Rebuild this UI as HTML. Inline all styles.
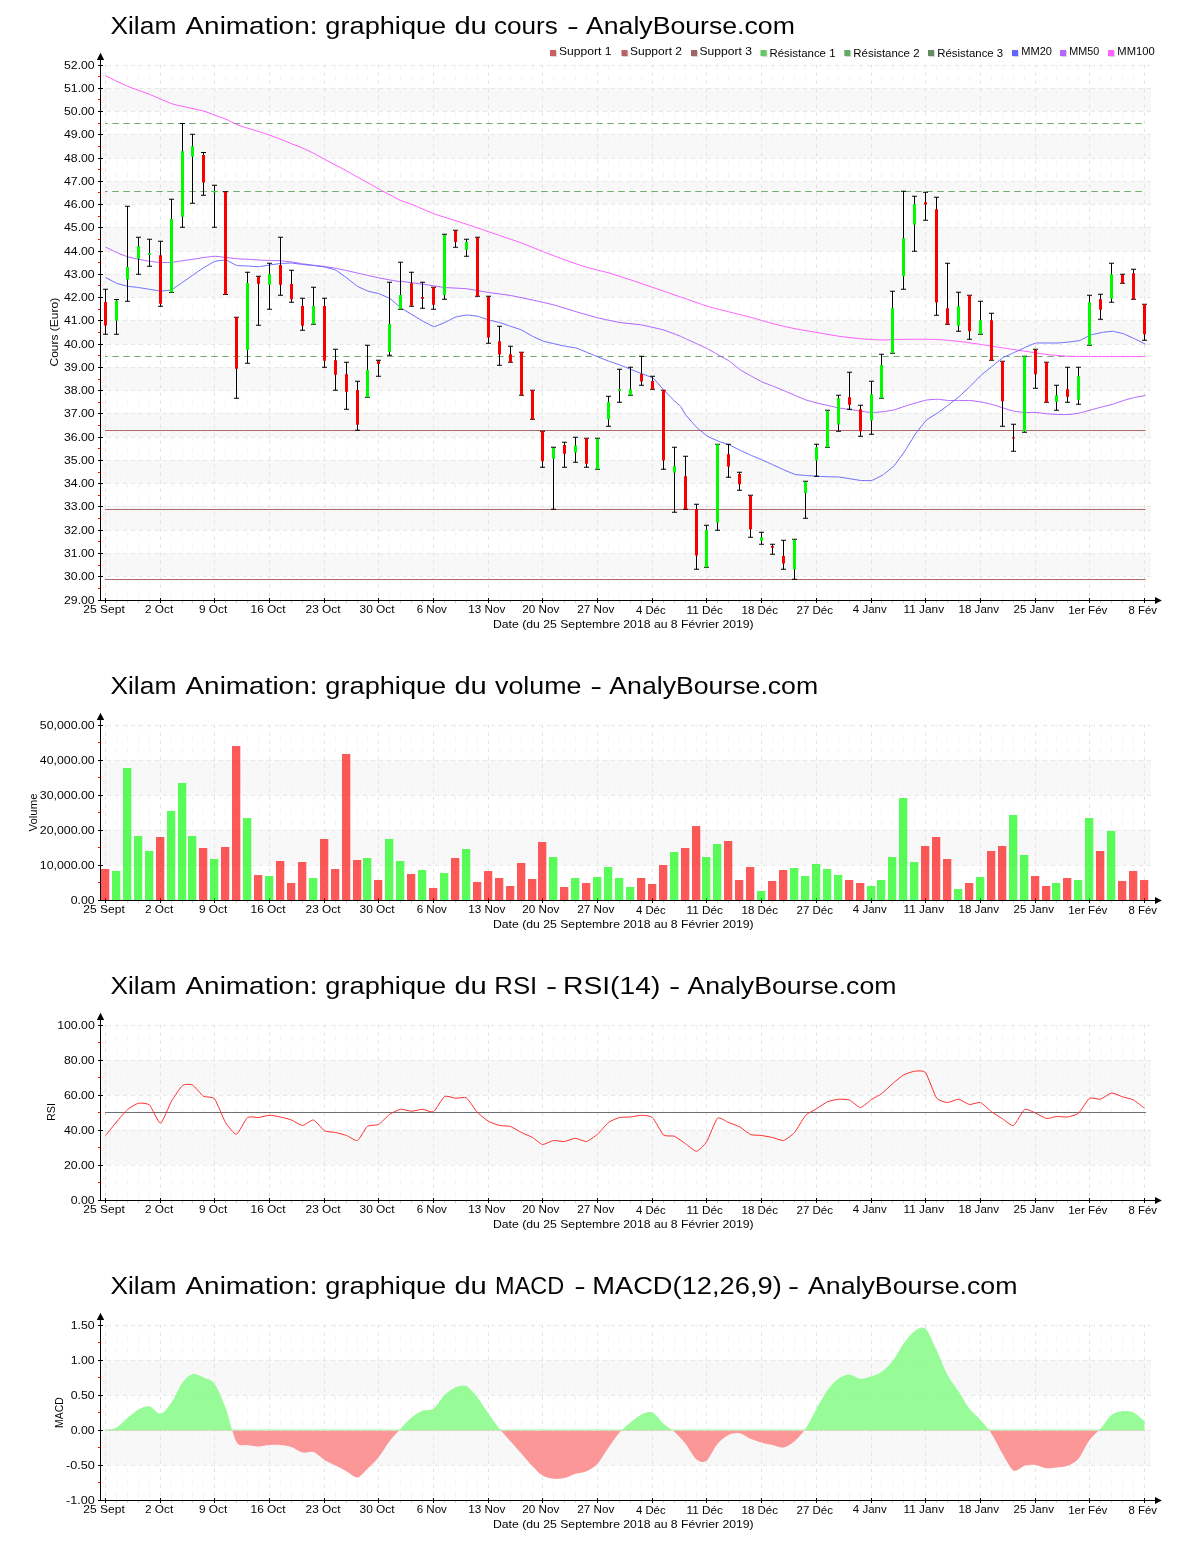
<!DOCTYPE html><html><head><meta charset="utf-8"><title>Xilam Animation</title><style>html,body{margin:0;padding:0;background:#fff}svg{display:block}text{font-family:"Liberation Sans",sans-serif;fill:#000}</style></head><body>
<svg width="1200" height="1550" viewBox="0 0 1200 1550">
<rect width="1200" height="1550" fill="#fff"/>
<rect x="100" y="88" width="1051" height="23" fill="#f8f8f8"/>
<rect x="100" y="134" width="1051" height="24" fill="#f8f8f8"/>
<rect x="100" y="181" width="1051" height="23" fill="#f8f8f8"/>
<rect x="100" y="227" width="1051" height="24" fill="#f8f8f8"/>
<rect x="100" y="274" width="1051" height="23" fill="#f8f8f8"/>
<rect x="100" y="320" width="1051" height="24" fill="#f8f8f8"/>
<rect x="100" y="367" width="1051" height="23" fill="#f8f8f8"/>
<rect x="100" y="413" width="1051" height="24" fill="#f8f8f8"/>
<rect x="100" y="460" width="1051" height="23" fill="#f8f8f8"/>
<rect x="100" y="506" width="1051" height="24" fill="#f8f8f8"/>
<rect x="100" y="553" width="1051" height="23" fill="#f8f8f8"/>
<line x1="105.5" y1="64.5" x2="105.5" y2="600" stroke="#e3e3e3" stroke-dasharray="3.5 4.5" stroke-width="1"/>
<line x1="116.5" y1="64.2" x2="116.5" y2="600" stroke="#f4f4f4" stroke-dasharray="5.5 6.5" stroke-width="1"/>
<line x1="127.5" y1="64.2" x2="127.5" y2="600" stroke="#f4f4f4" stroke-dasharray="5.5 6.5" stroke-width="1"/>
<line x1="138.5" y1="64.2" x2="138.5" y2="600" stroke="#f4f4f4" stroke-dasharray="5.5 6.5" stroke-width="1"/>
<line x1="149.5" y1="64.2" x2="149.5" y2="600" stroke="#f4f4f4" stroke-dasharray="5.5 6.5" stroke-width="1"/>
<line x1="160.5" y1="64.5" x2="160.5" y2="600" stroke="#e3e3e3" stroke-dasharray="3.5 4.5" stroke-width="1"/>
<line x1="171.5" y1="64.2" x2="171.5" y2="600" stroke="#f4f4f4" stroke-dasharray="5.5 6.5" stroke-width="1"/>
<line x1="182.5" y1="64.2" x2="182.5" y2="600" stroke="#f4f4f4" stroke-dasharray="5.5 6.5" stroke-width="1"/>
<line x1="192.5" y1="64.2" x2="192.5" y2="600" stroke="#f4f4f4" stroke-dasharray="5.5 6.5" stroke-width="1"/>
<line x1="203.5" y1="64.2" x2="203.5" y2="600" stroke="#f4f4f4" stroke-dasharray="5.5 6.5" stroke-width="1"/>
<line x1="214.5" y1="64.5" x2="214.5" y2="600" stroke="#e3e3e3" stroke-dasharray="3.5 4.5" stroke-width="1"/>
<line x1="225.5" y1="64.2" x2="225.5" y2="600" stroke="#f4f4f4" stroke-dasharray="5.5 6.5" stroke-width="1"/>
<line x1="236.5" y1="64.2" x2="236.5" y2="600" stroke="#f4f4f4" stroke-dasharray="5.5 6.5" stroke-width="1"/>
<line x1="247.5" y1="64.2" x2="247.5" y2="600" stroke="#f4f4f4" stroke-dasharray="5.5 6.5" stroke-width="1"/>
<line x1="258.5" y1="64.2" x2="258.5" y2="600" stroke="#f4f4f4" stroke-dasharray="5.5 6.5" stroke-width="1"/>
<line x1="269.5" y1="64.5" x2="269.5" y2="600" stroke="#e3e3e3" stroke-dasharray="3.5 4.5" stroke-width="1"/>
<line x1="280.5" y1="64.2" x2="280.5" y2="600" stroke="#f4f4f4" stroke-dasharray="5.5 6.5" stroke-width="1"/>
<line x1="291.5" y1="64.2" x2="291.5" y2="600" stroke="#f4f4f4" stroke-dasharray="5.5 6.5" stroke-width="1"/>
<line x1="302.5" y1="64.2" x2="302.5" y2="600" stroke="#f4f4f4" stroke-dasharray="5.5 6.5" stroke-width="1"/>
<line x1="313.5" y1="64.2" x2="313.5" y2="600" stroke="#f4f4f4" stroke-dasharray="5.5 6.5" stroke-width="1"/>
<line x1="324.5" y1="64.5" x2="324.5" y2="600" stroke="#e3e3e3" stroke-dasharray="3.5 4.5" stroke-width="1"/>
<line x1="335.5" y1="64.2" x2="335.5" y2="600" stroke="#f4f4f4" stroke-dasharray="5.5 6.5" stroke-width="1"/>
<line x1="346.5" y1="64.2" x2="346.5" y2="600" stroke="#f4f4f4" stroke-dasharray="5.5 6.5" stroke-width="1"/>
<line x1="357.5" y1="64.2" x2="357.5" y2="600" stroke="#f4f4f4" stroke-dasharray="5.5 6.5" stroke-width="1"/>
<line x1="367.5" y1="64.2" x2="367.5" y2="600" stroke="#f4f4f4" stroke-dasharray="5.5 6.5" stroke-width="1"/>
<line x1="378.5" y1="64.5" x2="378.5" y2="600" stroke="#e3e3e3" stroke-dasharray="3.5 4.5" stroke-width="1"/>
<line x1="389.5" y1="64.2" x2="389.5" y2="600" stroke="#f4f4f4" stroke-dasharray="5.5 6.5" stroke-width="1"/>
<line x1="400.5" y1="64.2" x2="400.5" y2="600" stroke="#f4f4f4" stroke-dasharray="5.5 6.5" stroke-width="1"/>
<line x1="411.5" y1="64.2" x2="411.5" y2="600" stroke="#f4f4f4" stroke-dasharray="5.5 6.5" stroke-width="1"/>
<line x1="422.5" y1="64.2" x2="422.5" y2="600" stroke="#f4f4f4" stroke-dasharray="5.5 6.5" stroke-width="1"/>
<line x1="433.5" y1="64.5" x2="433.5" y2="600" stroke="#e3e3e3" stroke-dasharray="3.5 4.5" stroke-width="1"/>
<line x1="444.5" y1="64.2" x2="444.5" y2="600" stroke="#f4f4f4" stroke-dasharray="5.5 6.5" stroke-width="1"/>
<line x1="455.5" y1="64.2" x2="455.5" y2="600" stroke="#f4f4f4" stroke-dasharray="5.5 6.5" stroke-width="1"/>
<line x1="466.5" y1="64.2" x2="466.5" y2="600" stroke="#f4f4f4" stroke-dasharray="5.5 6.5" stroke-width="1"/>
<line x1="477.5" y1="64.2" x2="477.5" y2="600" stroke="#f4f4f4" stroke-dasharray="5.5 6.5" stroke-width="1"/>
<line x1="488.5" y1="64.5" x2="488.5" y2="600" stroke="#e3e3e3" stroke-dasharray="3.5 4.5" stroke-width="1"/>
<line x1="499.5" y1="64.2" x2="499.5" y2="600" stroke="#f4f4f4" stroke-dasharray="5.5 6.5" stroke-width="1"/>
<line x1="510.5" y1="64.2" x2="510.5" y2="600" stroke="#f4f4f4" stroke-dasharray="5.5 6.5" stroke-width="1"/>
<line x1="521.5" y1="64.2" x2="521.5" y2="600" stroke="#f4f4f4" stroke-dasharray="5.5 6.5" stroke-width="1"/>
<line x1="532.5" y1="64.2" x2="532.5" y2="600" stroke="#f4f4f4" stroke-dasharray="5.5 6.5" stroke-width="1"/>
<line x1="542.5" y1="64.5" x2="542.5" y2="600" stroke="#e3e3e3" stroke-dasharray="3.5 4.5" stroke-width="1"/>
<line x1="553.5" y1="64.2" x2="553.5" y2="600" stroke="#f4f4f4" stroke-dasharray="5.5 6.5" stroke-width="1"/>
<line x1="564.5" y1="64.2" x2="564.5" y2="600" stroke="#f4f4f4" stroke-dasharray="5.5 6.5" stroke-width="1"/>
<line x1="575.5" y1="64.2" x2="575.5" y2="600" stroke="#f4f4f4" stroke-dasharray="5.5 6.5" stroke-width="1"/>
<line x1="586.5" y1="64.2" x2="586.5" y2="600" stroke="#f4f4f4" stroke-dasharray="5.5 6.5" stroke-width="1"/>
<line x1="597.5" y1="64.5" x2="597.5" y2="600" stroke="#e3e3e3" stroke-dasharray="3.5 4.5" stroke-width="1"/>
<line x1="608.5" y1="64.2" x2="608.5" y2="600" stroke="#f4f4f4" stroke-dasharray="5.5 6.5" stroke-width="1"/>
<line x1="619.5" y1="64.2" x2="619.5" y2="600" stroke="#f4f4f4" stroke-dasharray="5.5 6.5" stroke-width="1"/>
<line x1="630.5" y1="64.2" x2="630.5" y2="600" stroke="#f4f4f4" stroke-dasharray="5.5 6.5" stroke-width="1"/>
<line x1="641.5" y1="64.2" x2="641.5" y2="600" stroke="#f4f4f4" stroke-dasharray="5.5 6.5" stroke-width="1"/>
<line x1="652.5" y1="64.5" x2="652.5" y2="600" stroke="#e3e3e3" stroke-dasharray="3.5 4.5" stroke-width="1"/>
<line x1="663.5" y1="64.2" x2="663.5" y2="600" stroke="#f4f4f4" stroke-dasharray="5.5 6.5" stroke-width="1"/>
<line x1="674.5" y1="64.2" x2="674.5" y2="600" stroke="#f4f4f4" stroke-dasharray="5.5 6.5" stroke-width="1"/>
<line x1="685.5" y1="64.2" x2="685.5" y2="600" stroke="#f4f4f4" stroke-dasharray="5.5 6.5" stroke-width="1"/>
<line x1="696.5" y1="64.2" x2="696.5" y2="600" stroke="#f4f4f4" stroke-dasharray="5.5 6.5" stroke-width="1"/>
<line x1="706.5" y1="64.5" x2="706.5" y2="600" stroke="#e3e3e3" stroke-dasharray="3.5 4.5" stroke-width="1"/>
<line x1="717.5" y1="64.2" x2="717.5" y2="600" stroke="#f4f4f4" stroke-dasharray="5.5 6.5" stroke-width="1"/>
<line x1="728.5" y1="64.2" x2="728.5" y2="600" stroke="#f4f4f4" stroke-dasharray="5.5 6.5" stroke-width="1"/>
<line x1="739.5" y1="64.2" x2="739.5" y2="600" stroke="#f4f4f4" stroke-dasharray="5.5 6.5" stroke-width="1"/>
<line x1="750.5" y1="64.2" x2="750.5" y2="600" stroke="#f4f4f4" stroke-dasharray="5.5 6.5" stroke-width="1"/>
<line x1="761.5" y1="64.5" x2="761.5" y2="600" stroke="#e3e3e3" stroke-dasharray="3.5 4.5" stroke-width="1"/>
<line x1="772.5" y1="64.2" x2="772.5" y2="600" stroke="#f4f4f4" stroke-dasharray="5.5 6.5" stroke-width="1"/>
<line x1="783.5" y1="64.2" x2="783.5" y2="600" stroke="#f4f4f4" stroke-dasharray="5.5 6.5" stroke-width="1"/>
<line x1="794.5" y1="64.2" x2="794.5" y2="600" stroke="#f4f4f4" stroke-dasharray="5.5 6.5" stroke-width="1"/>
<line x1="805.5" y1="64.2" x2="805.5" y2="600" stroke="#f4f4f4" stroke-dasharray="5.5 6.5" stroke-width="1"/>
<line x1="816.5" y1="64.5" x2="816.5" y2="600" stroke="#e3e3e3" stroke-dasharray="3.5 4.5" stroke-width="1"/>
<line x1="827.5" y1="64.2" x2="827.5" y2="600" stroke="#f4f4f4" stroke-dasharray="5.5 6.5" stroke-width="1"/>
<line x1="838.5" y1="64.2" x2="838.5" y2="600" stroke="#f4f4f4" stroke-dasharray="5.5 6.5" stroke-width="1"/>
<line x1="849.5" y1="64.2" x2="849.5" y2="600" stroke="#f4f4f4" stroke-dasharray="5.5 6.5" stroke-width="1"/>
<line x1="860.5" y1="64.2" x2="860.5" y2="600" stroke="#f4f4f4" stroke-dasharray="5.5 6.5" stroke-width="1"/>
<line x1="871.5" y1="64.5" x2="871.5" y2="600" stroke="#e3e3e3" stroke-dasharray="3.5 4.5" stroke-width="1"/>
<line x1="881.5" y1="64.2" x2="881.5" y2="600" stroke="#f4f4f4" stroke-dasharray="5.5 6.5" stroke-width="1"/>
<line x1="892.5" y1="64.2" x2="892.5" y2="600" stroke="#f4f4f4" stroke-dasharray="5.5 6.5" stroke-width="1"/>
<line x1="903.5" y1="64.2" x2="903.5" y2="600" stroke="#f4f4f4" stroke-dasharray="5.5 6.5" stroke-width="1"/>
<line x1="914.5" y1="64.2" x2="914.5" y2="600" stroke="#f4f4f4" stroke-dasharray="5.5 6.5" stroke-width="1"/>
<line x1="925.5" y1="64.5" x2="925.5" y2="600" stroke="#e3e3e3" stroke-dasharray="3.5 4.5" stroke-width="1"/>
<line x1="936.5" y1="64.2" x2="936.5" y2="600" stroke="#f4f4f4" stroke-dasharray="5.5 6.5" stroke-width="1"/>
<line x1="947.5" y1="64.2" x2="947.5" y2="600" stroke="#f4f4f4" stroke-dasharray="5.5 6.5" stroke-width="1"/>
<line x1="958.5" y1="64.2" x2="958.5" y2="600" stroke="#f4f4f4" stroke-dasharray="5.5 6.5" stroke-width="1"/>
<line x1="969.5" y1="64.2" x2="969.5" y2="600" stroke="#f4f4f4" stroke-dasharray="5.5 6.5" stroke-width="1"/>
<line x1="980.5" y1="64.5" x2="980.5" y2="600" stroke="#e3e3e3" stroke-dasharray="3.5 4.5" stroke-width="1"/>
<line x1="991.5" y1="64.2" x2="991.5" y2="600" stroke="#f4f4f4" stroke-dasharray="5.5 6.5" stroke-width="1"/>
<line x1="1002.5" y1="64.2" x2="1002.5" y2="600" stroke="#f4f4f4" stroke-dasharray="5.5 6.5" stroke-width="1"/>
<line x1="1013.5" y1="64.2" x2="1013.5" y2="600" stroke="#f4f4f4" stroke-dasharray="5.5 6.5" stroke-width="1"/>
<line x1="1024.5" y1="64.2" x2="1024.5" y2="600" stroke="#f4f4f4" stroke-dasharray="5.5 6.5" stroke-width="1"/>
<line x1="1035.5" y1="64.5" x2="1035.5" y2="600" stroke="#e3e3e3" stroke-dasharray="3.5 4.5" stroke-width="1"/>
<line x1="1046.5" y1="64.2" x2="1046.5" y2="600" stroke="#f4f4f4" stroke-dasharray="5.5 6.5" stroke-width="1"/>
<line x1="1056.5" y1="64.2" x2="1056.5" y2="600" stroke="#f4f4f4" stroke-dasharray="5.5 6.5" stroke-width="1"/>
<line x1="1067.5" y1="64.2" x2="1067.5" y2="600" stroke="#f4f4f4" stroke-dasharray="5.5 6.5" stroke-width="1"/>
<line x1="1078.5" y1="64.2" x2="1078.5" y2="600" stroke="#f4f4f4" stroke-dasharray="5.5 6.5" stroke-width="1"/>
<line x1="1089.5" y1="64.5" x2="1089.5" y2="600" stroke="#e3e3e3" stroke-dasharray="3.5 4.5" stroke-width="1"/>
<line x1="1100.5" y1="64.2" x2="1100.5" y2="600" stroke="#f4f4f4" stroke-dasharray="5.5 6.5" stroke-width="1"/>
<line x1="1111.5" y1="64.2" x2="1111.5" y2="600" stroke="#f4f4f4" stroke-dasharray="5.5 6.5" stroke-width="1"/>
<line x1="1122.5" y1="64.2" x2="1122.5" y2="600" stroke="#f4f4f4" stroke-dasharray="5.5 6.5" stroke-width="1"/>
<line x1="1133.5" y1="64.2" x2="1133.5" y2="600" stroke="#f4f4f4" stroke-dasharray="5.5 6.5" stroke-width="1"/>
<line x1="1144.5" y1="64.5" x2="1144.5" y2="600" stroke="#e3e3e3" stroke-dasharray="3.5 4.5" stroke-width="1"/>
<line x1="107" y1="65.5" x2="1151" y2="65.5" stroke="#e7e7e7" stroke-dasharray="4 4" stroke-width="1"/>
<line x1="107" y1="88.5" x2="1151" y2="88.5" stroke="#e7e7e7" stroke-dasharray="4 4" stroke-width="1"/>
<line x1="107" y1="111.5" x2="1151" y2="111.5" stroke="#e7e7e7" stroke-dasharray="4 4" stroke-width="1"/>
<line x1="107" y1="134.5" x2="1151" y2="134.5" stroke="#e7e7e7" stroke-dasharray="4 4" stroke-width="1"/>
<line x1="107" y1="158.5" x2="1151" y2="158.5" stroke="#e7e7e7" stroke-dasharray="4 4" stroke-width="1"/>
<line x1="107" y1="181.5" x2="1151" y2="181.5" stroke="#e7e7e7" stroke-dasharray="4 4" stroke-width="1"/>
<line x1="107" y1="204.5" x2="1151" y2="204.5" stroke="#e7e7e7" stroke-dasharray="4 4" stroke-width="1"/>
<line x1="107" y1="227.5" x2="1151" y2="227.5" stroke="#e7e7e7" stroke-dasharray="4 4" stroke-width="1"/>
<line x1="107" y1="251.5" x2="1151" y2="251.5" stroke="#e7e7e7" stroke-dasharray="4 4" stroke-width="1"/>
<line x1="107" y1="274.5" x2="1151" y2="274.5" stroke="#e7e7e7" stroke-dasharray="4 4" stroke-width="1"/>
<line x1="107" y1="297.5" x2="1151" y2="297.5" stroke="#e7e7e7" stroke-dasharray="4 4" stroke-width="1"/>
<line x1="107" y1="320.5" x2="1151" y2="320.5" stroke="#e7e7e7" stroke-dasharray="4 4" stroke-width="1"/>
<line x1="107" y1="344.5" x2="1151" y2="344.5" stroke="#e7e7e7" stroke-dasharray="4 4" stroke-width="1"/>
<line x1="107" y1="367.5" x2="1151" y2="367.5" stroke="#e7e7e7" stroke-dasharray="4 4" stroke-width="1"/>
<line x1="107" y1="390.5" x2="1151" y2="390.5" stroke="#e7e7e7" stroke-dasharray="4 4" stroke-width="1"/>
<line x1="107" y1="413.5" x2="1151" y2="413.5" stroke="#e7e7e7" stroke-dasharray="4 4" stroke-width="1"/>
<line x1="107" y1="437.5" x2="1151" y2="437.5" stroke="#e7e7e7" stroke-dasharray="4 4" stroke-width="1"/>
<line x1="107" y1="460.5" x2="1151" y2="460.5" stroke="#e7e7e7" stroke-dasharray="4 4" stroke-width="1"/>
<line x1="107" y1="483.5" x2="1151" y2="483.5" stroke="#e7e7e7" stroke-dasharray="4 4" stroke-width="1"/>
<line x1="107" y1="506.5" x2="1151" y2="506.5" stroke="#e7e7e7" stroke-dasharray="4 4" stroke-width="1"/>
<line x1="107" y1="530.5" x2="1151" y2="530.5" stroke="#e7e7e7" stroke-dasharray="4 4" stroke-width="1"/>
<line x1="107" y1="553.5" x2="1151" y2="553.5" stroke="#e7e7e7" stroke-dasharray="4 4" stroke-width="1"/>
<line x1="107" y1="576.5" x2="1151" y2="576.5" stroke="#e7e7e7" stroke-dasharray="4 4" stroke-width="1"/>
<line x1="100.5" y1="57" x2="100.5" y2="601" stroke="#000" stroke-width="1"/>
<line x1="98" y1="600.5" x2="1158" y2="600.5" stroke="#000" stroke-width="1"/>
<polygon points="100.5,52.7 96.8,60 104.2,60" fill="#000"/>
<polygon points="1161.8,600.5 1155,597 1155,604" fill="#000"/>
<line x1="98" y1="65.5" x2="103" y2="65.5" stroke="#000" stroke-width="1"/>
<line x1="98" y1="76.5" x2="100.5" y2="76.5" stroke="#ff0000" stroke-width="1"/>
<line x1="98" y1="88.5" x2="103" y2="88.5" stroke="#000" stroke-width="1"/>
<line x1="98" y1="99.5" x2="100.5" y2="99.5" stroke="#ff0000" stroke-width="1"/>
<line x1="98" y1="111.5" x2="103" y2="111.5" stroke="#000" stroke-width="1"/>
<line x1="98" y1="123.5" x2="100.5" y2="123.5" stroke="#ff0000" stroke-width="1"/>
<line x1="98" y1="134.5" x2="103" y2="134.5" stroke="#000" stroke-width="1"/>
<line x1="98" y1="146.5" x2="100.5" y2="146.5" stroke="#ff0000" stroke-width="1"/>
<line x1="98" y1="158.5" x2="103" y2="158.5" stroke="#000" stroke-width="1"/>
<line x1="98" y1="169.5" x2="100.5" y2="169.5" stroke="#ff0000" stroke-width="1"/>
<line x1="98" y1="181.5" x2="103" y2="181.5" stroke="#000" stroke-width="1"/>
<line x1="98" y1="192.5" x2="100.5" y2="192.5" stroke="#ff0000" stroke-width="1"/>
<line x1="98" y1="204.5" x2="103" y2="204.5" stroke="#000" stroke-width="1"/>
<line x1="98" y1="216.5" x2="100.5" y2="216.5" stroke="#ff0000" stroke-width="1"/>
<line x1="98" y1="227.5" x2="103" y2="227.5" stroke="#000" stroke-width="1"/>
<line x1="98" y1="239.5" x2="100.5" y2="239.5" stroke="#ff0000" stroke-width="1"/>
<line x1="98" y1="251.5" x2="103" y2="251.5" stroke="#000" stroke-width="1"/>
<line x1="98" y1="262.5" x2="100.5" y2="262.5" stroke="#ff0000" stroke-width="1"/>
<line x1="98" y1="274.5" x2="103" y2="274.5" stroke="#000" stroke-width="1"/>
<line x1="98" y1="285.5" x2="100.5" y2="285.5" stroke="#ff0000" stroke-width="1"/>
<line x1="98" y1="297.5" x2="103" y2="297.5" stroke="#000" stroke-width="1"/>
<line x1="98" y1="309.5" x2="100.5" y2="309.5" stroke="#ff0000" stroke-width="1"/>
<line x1="98" y1="320.5" x2="103" y2="320.5" stroke="#000" stroke-width="1"/>
<line x1="98" y1="332.5" x2="100.5" y2="332.5" stroke="#ff0000" stroke-width="1"/>
<line x1="98" y1="344.5" x2="103" y2="344.5" stroke="#000" stroke-width="1"/>
<line x1="98" y1="355.5" x2="100.5" y2="355.5" stroke="#ff0000" stroke-width="1"/>
<line x1="98" y1="367.5" x2="103" y2="367.5" stroke="#000" stroke-width="1"/>
<line x1="98" y1="379.5" x2="100.5" y2="379.5" stroke="#ff0000" stroke-width="1"/>
<line x1="98" y1="390.5" x2="103" y2="390.5" stroke="#000" stroke-width="1"/>
<line x1="98" y1="402.5" x2="100.5" y2="402.5" stroke="#ff0000" stroke-width="1"/>
<line x1="98" y1="413.5" x2="103" y2="413.5" stroke="#000" stroke-width="1"/>
<line x1="98" y1="425.5" x2="100.5" y2="425.5" stroke="#ff0000" stroke-width="1"/>
<line x1="98" y1="437.5" x2="103" y2="437.5" stroke="#000" stroke-width="1"/>
<line x1="98" y1="448.5" x2="100.5" y2="448.5" stroke="#ff0000" stroke-width="1"/>
<line x1="98" y1="460.5" x2="103" y2="460.5" stroke="#000" stroke-width="1"/>
<line x1="98" y1="472.5" x2="100.5" y2="472.5" stroke="#ff0000" stroke-width="1"/>
<line x1="98" y1="483.5" x2="103" y2="483.5" stroke="#000" stroke-width="1"/>
<line x1="98" y1="495.5" x2="100.5" y2="495.5" stroke="#ff0000" stroke-width="1"/>
<line x1="98" y1="506.5" x2="103" y2="506.5" stroke="#000" stroke-width="1"/>
<line x1="98" y1="518.5" x2="100.5" y2="518.5" stroke="#ff0000" stroke-width="1"/>
<line x1="98" y1="530.5" x2="103" y2="530.5" stroke="#000" stroke-width="1"/>
<line x1="98" y1="541.5" x2="100.5" y2="541.5" stroke="#ff0000" stroke-width="1"/>
<line x1="98" y1="553.5" x2="103" y2="553.5" stroke="#000" stroke-width="1"/>
<line x1="98" y1="565.5" x2="100.5" y2="565.5" stroke="#ff0000" stroke-width="1"/>
<line x1="98" y1="576.5" x2="103" y2="576.5" stroke="#000" stroke-width="1"/>
<line x1="98" y1="588.5" x2="100.5" y2="588.5" stroke="#ff0000" stroke-width="1"/>
<line x1="98" y1="600.5" x2="103" y2="600.5" stroke="#000" stroke-width="1"/>
<line x1="105.5" y1="598" x2="105.5" y2="603" stroke="#000" stroke-width="1"/>
<line x1="116.5" y1="601" x2="116.5" y2="603" stroke="#d0d0d0" stroke-width="1"/>
<line x1="127.5" y1="601" x2="127.5" y2="603" stroke="#d0d0d0" stroke-width="1"/>
<line x1="138.5" y1="601" x2="138.5" y2="603" stroke="#d0d0d0" stroke-width="1"/>
<line x1="149.5" y1="601" x2="149.5" y2="603" stroke="#d0d0d0" stroke-width="1"/>
<line x1="160.5" y1="598" x2="160.5" y2="603" stroke="#000" stroke-width="1"/>
<line x1="171.5" y1="601" x2="171.5" y2="603" stroke="#d0d0d0" stroke-width="1"/>
<line x1="182.5" y1="601" x2="182.5" y2="603" stroke="#d0d0d0" stroke-width="1"/>
<line x1="192.5" y1="601" x2="192.5" y2="603" stroke="#d0d0d0" stroke-width="1"/>
<line x1="203.5" y1="601" x2="203.5" y2="603" stroke="#d0d0d0" stroke-width="1"/>
<line x1="214.5" y1="598" x2="214.5" y2="603" stroke="#000" stroke-width="1"/>
<line x1="225.5" y1="601" x2="225.5" y2="603" stroke="#d0d0d0" stroke-width="1"/>
<line x1="236.5" y1="601" x2="236.5" y2="603" stroke="#d0d0d0" stroke-width="1"/>
<line x1="247.5" y1="601" x2="247.5" y2="603" stroke="#d0d0d0" stroke-width="1"/>
<line x1="258.5" y1="601" x2="258.5" y2="603" stroke="#d0d0d0" stroke-width="1"/>
<line x1="269.5" y1="598" x2="269.5" y2="603" stroke="#000" stroke-width="1"/>
<line x1="280.5" y1="601" x2="280.5" y2="603" stroke="#d0d0d0" stroke-width="1"/>
<line x1="291.5" y1="601" x2="291.5" y2="603" stroke="#d0d0d0" stroke-width="1"/>
<line x1="302.5" y1="601" x2="302.5" y2="603" stroke="#d0d0d0" stroke-width="1"/>
<line x1="313.5" y1="601" x2="313.5" y2="603" stroke="#d0d0d0" stroke-width="1"/>
<line x1="324.5" y1="598" x2="324.5" y2="603" stroke="#000" stroke-width="1"/>
<line x1="335.5" y1="601" x2="335.5" y2="603" stroke="#d0d0d0" stroke-width="1"/>
<line x1="346.5" y1="601" x2="346.5" y2="603" stroke="#d0d0d0" stroke-width="1"/>
<line x1="357.5" y1="601" x2="357.5" y2="603" stroke="#d0d0d0" stroke-width="1"/>
<line x1="367.5" y1="601" x2="367.5" y2="603" stroke="#d0d0d0" stroke-width="1"/>
<line x1="378.5" y1="598" x2="378.5" y2="603" stroke="#000" stroke-width="1"/>
<line x1="389.5" y1="601" x2="389.5" y2="603" stroke="#d0d0d0" stroke-width="1"/>
<line x1="400.5" y1="601" x2="400.5" y2="603" stroke="#d0d0d0" stroke-width="1"/>
<line x1="411.5" y1="601" x2="411.5" y2="603" stroke="#d0d0d0" stroke-width="1"/>
<line x1="422.5" y1="601" x2="422.5" y2="603" stroke="#d0d0d0" stroke-width="1"/>
<line x1="433.5" y1="598" x2="433.5" y2="603" stroke="#000" stroke-width="1"/>
<line x1="444.5" y1="601" x2="444.5" y2="603" stroke="#d0d0d0" stroke-width="1"/>
<line x1="455.5" y1="601" x2="455.5" y2="603" stroke="#d0d0d0" stroke-width="1"/>
<line x1="466.5" y1="601" x2="466.5" y2="603" stroke="#d0d0d0" stroke-width="1"/>
<line x1="477.5" y1="601" x2="477.5" y2="603" stroke="#d0d0d0" stroke-width="1"/>
<line x1="488.5" y1="598" x2="488.5" y2="603" stroke="#000" stroke-width="1"/>
<line x1="499.5" y1="601" x2="499.5" y2="603" stroke="#d0d0d0" stroke-width="1"/>
<line x1="510.5" y1="601" x2="510.5" y2="603" stroke="#d0d0d0" stroke-width="1"/>
<line x1="521.5" y1="601" x2="521.5" y2="603" stroke="#d0d0d0" stroke-width="1"/>
<line x1="532.5" y1="601" x2="532.5" y2="603" stroke="#d0d0d0" stroke-width="1"/>
<line x1="542.5" y1="598" x2="542.5" y2="603" stroke="#000" stroke-width="1"/>
<line x1="553.5" y1="601" x2="553.5" y2="603" stroke="#d0d0d0" stroke-width="1"/>
<line x1="564.5" y1="601" x2="564.5" y2="603" stroke="#d0d0d0" stroke-width="1"/>
<line x1="575.5" y1="601" x2="575.5" y2="603" stroke="#d0d0d0" stroke-width="1"/>
<line x1="586.5" y1="601" x2="586.5" y2="603" stroke="#d0d0d0" stroke-width="1"/>
<line x1="597.5" y1="598" x2="597.5" y2="603" stroke="#000" stroke-width="1"/>
<line x1="608.5" y1="601" x2="608.5" y2="603" stroke="#d0d0d0" stroke-width="1"/>
<line x1="619.5" y1="601" x2="619.5" y2="603" stroke="#d0d0d0" stroke-width="1"/>
<line x1="630.5" y1="601" x2="630.5" y2="603" stroke="#d0d0d0" stroke-width="1"/>
<line x1="641.5" y1="601" x2="641.5" y2="603" stroke="#d0d0d0" stroke-width="1"/>
<line x1="652.5" y1="598" x2="652.5" y2="603" stroke="#000" stroke-width="1"/>
<line x1="663.5" y1="601" x2="663.5" y2="603" stroke="#d0d0d0" stroke-width="1"/>
<line x1="674.5" y1="601" x2="674.5" y2="603" stroke="#d0d0d0" stroke-width="1"/>
<line x1="685.5" y1="601" x2="685.5" y2="603" stroke="#d0d0d0" stroke-width="1"/>
<line x1="696.5" y1="601" x2="696.5" y2="603" stroke="#d0d0d0" stroke-width="1"/>
<line x1="706.5" y1="598" x2="706.5" y2="603" stroke="#000" stroke-width="1"/>
<line x1="717.5" y1="601" x2="717.5" y2="603" stroke="#d0d0d0" stroke-width="1"/>
<line x1="728.5" y1="601" x2="728.5" y2="603" stroke="#d0d0d0" stroke-width="1"/>
<line x1="739.5" y1="601" x2="739.5" y2="603" stroke="#d0d0d0" stroke-width="1"/>
<line x1="750.5" y1="601" x2="750.5" y2="603" stroke="#d0d0d0" stroke-width="1"/>
<line x1="761.5" y1="598" x2="761.5" y2="603" stroke="#000" stroke-width="1"/>
<line x1="772.5" y1="601" x2="772.5" y2="603" stroke="#d0d0d0" stroke-width="1"/>
<line x1="783.5" y1="601" x2="783.5" y2="603" stroke="#d0d0d0" stroke-width="1"/>
<line x1="794.5" y1="601" x2="794.5" y2="603" stroke="#d0d0d0" stroke-width="1"/>
<line x1="805.5" y1="601" x2="805.5" y2="603" stroke="#d0d0d0" stroke-width="1"/>
<line x1="816.5" y1="598" x2="816.5" y2="603" stroke="#000" stroke-width="1"/>
<line x1="827.5" y1="601" x2="827.5" y2="603" stroke="#d0d0d0" stroke-width="1"/>
<line x1="838.5" y1="601" x2="838.5" y2="603" stroke="#d0d0d0" stroke-width="1"/>
<line x1="849.5" y1="601" x2="849.5" y2="603" stroke="#d0d0d0" stroke-width="1"/>
<line x1="860.5" y1="601" x2="860.5" y2="603" stroke="#d0d0d0" stroke-width="1"/>
<line x1="871.5" y1="598" x2="871.5" y2="603" stroke="#000" stroke-width="1"/>
<line x1="881.5" y1="601" x2="881.5" y2="603" stroke="#d0d0d0" stroke-width="1"/>
<line x1="892.5" y1="601" x2="892.5" y2="603" stroke="#d0d0d0" stroke-width="1"/>
<line x1="903.5" y1="601" x2="903.5" y2="603" stroke="#d0d0d0" stroke-width="1"/>
<line x1="914.5" y1="601" x2="914.5" y2="603" stroke="#d0d0d0" stroke-width="1"/>
<line x1="925.5" y1="598" x2="925.5" y2="603" stroke="#000" stroke-width="1"/>
<line x1="936.5" y1="601" x2="936.5" y2="603" stroke="#d0d0d0" stroke-width="1"/>
<line x1="947.5" y1="601" x2="947.5" y2="603" stroke="#d0d0d0" stroke-width="1"/>
<line x1="958.5" y1="601" x2="958.5" y2="603" stroke="#d0d0d0" stroke-width="1"/>
<line x1="969.5" y1="601" x2="969.5" y2="603" stroke="#d0d0d0" stroke-width="1"/>
<line x1="980.5" y1="598" x2="980.5" y2="603" stroke="#000" stroke-width="1"/>
<line x1="991.5" y1="601" x2="991.5" y2="603" stroke="#d0d0d0" stroke-width="1"/>
<line x1="1002.5" y1="601" x2="1002.5" y2="603" stroke="#d0d0d0" stroke-width="1"/>
<line x1="1013.5" y1="601" x2="1013.5" y2="603" stroke="#d0d0d0" stroke-width="1"/>
<line x1="1024.5" y1="601" x2="1024.5" y2="603" stroke="#d0d0d0" stroke-width="1"/>
<line x1="1035.5" y1="598" x2="1035.5" y2="603" stroke="#000" stroke-width="1"/>
<line x1="1046.5" y1="601" x2="1046.5" y2="603" stroke="#d0d0d0" stroke-width="1"/>
<line x1="1056.5" y1="601" x2="1056.5" y2="603" stroke="#d0d0d0" stroke-width="1"/>
<line x1="1067.5" y1="601" x2="1067.5" y2="603" stroke="#d0d0d0" stroke-width="1"/>
<line x1="1078.5" y1="601" x2="1078.5" y2="603" stroke="#d0d0d0" stroke-width="1"/>
<line x1="1089.5" y1="598" x2="1089.5" y2="603" stroke="#000" stroke-width="1"/>
<line x1="1100.5" y1="601" x2="1100.5" y2="603" stroke="#d0d0d0" stroke-width="1"/>
<line x1="1111.5" y1="601" x2="1111.5" y2="603" stroke="#d0d0d0" stroke-width="1"/>
<line x1="1122.5" y1="601" x2="1122.5" y2="603" stroke="#d0d0d0" stroke-width="1"/>
<line x1="1133.5" y1="601" x2="1133.5" y2="603" stroke="#d0d0d0" stroke-width="1"/>
<line x1="1144.5" y1="598" x2="1144.5" y2="603" stroke="#000" stroke-width="1"/>
<rect x="551" y="51" width="6" height="6" fill="#d8d8d8"/>
<rect x="550" y="50" width="6" height="6" fill="#c86060"/>
<rect x="622.5" y="51" width="6" height="6" fill="#d8d8d8"/>
<rect x="621.5" y="50" width="6" height="6" fill="#b86464"/>
<rect x="692" y="51" width="6" height="6" fill="#d8d8d8"/>
<rect x="691" y="50" width="6" height="6" fill="#a06464"/>
<rect x="761.5" y="51" width="6" height="6" fill="#d8d8d8"/>
<rect x="760.5" y="50" width="6" height="6" fill="#64c864"/>
<rect x="845.3" y="51" width="6" height="6" fill="#d8d8d8"/>
<rect x="844.3" y="50" width="6" height="6" fill="#64aa64"/>
<rect x="929" y="51" width="6" height="6" fill="#d8d8d8"/>
<rect x="928" y="50" width="6" height="6" fill="#648c64"/>
<rect x="1013" y="51" width="6" height="6" fill="#d8d8d8"/>
<rect x="1012" y="50" width="6" height="6" fill="#6464ff"/>
<rect x="1061" y="51" width="6" height="6" fill="#d8d8d8"/>
<rect x="1060" y="50" width="6" height="6" fill="#b464ff"/>
<rect x="1109" y="51" width="6" height="6" fill="#d8d8d8"/>
<rect x="1108" y="50" width="6" height="6" fill="#ff64ff"/>
<line x1="105" y1="123.5" x2="1145.5" y2="123.5" stroke="#6eae6e" stroke-dasharray="6.5 4.5" stroke-dashoffset="3.75" stroke-width="1"/>
<line x1="105" y1="191.5" x2="1145.5" y2="191.5" stroke="#6eae6e" stroke-dasharray="6.5 4.5" stroke-dashoffset="3.75" stroke-width="1"/>
<line x1="105" y1="356.5" x2="1145.5" y2="356.5" stroke="#6eae6e" stroke-dasharray="6.5 4.5" stroke-dashoffset="3.75" stroke-width="1"/>
<line x1="105" y1="430.5" x2="1145.5" y2="430.5" stroke="#b06868" stroke-width="1"/>
<line x1="105" y1="509.5" x2="1145.5" y2="509.5" stroke="#b06868" stroke-width="1"/>
<line x1="105" y1="579.5" x2="1145.5" y2="579.5" stroke="#b06868" stroke-width="1"/>
<path d="M105.5,75.75 C108.14,77.01 122.25,84.03 127.5,86.25 C132.75,88.47 144,92.18 149.25,94.25 C154.5,96.32 167.29,102.06 171.25,103.5 C175.21,104.94 178.32,105.32 182.25,106.25 C186.18,107.18 200.07,110.17 204,111.25 C207.93,112.33 212.36,114.29 215,115.25 C217.64,116.21 223.39,118.14 226,119.25 C228.61,120.36 234.14,123.42 236.75,124.5 C239.36,125.58 245.11,127.41 247.75,128.25 C250.39,129.09 256.11,130.66 258.75,131.5 C261.39,132.34 267.11,134.32 269.75,135.25 C272.39,136.18 278.14,138.23 280.75,139.25 C283.36,140.27 288.89,142.7 291.5,143.75 C294.11,144.8 299.86,146.86 302.5,148 C305.14,149.14 310.86,151.9 313.5,153.25 C316.14,154.6 321.86,157.84 324.5,159.25 C327.14,160.66 332.89,163.62 335.5,165 C338.11,166.38 343.64,169.31 346.25,170.75 C348.86,172.19 354.61,175.53 357.25,177 C359.89,178.47 365.61,181.53 368.25,183 C370.89,184.47 376.61,187.81 379.25,189.25 C381.89,190.69 387.7,193.65 390.25,195 C392.8,196.35 397.89,199.36 400.5,200.5 C403.11,201.64 407.98,202.91 412,204.5 C416.02,206.09 428.75,211.8 434,213.75 C439.25,215.7 450.5,219.04 455.75,220.75 C461,222.46 472.5,226.23 477.75,228 C483,229.77 494.25,233.7 499.5,235.5 C504.75,237.3 516.22,241.05 521.5,243 C526.78,244.95 538.25,249.71 543.5,251.75 C548.75,253.79 560,258.11 565.25,260 C570.5,261.89 582,265.94 587.25,267.5 C592.5,269.06 603.75,271.5 609,273 C614.25,274.5 625.72,278.26 631,280 C636.28,281.74 647.75,285.7 653,287.5 C658.25,289.3 670.82,293.65 674.75,295 C678.68,296.35 681.82,297.4 685.75,298.75 C689.68,300.1 702.25,304.66 707.5,306.25 C712.75,307.84 724.22,310.65 729.5,312 C734.78,313.35 746.25,316.09 751.5,317.5 C756.75,318.91 768,322.4 773.25,323.75 C778.5,325.1 790,327.7 795.25,328.75 C800.5,329.8 811.75,331.6 817,332.5 C822.25,333.4 833.72,335.5 839,336.25 C844.28,337 855.75,338.3 861,338.75 C866.25,339.2 878.82,339.91 882.75,340 C886.68,340.09 889.82,339.59 893.75,339.5 C897.68,339.41 910.25,339.25 915.5,339.25 C920.75,339.25 932.22,339.23 937.5,339.5 C942.78,339.77 954.25,340.9 959.5,341.5 C964.75,342.1 976,343.72 981.25,344.5 C986.5,345.28 998,347.19 1003.25,348 C1008.5,348.81 1019.75,350.47 1025,351.25 C1030.25,352.03 1041.72,353.9 1047,354.5 C1052.28,355.1 1063.75,356.01 1069,356.25 C1074.25,356.49 1085.5,356.47 1090.75,356.5 C1096,356.53 1107.5,356.5 1112.75,356.5 C1118,356.5 1130.57,356.5 1134.5,356.5 C1138.43,356.5 1144.18,356.5 1145.5,356.5" fill="none" stroke="#ff5cff" stroke-width="1" stroke-linejoin="round"/>
<path d="M105.5,247 C106.05,247.28 115.4,252.01 116.5,252.5 C117.6,252.99 126.41,256.41 127.5,256.75 C128.59,257.09 137.16,259.02 138.25,259.25 C139.34,259.48 148.15,261.09 149.25,261.25 C150.35,261.41 159.15,262.44 160.25,262.5 C161.35,262.56 170.15,262.59 171.25,262.5 C172.35,262.41 181.16,260.91 182.25,260.75 C183.34,260.59 191.91,259.41 193,259.25 C194.09,259.09 202.9,257.65 204,257.5 C205.1,257.35 213.9,256.25 215,256.25 C216.1,256.25 224.91,257.38 226,257.5 C227.09,257.62 235.66,258.66 236.75,258.75 C237.84,258.84 246.65,259.19 247.75,259.25 C248.85,259.31 257.65,259.94 258.75,260 C259.85,260.06 268.65,260.46 269.75,260.5 C270.85,260.54 279.66,260.68 280.75,260.75 C281.84,260.82 290.41,261.85 291.5,262 C292.59,262.15 301.4,263.59 302.5,263.75 C303.6,263.91 312.4,265.11 313.5,265.25 C314.6,265.39 323.4,266.35 324.5,266.5 C325.6,266.65 334.41,268.05 335.5,268.25 C336.59,268.45 345.16,270.26 346.25,270.5 C347.34,270.74 356.15,272.75 357.25,273 C358.35,273.25 367.15,275.25 368.25,275.5 C369.35,275.75 378.15,277.77 379.25,278 C380.35,278.23 389.19,279.81 390.25,280 C391.31,280.19 399.96,281.69 400.5,281.75 C401.04,281.81 399.88,281.12 401,281.25 C402.12,281.38 420.81,283.94 423,284.25 C425.19,284.56 442.56,287.27 444.75,287.5 C446.94,287.73 464.55,288.5 466.75,288.75 C468.95,289 486.56,292.16 488.75,292.5 C490.94,292.84 508.31,295.12 510.5,295.5 C512.69,295.88 530.31,299.52 532.5,300 C534.69,300.48 552.06,304.41 554.25,305 C556.44,305.59 574.05,311.1 576.25,311.75 C578.45,312.4 596.06,317.46 598.25,318 C600.44,318.54 617.81,322.15 620,322.5 C622.19,322.85 639.81,324.62 642,325 C644.19,325.38 661.83,329.44 663.75,330 C665.67,330.56 679.4,335.81 680.5,336.25 C681.6,336.69 684.94,338.38 685.75,338.75 C686.56,339.12 695.66,343.25 696.75,343.75 C697.84,344.25 706.41,348.19 707.5,348.75 C708.59,349.31 717.4,354.38 718.5,355 C719.6,355.62 728.4,360.5 729.5,361.25 C730.6,362 739.4,369.25 740.5,370 C741.6,370.75 750.41,375.65 751.5,376.25 C752.59,376.85 761.16,381.5 762.25,382 C763.34,382.5 772.15,385.81 773.25,386.25 C774.35,386.69 783.15,390.29 784.25,390.75 C785.35,391.21 794.15,395.04 795.25,395.5 C796.35,395.96 805.16,399.62 806.25,400 C807.34,400.38 815.91,402.73 817,403 C818.09,403.27 826.9,405.25 828,405.5 C829.1,405.75 837.9,407.8 839,408 C840.1,408.2 848.9,409.34 850,409.5 C851.1,409.66 859.91,411.1 861,411.25 C862.09,411.4 870.66,412.48 871.75,412.5 C872.84,412.52 881.65,411.88 882.75,411.75 C883.85,411.62 892.65,410.27 893.75,410 C894.85,409.73 903.66,406.6 904.75,406.25 C905.84,405.9 914.41,403.31 915.5,403 C916.59,402.69 925.4,400.19 926.5,400 C927.6,399.81 936.4,399.23 937.5,399.25 C938.6,399.27 947.4,400.44 948.5,400.5 C949.6,400.56 958.41,400.5 959.5,400.5 C960.59,400.5 969.16,400.43 970.25,400.5 C971.34,400.57 980.15,401.8 981.25,402 C982.35,402.2 991.15,404.2 992.25,404.5 C993.35,404.8 1002.15,407.66 1003.25,408 C1004.35,408.34 1013.16,411.02 1014.25,411.25 C1015.34,411.48 1023.91,412.44 1025,412.5 C1026.09,412.56 1034.9,412.44 1036,412.5 C1037.1,412.56 1045.9,413.65 1047,413.75 C1048.1,413.85 1056.9,414.46 1058,414.5 C1059.1,414.54 1067.91,414.57 1069,414.5 C1070.09,414.43 1078.66,413.23 1079.75,413 C1080.84,412.77 1089.65,410.3 1090.75,410 C1091.85,409.7 1100.65,407.29 1101.75,407 C1102.85,406.71 1111.66,404.57 1112.75,404.25 C1113.84,403.93 1122.41,400.84 1123.5,400.5 C1124.59,400.16 1133.4,397.75 1134.5,397.5 C1135.6,397.25 1144.95,395.6 1145.5,395.5" fill="none" stroke="#b060ff" stroke-width="1" stroke-linejoin="round"/>
<path d="M105.5,277.5 C105.83,277.67 115.84,282.99 116.5,283.25 C117.16,283.51 126.85,286.12 127.5,286.25 C128.15,286.38 137.6,287.41 138.25,287.5 C138.9,287.59 148.59,289.14 149.25,289.25 C149.91,289.36 159.59,290.98 160.25,291 C160.91,291.02 170.59,290.25 171.25,290 C171.91,289.75 181.6,282.95 182.25,282.5 C182.9,282.05 192.35,275.45 193,275 C193.65,274.55 203.34,267.91 204,267.5 C204.66,267.09 214.34,261.48 215,261.25 C215.66,261.02 225.35,259.87 226,260 C226.65,260.13 236.1,265.32 236.75,265.5 C237.4,265.68 247.09,265.96 247.75,266 C248.41,266.04 258.09,266.78 258.75,266.75 C259.41,266.72 269.09,265.1 269.75,265 C270.41,264.9 280.1,263.56 280.75,263.5 C281.4,263.44 290.85,262.97 291.5,263 C292.15,263.03 301.84,264.43 302.5,264.5 C303.16,264.57 312.84,265.43 313.5,265.5 C314.16,265.57 323.84,266.87 324.5,267 C325.16,267.13 334.85,269.69 335.5,270 C336.15,270.31 345.6,277.01 346.25,277.5 C346.9,277.99 356.59,285.84 357.25,286.25 C357.91,286.66 367.59,291.02 368.25,291.25 C368.91,291.48 378.59,293.52 379.25,293.75 C379.91,293.98 389.61,298.34 390.25,298.75 C390.89,299.16 400.18,307.22 400.5,307.5 C400.82,307.78 400.32,307.59 401,308 C401.68,308.41 422.01,320.69 423,321.25 C423.99,321.81 433.35,326.71 434,326.75 C434.65,326.79 444.1,322.79 444.75,322.5 C445.4,322.21 455.09,317.23 455.75,317 C456.41,316.77 466.09,315.02 466.75,315 C467.41,314.98 477.09,316.1 477.75,316.25 C478.41,316.4 488.1,319.81 488.75,320 C489.4,320.19 498.85,322.31 499.5,322.5 C500.15,322.69 509.84,326.02 510.5,326.25 C511.16,326.48 520.84,329.7 521.5,330 C522.16,330.3 531.84,335.91 532.5,336.25 C533.16,336.59 542.85,341.02 543.5,341.25 C544.15,341.48 553.6,343.6 554.25,343.75 C554.9,343.9 564.59,346.12 565.25,346.25 C565.91,346.38 575.59,347.81 576.25,348 C576.91,348.19 586.59,352.23 587.25,352.5 C587.91,352.77 597.6,356.74 598.25,357 C598.9,357.26 608.35,361.01 609,361.25 C609.65,361.49 619.34,364.75 620,365 C620.66,365.25 630.34,369.24 631,369.5 C631.66,369.76 641.34,373.5 642,373.75 C642.66,374 652.35,377.51 653,378 C653.65,378.49 663.1,389.3 663.75,390 C664.4,390.7 674.25,400.76 674.75,401.25 C675.25,401.74 680.17,405.84 680.5,406.25 C680.83,406.66 685.26,414.36 685.75,415 C686.24,415.64 696.1,426.86 696.75,427.5 C697.4,428.14 706.85,435.84 707.5,436.25 C708.15,436.66 717.84,440.99 718.5,441.25 C719.16,441.51 728.84,444.72 729.5,445 C730.16,445.28 739.84,450.19 740.5,450.5 C741.16,450.81 750.85,455.21 751.5,455.5 C752.15,455.79 761.6,459.71 762.25,460 C762.9,460.29 772.59,464.7 773.25,465 C773.91,465.3 783.59,469.71 784.25,470 C784.91,470.29 794.59,474.33 795.25,474.5 C795.91,474.67 805.6,475.45 806.25,475.5 C806.9,475.55 816.35,476.21 817,476.25 C817.65,476.29 827.34,476.73 828,476.75 C828.66,476.77 838.34,476.94 839,477 C839.66,477.06 849.34,478.64 850,478.75 C850.66,478.86 860.35,480.45 861,480.5 C861.65,480.55 871.1,480.67 871.75,480.5 C872.4,480.33 882.09,475.43 882.75,475 C883.41,474.57 893.09,466.96 893.75,466.25 C894.41,465.54 904.1,452.23 904.75,451.25 C905.4,450.27 914.85,434.69 915.5,433.75 C916.15,432.81 925.84,420.62 926.5,420 C927.16,419.38 936.84,413.45 937.5,413 C938.16,412.55 947.84,405.5 948.5,405 C949.16,404.5 958.85,396.81 959.5,396.25 C960.15,395.69 969.6,386.89 970.25,386.25 C970.9,385.61 980.59,375.6 981.25,375 C981.91,374.4 991.59,366.77 992.25,366.25 C992.91,365.73 1002.59,357.91 1003.25,357.5 C1003.91,357.09 1013.6,352.8 1014.25,352.5 C1014.9,352.2 1024.35,347.79 1025,347.5 C1025.65,347.21 1035.34,343.13 1036,343 C1036.66,342.87 1046.34,343 1047,343 C1047.66,343 1057.34,343.03 1058,343 C1058.66,342.97 1068.35,342.07 1069,342 C1069.65,341.93 1079.1,340.71 1079.75,340.5 C1080.4,340.29 1090.09,335.24 1090.75,335 C1091.41,334.76 1101.09,332.61 1101.75,332.5 C1102.41,332.39 1112.1,331.21 1112.75,331.25 C1113.4,331.29 1122.85,333.52 1123.5,333.75 C1124.15,333.98 1133.84,338.44 1134.5,338.75 C1135.16,339.06 1145.17,344.08 1145.5,344.25" fill="none" stroke="#6868ff" stroke-width="1" stroke-linejoin="round"/>
<path d="M105.5,289.25V334.25M103.0,289.25H108.0M103.0,334.25H108.0" stroke="#000" stroke-width="1" fill="none"/>
<rect x="104.0" y="302" width="3" height="23.5" fill="#fa0000"/>
<path d="M116.5,299.5V334.25M114.0,299.5H119.0M114.0,334.25H119.0" stroke="#000" stroke-width="1" fill="none"/>
<rect x="115.0" y="300.75" width="3" height="20" fill="#00fa00"/>
<path d="M127.5,206.25V301.25M125.0,206.25H130.0M125.0,301.25H130.0" stroke="#000" stroke-width="1" fill="none"/>
<rect x="126.0" y="267" width="3" height="12.5" fill="#00fa00"/>
<path d="M138.5,237.25V274.25M136.0,237.25H141.0M136.0,274.25H141.0" stroke="#000" stroke-width="1" fill="none"/>
<rect x="137.0" y="246.25" width="3" height="12.5" fill="#00fa00"/>
<path d="M149.5,239.25V266.25M147.0,239.25H152.0M147.0,266.25H152.0" stroke="#000" stroke-width="1" fill="none"/>
<rect x="148.0" y="253" width="3" height="1.75" fill="#00fa00"/>
<path d="M160.5,241.25V306.25M158.0,241.25H163.0M158.0,306.25H163.0" stroke="#000" stroke-width="1" fill="none"/>
<rect x="159.0" y="255.25" width="3" height="48.5" fill="#fa0000"/>
<path d="M171.5,199.25V292.5M169.0,199.25H174.0M169.0,292.5H174.0" stroke="#000" stroke-width="1" fill="none"/>
<rect x="170.0" y="219" width="3" height="73.5" fill="#00fa00"/>
<path d="M182.5,123.5V227.25M180.0,123.5H185.0M180.0,227.25H185.0" stroke="#000" stroke-width="1" fill="none"/>
<rect x="181.0" y="151.25" width="3" height="65.5" fill="#00fa00"/>
<path d="M192.5,134.25V203.25M190.0,134.25H195.0M190.0,203.25H195.0" stroke="#000" stroke-width="1" fill="none"/>
<rect x="191.0" y="146.25" width="3" height="10.5" fill="#00fa00"/>
<path d="M203.5,152.5V195.25M201.0,152.5H206.0M201.0,195.25H206.0" stroke="#000" stroke-width="1" fill="none"/>
<rect x="202.0" y="155" width="3" height="27.5" fill="#fa0000"/>
<path d="M214.5,185.25V227.25M212.0,185.25H217.0M212.0,227.25H217.0" stroke="#000" stroke-width="1" fill="none"/>
<rect x="213.0" y="191" width="3" height="1.5" fill="#00fa00"/>
<path d="M225.5,191.75V294.5M223.0,191.75H228.0M223.0,294.5H228.0" stroke="#000" stroke-width="1" fill="none"/>
<rect x="224.0" y="191.75" width="3" height="102.75" fill="#fa0000"/>
<path d="M236.5,317.25V398.25M234.0,317.25H239.0M234.0,398.25H239.0" stroke="#000" stroke-width="1" fill="none"/>
<rect x="235.0" y="317.25" width="3" height="51.5" fill="#fa0000"/>
<path d="M247.5,272.25V363.25M245.0,272.25H250.0M245.0,363.25H250.0" stroke="#000" stroke-width="1" fill="none"/>
<rect x="246.0" y="283" width="3" height="67" fill="#00fa00"/>
<path d="M258.5,276.25V325.25M256.0,276.25H261.0M256.0,325.25H261.0" stroke="#000" stroke-width="1" fill="none"/>
<rect x="257.0" y="277" width="3" height="6.75" fill="#fa0000"/>
<path d="M269.5,263.25V309.25M267.0,263.25H272.0M267.0,309.25H272.0" stroke="#000" stroke-width="1" fill="none"/>
<rect x="268.0" y="274.25" width="3" height="10.5" fill="#00fa00"/>
<path d="M280.5,237.25V295.25M278.0,237.25H283.0M278.0,295.25H283.0" stroke="#000" stroke-width="1" fill="none"/>
<rect x="279.0" y="265" width="3" height="19.75" fill="#fa0000"/>
<path d="M291.5,270.25V302.25M289.0,270.25H294.0M289.0,302.25H294.0" stroke="#000" stroke-width="1" fill="none"/>
<rect x="290.0" y="284" width="3" height="15.25" fill="#fa0000"/>
<path d="M302.5,298.25V330.25M300.0,298.25H305.0M300.0,330.25H305.0" stroke="#000" stroke-width="1" fill="none"/>
<rect x="301.0" y="306" width="3" height="19.75" fill="#fa0000"/>
<path d="M313.5,287.25V324.25M311.0,287.25H316.0M311.0,324.25H316.0" stroke="#000" stroke-width="1" fill="none"/>
<rect x="312.0" y="306" width="3" height="18.25" fill="#00fa00"/>
<path d="M324.5,298.25V367.25M322.0,298.25H327.0M322.0,367.25H327.0" stroke="#000" stroke-width="1" fill="none"/>
<rect x="323.0" y="306" width="3" height="54.75" fill="#fa0000"/>
<path d="M335.5,349.25V390.25M333.0,349.25H338.0M333.0,390.25H338.0" stroke="#000" stroke-width="1" fill="none"/>
<rect x="334.0" y="360.25" width="3" height="14.5" fill="#fa0000"/>
<path d="M346.5,362.25V409.25M344.0,362.25H349.0M344.0,409.25H349.0" stroke="#000" stroke-width="1" fill="none"/>
<rect x="345.0" y="374.25" width="3" height="17.5" fill="#fa0000"/>
<path d="M357.5,381.25V430.25M355.0,381.25H360.0M355.0,430.25H360.0" stroke="#000" stroke-width="1" fill="none"/>
<rect x="356.0" y="390" width="3" height="34.75" fill="#fa0000"/>
<path d="M367.5,345.25V397.25M365.0,345.25H370.0M365.0,397.25H370.0" stroke="#000" stroke-width="1" fill="none"/>
<rect x="366.0" y="370" width="3" height="27.25" fill="#00fa00"/>
<path d="M378.5,360.25V376.25M376.0,360.25H381.0M376.0,376.25H381.0" stroke="#000" stroke-width="1" fill="none"/>
<rect x="377.0" y="361" width="3" height="3" fill="#fa0000"/>
<path d="M389.5,282.25V355.25M387.0,282.25H392.0M387.0,355.25H392.0" stroke="#000" stroke-width="1" fill="none"/>
<rect x="388.0" y="324" width="3" height="28" fill="#00fa00"/>
<path d="M400.5,262.25V309.25M398.0,262.25H403.0M398.0,309.25H403.0" stroke="#000" stroke-width="1" fill="none"/>
<rect x="399.0" y="295" width="3" height="14.25" fill="#00fa00"/>
<path d="M411.5,272.25V306.25M409.0,272.25H414.0M409.0,306.25H414.0" stroke="#000" stroke-width="1" fill="none"/>
<rect x="410.0" y="283.25" width="3" height="22.5" fill="#fa0000"/>
<path d="M422.5,282.25V308.25M420.0,282.25H425.0M420.0,308.25H425.0" stroke="#000" stroke-width="1" fill="none"/>
<rect x="421.0" y="297" width="3" height="1.75" fill="#fa0000"/>
<path d="M433.5,287.25V309.25M431.0,287.25H436.0M431.0,309.25H436.0" stroke="#000" stroke-width="1" fill="none"/>
<rect x="432.0" y="287.25" width="3" height="17.5" fill="#fa0000"/>
<path d="M444.5,234.25V299.25M442.0,234.25H447.0M442.0,299.25H447.0" stroke="#000" stroke-width="1" fill="none"/>
<rect x="443.0" y="235" width="3" height="60" fill="#00fa00"/>
<path d="M455.5,230.25V247.25M453.0,230.25H458.0M453.0,247.25H458.0" stroke="#000" stroke-width="1" fill="none"/>
<rect x="454.0" y="230.75" width="3" height="11.25" fill="#fa0000"/>
<path d="M466.5,239.25V256.25M464.0,239.25H469.0M464.0,256.25H469.0" stroke="#000" stroke-width="1" fill="none"/>
<rect x="465.0" y="242" width="3" height="7.75" fill="#00fa00"/>
<path d="M477.5,237.25V296.25M475.0,237.25H480.0M475.0,296.25H480.0" stroke="#000" stroke-width="1" fill="none"/>
<rect x="476.0" y="237.75" width="3" height="58.5" fill="#fa0000"/>
<path d="M488.5,296.25V343.25M486.0,296.25H491.0M486.0,343.25H491.0" stroke="#000" stroke-width="1" fill="none"/>
<rect x="487.0" y="297" width="3" height="40.5" fill="#fa0000"/>
<path d="M499.5,326.25V365.25M497.0,326.25H502.0M497.0,365.25H502.0" stroke="#000" stroke-width="1" fill="none"/>
<rect x="498.0" y="341.25" width="3" height="13.25" fill="#fa0000"/>
<path d="M510.5,346.25V362.25M508.0,346.25H513.0M508.0,362.25H513.0" stroke="#000" stroke-width="1" fill="none"/>
<rect x="509.0" y="354.25" width="3" height="8" fill="#fa0000"/>
<path d="M521.5,352.25V395.25M519.0,352.25H524.0M519.0,395.25H524.0" stroke="#000" stroke-width="1" fill="none"/>
<rect x="520.0" y="352.25" width="3" height="43" fill="#fa0000"/>
<path d="M532.5,390.25V419.25M530.0,390.25H535.0M530.0,419.25H535.0" stroke="#000" stroke-width="1" fill="none"/>
<rect x="531.0" y="390.25" width="3" height="29" fill="#fa0000"/>
<path d="M542.5,431.25V467.25M540.0,431.25H545.0M540.0,467.25H545.0" stroke="#000" stroke-width="1" fill="none"/>
<rect x="541.0" y="431.25" width="3" height="30" fill="#fa0000"/>
<path d="M553.5,447.25V509.25M551.0,447.25H556.0M551.0,509.25H556.0" stroke="#000" stroke-width="1" fill="none"/>
<rect x="552.0" y="448" width="3" height="10.75" fill="#00fa00"/>
<path d="M564.5,442.25V467.25M562.0,442.25H567.0M562.0,467.25H567.0" stroke="#000" stroke-width="1" fill="none"/>
<rect x="563.0" y="445" width="3" height="8.75" fill="#fa0000"/>
<path d="M575.5,437.25V462.25M573.0,437.25H578.0M573.0,462.25H578.0" stroke="#000" stroke-width="1" fill="none"/>
<rect x="574.0" y="445.5" width="3" height="7" fill="#00fa00"/>
<path d="M586.5,438.25V467.25M584.0,438.25H589.0M584.0,467.25H589.0" stroke="#000" stroke-width="1" fill="none"/>
<rect x="585.0" y="438.25" width="3" height="25.5" fill="#fa0000"/>
<path d="M597.5,438.25V469.25M595.0,438.25H600.0M595.0,469.25H600.0" stroke="#000" stroke-width="1" fill="none"/>
<rect x="596.0" y="438.75" width="3" height="30.5" fill="#00fa00"/>
<path d="M608.5,396.25V426.25M606.0,396.25H611.0M606.0,426.25H611.0" stroke="#000" stroke-width="1" fill="none"/>
<rect x="607.0" y="402" width="3" height="17.25" fill="#00fa00"/>
<path d="M619.5,369.25V402.25M617.0,369.25H622.0M617.0,402.25H622.0" stroke="#000" stroke-width="1" fill="none"/>
<rect x="618.0" y="389.25" width="3" height="1.75" fill="#00fa00"/>
<path d="M630.5,367.25V395.25M628.0,367.25H633.0M628.0,395.25H633.0" stroke="#000" stroke-width="1" fill="none"/>
<rect x="629.0" y="389.25" width="3" height="6" fill="#00fa00"/>
<path d="M641.5,356.25V385.25M639.0,356.25H644.0M639.0,385.25H644.0" stroke="#000" stroke-width="1" fill="none"/>
<rect x="640.0" y="374" width="3" height="7.5" fill="#fa0000"/>
<path d="M652.5,376.25V389.25M650.0,376.25H655.0M650.0,389.25H655.0" stroke="#000" stroke-width="1" fill="none"/>
<rect x="651.0" y="381" width="3" height="8.25" fill="#fa0000"/>
<path d="M663.5,390.25V469.25M661.0,390.25H666.0M661.0,469.25H666.0" stroke="#000" stroke-width="1" fill="none"/>
<rect x="662.0" y="390.25" width="3" height="70.25" fill="#fa0000"/>
<path d="M674.5,447.25V512.25M672.0,447.25H677.0M672.0,512.25H677.0" stroke="#000" stroke-width="1" fill="none"/>
<rect x="673.0" y="466.25" width="3" height="6.25" fill="#00fa00"/>
<path d="M685.5,456.25V509.25M683.0,456.25H688.0M683.0,509.25H688.0" stroke="#000" stroke-width="1" fill="none"/>
<rect x="684.0" y="476.25" width="3" height="33" fill="#fa0000"/>
<path d="M696.5,504.25V569.25M694.0,504.25H699.0M694.0,569.25H699.0" stroke="#000" stroke-width="1" fill="none"/>
<rect x="695.0" y="509.25" width="3" height="46.25" fill="#fa0000"/>
<path d="M706.5,525.25V567.25M704.0,525.25H709.0M704.0,567.25H709.0" stroke="#000" stroke-width="1" fill="none"/>
<rect x="705.0" y="530" width="3" height="37.25" fill="#00fa00"/>
<path d="M717.5,444.25V530.25M715.0,444.25H720.0M715.0,530.25H720.0" stroke="#000" stroke-width="1" fill="none"/>
<rect x="716.0" y="444.25" width="3" height="78.25" fill="#00fa00"/>
<path d="M728.5,444.25V477.25M726.0,444.25H731.0M726.0,477.25H731.0" stroke="#000" stroke-width="1" fill="none"/>
<rect x="727.0" y="454.25" width="3" height="12.25" fill="#fa0000"/>
<path d="M739.5,472.25V490.25M737.0,472.25H742.0M737.0,490.25H742.0" stroke="#000" stroke-width="1" fill="none"/>
<rect x="738.0" y="474" width="3" height="10.25" fill="#fa0000"/>
<path d="M750.5,495.25V537.25M748.0,495.25H753.0M748.0,537.25H753.0" stroke="#000" stroke-width="1" fill="none"/>
<rect x="749.0" y="495.75" width="3" height="33.5" fill="#fa0000"/>
<path d="M761.5,532.25V544.25M759.0,532.25H764.0M759.0,544.25H764.0" stroke="#000" stroke-width="1" fill="none"/>
<rect x="760.0" y="537.25" width="3" height="3.5" fill="#00fa00"/>
<path d="M772.5,544.25V554.25M770.0,544.25H775.0M770.0,554.25H775.0" stroke="#000" stroke-width="1" fill="none"/>
<rect x="771.0" y="546" width="3" height="1.75" fill="#fa0000"/>
<path d="M783.5,540.25V569.25M781.0,540.25H786.0M781.0,569.25H786.0" stroke="#000" stroke-width="1" fill="none"/>
<rect x="782.0" y="556" width="3" height="7.5" fill="#fa0000"/>
<path d="M794.5,539.25V579.25M792.0,539.25H797.0M792.0,579.25H797.0" stroke="#000" stroke-width="1" fill="none"/>
<rect x="793.0" y="539.75" width="3" height="29.5" fill="#00fa00"/>
<path d="M805.5,481.25V518.25M803.0,481.25H808.0M803.0,518.25H808.0" stroke="#000" stroke-width="1" fill="none"/>
<rect x="804.0" y="481.75" width="3" height="11.5" fill="#00fa00"/>
<path d="M816.5,444.25V476.25M814.0,444.25H819.0M814.0,476.25H819.0" stroke="#000" stroke-width="1" fill="none"/>
<rect x="815.0" y="447.25" width="3" height="13.25" fill="#00fa00"/>
<path d="M827.5,410.25V447.25M825.0,410.25H830.0M825.0,447.25H830.0" stroke="#000" stroke-width="1" fill="none"/>
<rect x="826.0" y="410.75" width="3" height="36.5" fill="#00fa00"/>
<path d="M838.5,395.25V431.25M836.0,395.25H841.0M836.0,431.25H841.0" stroke="#000" stroke-width="1" fill="none"/>
<rect x="837.0" y="398.25" width="3" height="26.25" fill="#00fa00"/>
<path d="M849.5,372.25V409.25M847.0,372.25H852.0M847.0,409.25H852.0" stroke="#000" stroke-width="1" fill="none"/>
<rect x="848.0" y="397.25" width="3" height="7.5" fill="#fa0000"/>
<path d="M860.5,405.25V436.25M858.0,405.25H863.0M858.0,436.25H863.0" stroke="#000" stroke-width="1" fill="none"/>
<rect x="859.0" y="409.25" width="3" height="22" fill="#fa0000"/>
<path d="M871.5,381.25V434.25M869.0,381.25H874.0M869.0,434.25H874.0" stroke="#000" stroke-width="1" fill="none"/>
<rect x="870.0" y="394.25" width="3" height="26.25" fill="#00fa00"/>
<path d="M881.5,354.25V398.25M879.0,354.25H884.0M879.0,398.25H884.0" stroke="#000" stroke-width="1" fill="none"/>
<rect x="880.0" y="365" width="3" height="33.25" fill="#00fa00"/>
<path d="M892.5,291.25V353.25M890.0,291.25H895.0M890.0,353.25H895.0" stroke="#000" stroke-width="1" fill="none"/>
<rect x="891.0" y="308.25" width="3" height="45" fill="#00fa00"/>
<path d="M903.5,191.25V289.25M901.0,191.25H906.0M901.0,289.25H906.0" stroke="#000" stroke-width="1" fill="none"/>
<rect x="902.0" y="238.25" width="3" height="38" fill="#00fa00"/>
<path d="M914.5,196.25V251.25M912.0,196.25H917.0M912.0,251.25H917.0" stroke="#000" stroke-width="1" fill="none"/>
<rect x="913.0" y="204.25" width="3" height="20.25" fill="#00fa00"/>
<path d="M925.5,192.25V220.25M923.0,192.25H928.0M923.0,220.25H928.0" stroke="#000" stroke-width="1" fill="none"/>
<rect x="924.0" y="202.25" width="3" height="2.25" fill="#fa0000"/>
<path d="M936.5,197.25V315.25M934.0,197.25H939.0M934.0,315.25H939.0" stroke="#000" stroke-width="1" fill="none"/>
<rect x="935.0" y="209.25" width="3" height="93.25" fill="#fa0000"/>
<path d="M947.5,263.25V324.25M945.0,263.25H950.0M945.0,324.25H950.0" stroke="#000" stroke-width="1" fill="none"/>
<rect x="946.0" y="308.25" width="3" height="16" fill="#fa0000"/>
<path d="M958.5,292.25V331.25M956.0,292.25H961.0M956.0,331.25H961.0" stroke="#000" stroke-width="1" fill="none"/>
<rect x="957.0" y="306.25" width="3" height="19.5" fill="#00fa00"/>
<path d="M969.5,295.25V339.25M967.0,295.25H972.0M967.0,339.25H972.0" stroke="#000" stroke-width="1" fill="none"/>
<rect x="968.0" y="295.25" width="3" height="36" fill="#fa0000"/>
<path d="M980.5,301.25V334.25M978.0,301.25H983.0M978.0,334.25H983.0" stroke="#000" stroke-width="1" fill="none"/>
<rect x="979.0" y="320.25" width="3" height="14" fill="#00fa00"/>
<path d="M991.5,313.25V360.25M989.0,313.25H994.0M989.0,360.25H994.0" stroke="#000" stroke-width="1" fill="none"/>
<rect x="990.0" y="320.25" width="3" height="40" fill="#fa0000"/>
<path d="M1002.5,361.25V426.25M1000.0,361.25H1005.0M1000.0,426.25H1005.0" stroke="#000" stroke-width="1" fill="none"/>
<rect x="1001.0" y="361.25" width="3" height="40" fill="#fa0000"/>
<path d="M1013.5,424.25V451.25M1011.0,424.25H1016.0M1011.0,451.25H1016.0" stroke="#000" stroke-width="1" fill="none"/>
<rect x="1012.0" y="437.25" width="3" height="1.25" fill="#fa0000"/>
<path d="M1024.5,356.25V432.25M1022.0,356.25H1027.0M1022.0,432.25H1027.0" stroke="#000" stroke-width="1" fill="none"/>
<rect x="1023.0" y="356.25" width="3" height="75" fill="#00fa00"/>
<path d="M1035.5,349.25V388.25M1033.0,349.25H1038.0M1033.0,388.25H1038.0" stroke="#000" stroke-width="1" fill="none"/>
<rect x="1034.0" y="349.75" width="3" height="24.5" fill="#fa0000"/>
<path d="M1046.5,362.25V402.25M1044.0,362.25H1049.0M1044.0,402.25H1049.0" stroke="#000" stroke-width="1" fill="none"/>
<rect x="1045.0" y="362.25" width="3" height="40" fill="#fa0000"/>
<path d="M1056.5,385.25V410.25M1054.0,385.25H1059.0M1054.0,410.25H1059.0" stroke="#000" stroke-width="1" fill="none"/>
<rect x="1055.0" y="395.25" width="3" height="6.5" fill="#00fa00"/>
<path d="M1067.5,367.25V402.25M1065.0,367.25H1070.0M1065.0,402.25H1070.0" stroke="#000" stroke-width="1" fill="none"/>
<rect x="1066.0" y="389.25" width="3" height="7.5" fill="#fa0000"/>
<path d="M1078.5,367.25V404.25M1076.0,367.25H1081.0M1076.0,404.25H1081.0" stroke="#000" stroke-width="1" fill="none"/>
<rect x="1077.0" y="376.25" width="3" height="23.5" fill="#00fa00"/>
<path d="M1089.5,295.25V345.25M1087.0,295.25H1092.0M1087.0,345.25H1092.0" stroke="#000" stroke-width="1" fill="none"/>
<rect x="1088.0" y="302.25" width="3" height="43" fill="#00fa00"/>
<path d="M1100.5,294.25V319.25M1098.0,294.25H1103.0M1098.0,319.25H1103.0" stroke="#000" stroke-width="1" fill="none"/>
<rect x="1099.0" y="299.25" width="3" height="10.5" fill="#fa0000"/>
<path d="M1111.5,263.25V302.25M1109.0,263.25H1114.0M1109.0,302.25H1114.0" stroke="#000" stroke-width="1" fill="none"/>
<rect x="1110.0" y="274.25" width="3" height="24.5" fill="#00fa00"/>
<path d="M1122.5,274.25V283.25M1120.0,274.25H1125.0M1120.0,283.25H1125.0" stroke="#000" stroke-width="1" fill="none"/>
<rect x="1121.0" y="274.75" width="3" height="8.5" fill="#fa0000"/>
<path d="M1133.5,269.25V299.25M1131.0,269.25H1136.0M1131.0,299.25H1136.0" stroke="#000" stroke-width="1" fill="none"/>
<rect x="1132.0" y="273.25" width="3" height="26" fill="#fa0000"/>
<path d="M1144.5,304.25V340.25M1142.0,304.25H1147.0M1142.0,340.25H1147.0" stroke="#000" stroke-width="1" fill="none"/>
<rect x="1143.0" y="304.25" width="3" height="30" fill="#fa0000"/>
<rect x="100" y="760" width="1051" height="35" fill="#f8f8f8"/>
<rect x="100" y="830" width="1051" height="35" fill="#f8f8f8"/>
<line x1="105.5" y1="724.5" x2="105.5" y2="900" stroke="#e3e3e3" stroke-dasharray="3.5 4.5" stroke-width="1"/>
<line x1="116.5" y1="724.2" x2="116.5" y2="900" stroke="#f4f4f4" stroke-dasharray="5.5 6.5" stroke-width="1"/>
<line x1="127.5" y1="724.2" x2="127.5" y2="900" stroke="#f4f4f4" stroke-dasharray="5.5 6.5" stroke-width="1"/>
<line x1="138.5" y1="724.2" x2="138.5" y2="900" stroke="#f4f4f4" stroke-dasharray="5.5 6.5" stroke-width="1"/>
<line x1="149.5" y1="724.2" x2="149.5" y2="900" stroke="#f4f4f4" stroke-dasharray="5.5 6.5" stroke-width="1"/>
<line x1="160.5" y1="724.5" x2="160.5" y2="900" stroke="#e3e3e3" stroke-dasharray="3.5 4.5" stroke-width="1"/>
<line x1="171.5" y1="724.2" x2="171.5" y2="900" stroke="#f4f4f4" stroke-dasharray="5.5 6.5" stroke-width="1"/>
<line x1="182.5" y1="724.2" x2="182.5" y2="900" stroke="#f4f4f4" stroke-dasharray="5.5 6.5" stroke-width="1"/>
<line x1="192.5" y1="724.2" x2="192.5" y2="900" stroke="#f4f4f4" stroke-dasharray="5.5 6.5" stroke-width="1"/>
<line x1="203.5" y1="724.2" x2="203.5" y2="900" stroke="#f4f4f4" stroke-dasharray="5.5 6.5" stroke-width="1"/>
<line x1="214.5" y1="724.5" x2="214.5" y2="900" stroke="#e3e3e3" stroke-dasharray="3.5 4.5" stroke-width="1"/>
<line x1="225.5" y1="724.2" x2="225.5" y2="900" stroke="#f4f4f4" stroke-dasharray="5.5 6.5" stroke-width="1"/>
<line x1="236.5" y1="724.2" x2="236.5" y2="900" stroke="#f4f4f4" stroke-dasharray="5.5 6.5" stroke-width="1"/>
<line x1="247.5" y1="724.2" x2="247.5" y2="900" stroke="#f4f4f4" stroke-dasharray="5.5 6.5" stroke-width="1"/>
<line x1="258.5" y1="724.2" x2="258.5" y2="900" stroke="#f4f4f4" stroke-dasharray="5.5 6.5" stroke-width="1"/>
<line x1="269.5" y1="724.5" x2="269.5" y2="900" stroke="#e3e3e3" stroke-dasharray="3.5 4.5" stroke-width="1"/>
<line x1="280.5" y1="724.2" x2="280.5" y2="900" stroke="#f4f4f4" stroke-dasharray="5.5 6.5" stroke-width="1"/>
<line x1="291.5" y1="724.2" x2="291.5" y2="900" stroke="#f4f4f4" stroke-dasharray="5.5 6.5" stroke-width="1"/>
<line x1="302.5" y1="724.2" x2="302.5" y2="900" stroke="#f4f4f4" stroke-dasharray="5.5 6.5" stroke-width="1"/>
<line x1="313.5" y1="724.2" x2="313.5" y2="900" stroke="#f4f4f4" stroke-dasharray="5.5 6.5" stroke-width="1"/>
<line x1="324.5" y1="724.5" x2="324.5" y2="900" stroke="#e3e3e3" stroke-dasharray="3.5 4.5" stroke-width="1"/>
<line x1="335.5" y1="724.2" x2="335.5" y2="900" stroke="#f4f4f4" stroke-dasharray="5.5 6.5" stroke-width="1"/>
<line x1="346.5" y1="724.2" x2="346.5" y2="900" stroke="#f4f4f4" stroke-dasharray="5.5 6.5" stroke-width="1"/>
<line x1="357.5" y1="724.2" x2="357.5" y2="900" stroke="#f4f4f4" stroke-dasharray="5.5 6.5" stroke-width="1"/>
<line x1="367.5" y1="724.2" x2="367.5" y2="900" stroke="#f4f4f4" stroke-dasharray="5.5 6.5" stroke-width="1"/>
<line x1="378.5" y1="724.5" x2="378.5" y2="900" stroke="#e3e3e3" stroke-dasharray="3.5 4.5" stroke-width="1"/>
<line x1="389.5" y1="724.2" x2="389.5" y2="900" stroke="#f4f4f4" stroke-dasharray="5.5 6.5" stroke-width="1"/>
<line x1="400.5" y1="724.2" x2="400.5" y2="900" stroke="#f4f4f4" stroke-dasharray="5.5 6.5" stroke-width="1"/>
<line x1="411.5" y1="724.2" x2="411.5" y2="900" stroke="#f4f4f4" stroke-dasharray="5.5 6.5" stroke-width="1"/>
<line x1="422.5" y1="724.2" x2="422.5" y2="900" stroke="#f4f4f4" stroke-dasharray="5.5 6.5" stroke-width="1"/>
<line x1="433.5" y1="724.5" x2="433.5" y2="900" stroke="#e3e3e3" stroke-dasharray="3.5 4.5" stroke-width="1"/>
<line x1="444.5" y1="724.2" x2="444.5" y2="900" stroke="#f4f4f4" stroke-dasharray="5.5 6.5" stroke-width="1"/>
<line x1="455.5" y1="724.2" x2="455.5" y2="900" stroke="#f4f4f4" stroke-dasharray="5.5 6.5" stroke-width="1"/>
<line x1="466.5" y1="724.2" x2="466.5" y2="900" stroke="#f4f4f4" stroke-dasharray="5.5 6.5" stroke-width="1"/>
<line x1="477.5" y1="724.2" x2="477.5" y2="900" stroke="#f4f4f4" stroke-dasharray="5.5 6.5" stroke-width="1"/>
<line x1="488.5" y1="724.5" x2="488.5" y2="900" stroke="#e3e3e3" stroke-dasharray="3.5 4.5" stroke-width="1"/>
<line x1="499.5" y1="724.2" x2="499.5" y2="900" stroke="#f4f4f4" stroke-dasharray="5.5 6.5" stroke-width="1"/>
<line x1="510.5" y1="724.2" x2="510.5" y2="900" stroke="#f4f4f4" stroke-dasharray="5.5 6.5" stroke-width="1"/>
<line x1="521.5" y1="724.2" x2="521.5" y2="900" stroke="#f4f4f4" stroke-dasharray="5.5 6.5" stroke-width="1"/>
<line x1="532.5" y1="724.2" x2="532.5" y2="900" stroke="#f4f4f4" stroke-dasharray="5.5 6.5" stroke-width="1"/>
<line x1="542.5" y1="724.5" x2="542.5" y2="900" stroke="#e3e3e3" stroke-dasharray="3.5 4.5" stroke-width="1"/>
<line x1="553.5" y1="724.2" x2="553.5" y2="900" stroke="#f4f4f4" stroke-dasharray="5.5 6.5" stroke-width="1"/>
<line x1="564.5" y1="724.2" x2="564.5" y2="900" stroke="#f4f4f4" stroke-dasharray="5.5 6.5" stroke-width="1"/>
<line x1="575.5" y1="724.2" x2="575.5" y2="900" stroke="#f4f4f4" stroke-dasharray="5.5 6.5" stroke-width="1"/>
<line x1="586.5" y1="724.2" x2="586.5" y2="900" stroke="#f4f4f4" stroke-dasharray="5.5 6.5" stroke-width="1"/>
<line x1="597.5" y1="724.5" x2="597.5" y2="900" stroke="#e3e3e3" stroke-dasharray="3.5 4.5" stroke-width="1"/>
<line x1="608.5" y1="724.2" x2="608.5" y2="900" stroke="#f4f4f4" stroke-dasharray="5.5 6.5" stroke-width="1"/>
<line x1="619.5" y1="724.2" x2="619.5" y2="900" stroke="#f4f4f4" stroke-dasharray="5.5 6.5" stroke-width="1"/>
<line x1="630.5" y1="724.2" x2="630.5" y2="900" stroke="#f4f4f4" stroke-dasharray="5.5 6.5" stroke-width="1"/>
<line x1="641.5" y1="724.2" x2="641.5" y2="900" stroke="#f4f4f4" stroke-dasharray="5.5 6.5" stroke-width="1"/>
<line x1="652.5" y1="724.5" x2="652.5" y2="900" stroke="#e3e3e3" stroke-dasharray="3.5 4.5" stroke-width="1"/>
<line x1="663.5" y1="724.2" x2="663.5" y2="900" stroke="#f4f4f4" stroke-dasharray="5.5 6.5" stroke-width="1"/>
<line x1="674.5" y1="724.2" x2="674.5" y2="900" stroke="#f4f4f4" stroke-dasharray="5.5 6.5" stroke-width="1"/>
<line x1="685.5" y1="724.2" x2="685.5" y2="900" stroke="#f4f4f4" stroke-dasharray="5.5 6.5" stroke-width="1"/>
<line x1="696.5" y1="724.2" x2="696.5" y2="900" stroke="#f4f4f4" stroke-dasharray="5.5 6.5" stroke-width="1"/>
<line x1="706.5" y1="724.5" x2="706.5" y2="900" stroke="#e3e3e3" stroke-dasharray="3.5 4.5" stroke-width="1"/>
<line x1="717.5" y1="724.2" x2="717.5" y2="900" stroke="#f4f4f4" stroke-dasharray="5.5 6.5" stroke-width="1"/>
<line x1="728.5" y1="724.2" x2="728.5" y2="900" stroke="#f4f4f4" stroke-dasharray="5.5 6.5" stroke-width="1"/>
<line x1="739.5" y1="724.2" x2="739.5" y2="900" stroke="#f4f4f4" stroke-dasharray="5.5 6.5" stroke-width="1"/>
<line x1="750.5" y1="724.2" x2="750.5" y2="900" stroke="#f4f4f4" stroke-dasharray="5.5 6.5" stroke-width="1"/>
<line x1="761.5" y1="724.5" x2="761.5" y2="900" stroke="#e3e3e3" stroke-dasharray="3.5 4.5" stroke-width="1"/>
<line x1="772.5" y1="724.2" x2="772.5" y2="900" stroke="#f4f4f4" stroke-dasharray="5.5 6.5" stroke-width="1"/>
<line x1="783.5" y1="724.2" x2="783.5" y2="900" stroke="#f4f4f4" stroke-dasharray="5.5 6.5" stroke-width="1"/>
<line x1="794.5" y1="724.2" x2="794.5" y2="900" stroke="#f4f4f4" stroke-dasharray="5.5 6.5" stroke-width="1"/>
<line x1="805.5" y1="724.2" x2="805.5" y2="900" stroke="#f4f4f4" stroke-dasharray="5.5 6.5" stroke-width="1"/>
<line x1="816.5" y1="724.5" x2="816.5" y2="900" stroke="#e3e3e3" stroke-dasharray="3.5 4.5" stroke-width="1"/>
<line x1="827.5" y1="724.2" x2="827.5" y2="900" stroke="#f4f4f4" stroke-dasharray="5.5 6.5" stroke-width="1"/>
<line x1="838.5" y1="724.2" x2="838.5" y2="900" stroke="#f4f4f4" stroke-dasharray="5.5 6.5" stroke-width="1"/>
<line x1="849.5" y1="724.2" x2="849.5" y2="900" stroke="#f4f4f4" stroke-dasharray="5.5 6.5" stroke-width="1"/>
<line x1="860.5" y1="724.2" x2="860.5" y2="900" stroke="#f4f4f4" stroke-dasharray="5.5 6.5" stroke-width="1"/>
<line x1="871.5" y1="724.5" x2="871.5" y2="900" stroke="#e3e3e3" stroke-dasharray="3.5 4.5" stroke-width="1"/>
<line x1="881.5" y1="724.2" x2="881.5" y2="900" stroke="#f4f4f4" stroke-dasharray="5.5 6.5" stroke-width="1"/>
<line x1="892.5" y1="724.2" x2="892.5" y2="900" stroke="#f4f4f4" stroke-dasharray="5.5 6.5" stroke-width="1"/>
<line x1="903.5" y1="724.2" x2="903.5" y2="900" stroke="#f4f4f4" stroke-dasharray="5.5 6.5" stroke-width="1"/>
<line x1="914.5" y1="724.2" x2="914.5" y2="900" stroke="#f4f4f4" stroke-dasharray="5.5 6.5" stroke-width="1"/>
<line x1="925.5" y1="724.5" x2="925.5" y2="900" stroke="#e3e3e3" stroke-dasharray="3.5 4.5" stroke-width="1"/>
<line x1="936.5" y1="724.2" x2="936.5" y2="900" stroke="#f4f4f4" stroke-dasharray="5.5 6.5" stroke-width="1"/>
<line x1="947.5" y1="724.2" x2="947.5" y2="900" stroke="#f4f4f4" stroke-dasharray="5.5 6.5" stroke-width="1"/>
<line x1="958.5" y1="724.2" x2="958.5" y2="900" stroke="#f4f4f4" stroke-dasharray="5.5 6.5" stroke-width="1"/>
<line x1="969.5" y1="724.2" x2="969.5" y2="900" stroke="#f4f4f4" stroke-dasharray="5.5 6.5" stroke-width="1"/>
<line x1="980.5" y1="724.5" x2="980.5" y2="900" stroke="#e3e3e3" stroke-dasharray="3.5 4.5" stroke-width="1"/>
<line x1="991.5" y1="724.2" x2="991.5" y2="900" stroke="#f4f4f4" stroke-dasharray="5.5 6.5" stroke-width="1"/>
<line x1="1002.5" y1="724.2" x2="1002.5" y2="900" stroke="#f4f4f4" stroke-dasharray="5.5 6.5" stroke-width="1"/>
<line x1="1013.5" y1="724.2" x2="1013.5" y2="900" stroke="#f4f4f4" stroke-dasharray="5.5 6.5" stroke-width="1"/>
<line x1="1024.5" y1="724.2" x2="1024.5" y2="900" stroke="#f4f4f4" stroke-dasharray="5.5 6.5" stroke-width="1"/>
<line x1="1035.5" y1="724.5" x2="1035.5" y2="900" stroke="#e3e3e3" stroke-dasharray="3.5 4.5" stroke-width="1"/>
<line x1="1046.5" y1="724.2" x2="1046.5" y2="900" stroke="#f4f4f4" stroke-dasharray="5.5 6.5" stroke-width="1"/>
<line x1="1056.5" y1="724.2" x2="1056.5" y2="900" stroke="#f4f4f4" stroke-dasharray="5.5 6.5" stroke-width="1"/>
<line x1="1067.5" y1="724.2" x2="1067.5" y2="900" stroke="#f4f4f4" stroke-dasharray="5.5 6.5" stroke-width="1"/>
<line x1="1078.5" y1="724.2" x2="1078.5" y2="900" stroke="#f4f4f4" stroke-dasharray="5.5 6.5" stroke-width="1"/>
<line x1="1089.5" y1="724.5" x2="1089.5" y2="900" stroke="#e3e3e3" stroke-dasharray="3.5 4.5" stroke-width="1"/>
<line x1="1100.5" y1="724.2" x2="1100.5" y2="900" stroke="#f4f4f4" stroke-dasharray="5.5 6.5" stroke-width="1"/>
<line x1="1111.5" y1="724.2" x2="1111.5" y2="900" stroke="#f4f4f4" stroke-dasharray="5.5 6.5" stroke-width="1"/>
<line x1="1122.5" y1="724.2" x2="1122.5" y2="900" stroke="#f4f4f4" stroke-dasharray="5.5 6.5" stroke-width="1"/>
<line x1="1133.5" y1="724.2" x2="1133.5" y2="900" stroke="#f4f4f4" stroke-dasharray="5.5 6.5" stroke-width="1"/>
<line x1="1144.5" y1="724.5" x2="1144.5" y2="900" stroke="#e3e3e3" stroke-dasharray="3.5 4.5" stroke-width="1"/>
<line x1="107" y1="725.5" x2="1151" y2="725.5" stroke="#e7e7e7" stroke-dasharray="4 4" stroke-width="1"/>
<line x1="107" y1="760.5" x2="1151" y2="760.5" stroke="#e7e7e7" stroke-dasharray="4 4" stroke-width="1"/>
<line x1="107" y1="795.5" x2="1151" y2="795.5" stroke="#e7e7e7" stroke-dasharray="4 4" stroke-width="1"/>
<line x1="107" y1="830.5" x2="1151" y2="830.5" stroke="#e7e7e7" stroke-dasharray="4 4" stroke-width="1"/>
<line x1="107" y1="865.5" x2="1151" y2="865.5" stroke="#e7e7e7" stroke-dasharray="4 4" stroke-width="1"/>
<line x1="100.5" y1="717" x2="100.5" y2="901" stroke="#000" stroke-width="1"/>
<line x1="98" y1="900.5" x2="1158" y2="900.5" stroke="#000" stroke-width="1"/>
<polygon points="100.5,712.7 96.8,720 104.2,720" fill="#000"/>
<polygon points="1161.8,900.5 1155,897 1155,904" fill="#000"/>
<line x1="98" y1="725.5" x2="103" y2="725.5" stroke="#000" stroke-width="1"/>
<line x1="98" y1="742.5" x2="100.5" y2="742.5" stroke="#ff0000" stroke-width="1"/>
<line x1="98" y1="760.5" x2="103" y2="760.5" stroke="#000" stroke-width="1"/>
<line x1="98" y1="777.5" x2="100.5" y2="777.5" stroke="#ff0000" stroke-width="1"/>
<line x1="98" y1="795.5" x2="103" y2="795.5" stroke="#000" stroke-width="1"/>
<line x1="98" y1="812.5" x2="100.5" y2="812.5" stroke="#ff0000" stroke-width="1"/>
<line x1="98" y1="830.5" x2="103" y2="830.5" stroke="#000" stroke-width="1"/>
<line x1="98" y1="847.5" x2="100.5" y2="847.5" stroke="#ff0000" stroke-width="1"/>
<line x1="98" y1="865.5" x2="103" y2="865.5" stroke="#000" stroke-width="1"/>
<line x1="98" y1="882.5" x2="100.5" y2="882.5" stroke="#ff0000" stroke-width="1"/>
<line x1="98" y1="900.5" x2="103" y2="900.5" stroke="#000" stroke-width="1"/>
<line x1="105.5" y1="898" x2="105.5" y2="903" stroke="#000" stroke-width="1"/>
<line x1="116.5" y1="901" x2="116.5" y2="903" stroke="#d0d0d0" stroke-width="1"/>
<line x1="127.5" y1="901" x2="127.5" y2="903" stroke="#d0d0d0" stroke-width="1"/>
<line x1="138.5" y1="901" x2="138.5" y2="903" stroke="#d0d0d0" stroke-width="1"/>
<line x1="149.5" y1="901" x2="149.5" y2="903" stroke="#d0d0d0" stroke-width="1"/>
<line x1="160.5" y1="898" x2="160.5" y2="903" stroke="#000" stroke-width="1"/>
<line x1="171.5" y1="901" x2="171.5" y2="903" stroke="#d0d0d0" stroke-width="1"/>
<line x1="182.5" y1="901" x2="182.5" y2="903" stroke="#d0d0d0" stroke-width="1"/>
<line x1="192.5" y1="901" x2="192.5" y2="903" stroke="#d0d0d0" stroke-width="1"/>
<line x1="203.5" y1="901" x2="203.5" y2="903" stroke="#d0d0d0" stroke-width="1"/>
<line x1="214.5" y1="898" x2="214.5" y2="903" stroke="#000" stroke-width="1"/>
<line x1="225.5" y1="901" x2="225.5" y2="903" stroke="#d0d0d0" stroke-width="1"/>
<line x1="236.5" y1="901" x2="236.5" y2="903" stroke="#d0d0d0" stroke-width="1"/>
<line x1="247.5" y1="901" x2="247.5" y2="903" stroke="#d0d0d0" stroke-width="1"/>
<line x1="258.5" y1="901" x2="258.5" y2="903" stroke="#d0d0d0" stroke-width="1"/>
<line x1="269.5" y1="898" x2="269.5" y2="903" stroke="#000" stroke-width="1"/>
<line x1="280.5" y1="901" x2="280.5" y2="903" stroke="#d0d0d0" stroke-width="1"/>
<line x1="291.5" y1="901" x2="291.5" y2="903" stroke="#d0d0d0" stroke-width="1"/>
<line x1="302.5" y1="901" x2="302.5" y2="903" stroke="#d0d0d0" stroke-width="1"/>
<line x1="313.5" y1="901" x2="313.5" y2="903" stroke="#d0d0d0" stroke-width="1"/>
<line x1="324.5" y1="898" x2="324.5" y2="903" stroke="#000" stroke-width="1"/>
<line x1="335.5" y1="901" x2="335.5" y2="903" stroke="#d0d0d0" stroke-width="1"/>
<line x1="346.5" y1="901" x2="346.5" y2="903" stroke="#d0d0d0" stroke-width="1"/>
<line x1="357.5" y1="901" x2="357.5" y2="903" stroke="#d0d0d0" stroke-width="1"/>
<line x1="367.5" y1="901" x2="367.5" y2="903" stroke="#d0d0d0" stroke-width="1"/>
<line x1="378.5" y1="898" x2="378.5" y2="903" stroke="#000" stroke-width="1"/>
<line x1="389.5" y1="901" x2="389.5" y2="903" stroke="#d0d0d0" stroke-width="1"/>
<line x1="400.5" y1="901" x2="400.5" y2="903" stroke="#d0d0d0" stroke-width="1"/>
<line x1="411.5" y1="901" x2="411.5" y2="903" stroke="#d0d0d0" stroke-width="1"/>
<line x1="422.5" y1="901" x2="422.5" y2="903" stroke="#d0d0d0" stroke-width="1"/>
<line x1="433.5" y1="898" x2="433.5" y2="903" stroke="#000" stroke-width="1"/>
<line x1="444.5" y1="901" x2="444.5" y2="903" stroke="#d0d0d0" stroke-width="1"/>
<line x1="455.5" y1="901" x2="455.5" y2="903" stroke="#d0d0d0" stroke-width="1"/>
<line x1="466.5" y1="901" x2="466.5" y2="903" stroke="#d0d0d0" stroke-width="1"/>
<line x1="477.5" y1="901" x2="477.5" y2="903" stroke="#d0d0d0" stroke-width="1"/>
<line x1="488.5" y1="898" x2="488.5" y2="903" stroke="#000" stroke-width="1"/>
<line x1="499.5" y1="901" x2="499.5" y2="903" stroke="#d0d0d0" stroke-width="1"/>
<line x1="510.5" y1="901" x2="510.5" y2="903" stroke="#d0d0d0" stroke-width="1"/>
<line x1="521.5" y1="901" x2="521.5" y2="903" stroke="#d0d0d0" stroke-width="1"/>
<line x1="532.5" y1="901" x2="532.5" y2="903" stroke="#d0d0d0" stroke-width="1"/>
<line x1="542.5" y1="898" x2="542.5" y2="903" stroke="#000" stroke-width="1"/>
<line x1="553.5" y1="901" x2="553.5" y2="903" stroke="#d0d0d0" stroke-width="1"/>
<line x1="564.5" y1="901" x2="564.5" y2="903" stroke="#d0d0d0" stroke-width="1"/>
<line x1="575.5" y1="901" x2="575.5" y2="903" stroke="#d0d0d0" stroke-width="1"/>
<line x1="586.5" y1="901" x2="586.5" y2="903" stroke="#d0d0d0" stroke-width="1"/>
<line x1="597.5" y1="898" x2="597.5" y2="903" stroke="#000" stroke-width="1"/>
<line x1="608.5" y1="901" x2="608.5" y2="903" stroke="#d0d0d0" stroke-width="1"/>
<line x1="619.5" y1="901" x2="619.5" y2="903" stroke="#d0d0d0" stroke-width="1"/>
<line x1="630.5" y1="901" x2="630.5" y2="903" stroke="#d0d0d0" stroke-width="1"/>
<line x1="641.5" y1="901" x2="641.5" y2="903" stroke="#d0d0d0" stroke-width="1"/>
<line x1="652.5" y1="898" x2="652.5" y2="903" stroke="#000" stroke-width="1"/>
<line x1="663.5" y1="901" x2="663.5" y2="903" stroke="#d0d0d0" stroke-width="1"/>
<line x1="674.5" y1="901" x2="674.5" y2="903" stroke="#d0d0d0" stroke-width="1"/>
<line x1="685.5" y1="901" x2="685.5" y2="903" stroke="#d0d0d0" stroke-width="1"/>
<line x1="696.5" y1="901" x2="696.5" y2="903" stroke="#d0d0d0" stroke-width="1"/>
<line x1="706.5" y1="898" x2="706.5" y2="903" stroke="#000" stroke-width="1"/>
<line x1="717.5" y1="901" x2="717.5" y2="903" stroke="#d0d0d0" stroke-width="1"/>
<line x1="728.5" y1="901" x2="728.5" y2="903" stroke="#d0d0d0" stroke-width="1"/>
<line x1="739.5" y1="901" x2="739.5" y2="903" stroke="#d0d0d0" stroke-width="1"/>
<line x1="750.5" y1="901" x2="750.5" y2="903" stroke="#d0d0d0" stroke-width="1"/>
<line x1="761.5" y1="898" x2="761.5" y2="903" stroke="#000" stroke-width="1"/>
<line x1="772.5" y1="901" x2="772.5" y2="903" stroke="#d0d0d0" stroke-width="1"/>
<line x1="783.5" y1="901" x2="783.5" y2="903" stroke="#d0d0d0" stroke-width="1"/>
<line x1="794.5" y1="901" x2="794.5" y2="903" stroke="#d0d0d0" stroke-width="1"/>
<line x1="805.5" y1="901" x2="805.5" y2="903" stroke="#d0d0d0" stroke-width="1"/>
<line x1="816.5" y1="898" x2="816.5" y2="903" stroke="#000" stroke-width="1"/>
<line x1="827.5" y1="901" x2="827.5" y2="903" stroke="#d0d0d0" stroke-width="1"/>
<line x1="838.5" y1="901" x2="838.5" y2="903" stroke="#d0d0d0" stroke-width="1"/>
<line x1="849.5" y1="901" x2="849.5" y2="903" stroke="#d0d0d0" stroke-width="1"/>
<line x1="860.5" y1="901" x2="860.5" y2="903" stroke="#d0d0d0" stroke-width="1"/>
<line x1="871.5" y1="898" x2="871.5" y2="903" stroke="#000" stroke-width="1"/>
<line x1="881.5" y1="901" x2="881.5" y2="903" stroke="#d0d0d0" stroke-width="1"/>
<line x1="892.5" y1="901" x2="892.5" y2="903" stroke="#d0d0d0" stroke-width="1"/>
<line x1="903.5" y1="901" x2="903.5" y2="903" stroke="#d0d0d0" stroke-width="1"/>
<line x1="914.5" y1="901" x2="914.5" y2="903" stroke="#d0d0d0" stroke-width="1"/>
<line x1="925.5" y1="898" x2="925.5" y2="903" stroke="#000" stroke-width="1"/>
<line x1="936.5" y1="901" x2="936.5" y2="903" stroke="#d0d0d0" stroke-width="1"/>
<line x1="947.5" y1="901" x2="947.5" y2="903" stroke="#d0d0d0" stroke-width="1"/>
<line x1="958.5" y1="901" x2="958.5" y2="903" stroke="#d0d0d0" stroke-width="1"/>
<line x1="969.5" y1="901" x2="969.5" y2="903" stroke="#d0d0d0" stroke-width="1"/>
<line x1="980.5" y1="898" x2="980.5" y2="903" stroke="#000" stroke-width="1"/>
<line x1="991.5" y1="901" x2="991.5" y2="903" stroke="#d0d0d0" stroke-width="1"/>
<line x1="1002.5" y1="901" x2="1002.5" y2="903" stroke="#d0d0d0" stroke-width="1"/>
<line x1="1013.5" y1="901" x2="1013.5" y2="903" stroke="#d0d0d0" stroke-width="1"/>
<line x1="1024.5" y1="901" x2="1024.5" y2="903" stroke="#d0d0d0" stroke-width="1"/>
<line x1="1035.5" y1="898" x2="1035.5" y2="903" stroke="#000" stroke-width="1"/>
<line x1="1046.5" y1="901" x2="1046.5" y2="903" stroke="#d0d0d0" stroke-width="1"/>
<line x1="1056.5" y1="901" x2="1056.5" y2="903" stroke="#d0d0d0" stroke-width="1"/>
<line x1="1067.5" y1="901" x2="1067.5" y2="903" stroke="#d0d0d0" stroke-width="1"/>
<line x1="1078.5" y1="901" x2="1078.5" y2="903" stroke="#d0d0d0" stroke-width="1"/>
<line x1="1089.5" y1="898" x2="1089.5" y2="903" stroke="#000" stroke-width="1"/>
<line x1="1100.5" y1="901" x2="1100.5" y2="903" stroke="#d0d0d0" stroke-width="1"/>
<line x1="1111.5" y1="901" x2="1111.5" y2="903" stroke="#d0d0d0" stroke-width="1"/>
<line x1="1122.5" y1="901" x2="1122.5" y2="903" stroke="#d0d0d0" stroke-width="1"/>
<line x1="1133.5" y1="901" x2="1133.5" y2="903" stroke="#d0d0d0" stroke-width="1"/>
<line x1="1144.5" y1="898" x2="1144.5" y2="903" stroke="#000" stroke-width="1"/>
<rect x="101" y="869" width="8.3" height="31" fill="#fa0000" fill-opacity="0.65"/>
<rect x="112" y="871" width="8.3" height="29" fill="#00fa00" fill-opacity="0.65"/>
<rect x="123" y="768" width="8.3" height="132" fill="#00fa00" fill-opacity="0.65"/>
<rect x="134" y="836" width="8.3" height="64" fill="#00fa00" fill-opacity="0.65"/>
<rect x="145" y="851" width="8.3" height="49" fill="#00fa00" fill-opacity="0.65"/>
<rect x="156" y="837" width="8.3" height="63" fill="#fa0000" fill-opacity="0.65"/>
<rect x="167" y="811" width="8.3" height="89" fill="#00fa00" fill-opacity="0.65"/>
<rect x="178" y="783" width="8.3" height="117" fill="#00fa00" fill-opacity="0.65"/>
<rect x="188" y="836" width="8.3" height="64" fill="#00fa00" fill-opacity="0.65"/>
<rect x="199" y="848" width="8.3" height="52" fill="#fa0000" fill-opacity="0.65"/>
<rect x="210" y="859" width="8.3" height="41" fill="#00fa00" fill-opacity="0.65"/>
<rect x="221" y="847" width="8.3" height="53" fill="#fa0000" fill-opacity="0.65"/>
<rect x="232" y="746" width="8.3" height="154" fill="#fa0000" fill-opacity="0.65"/>
<rect x="243" y="818" width="8.3" height="82" fill="#00fa00" fill-opacity="0.65"/>
<rect x="254" y="875" width="8.3" height="25" fill="#fa0000" fill-opacity="0.65"/>
<rect x="265" y="876" width="8.3" height="24" fill="#00fa00" fill-opacity="0.65"/>
<rect x="276" y="861" width="8.3" height="39" fill="#fa0000" fill-opacity="0.65"/>
<rect x="287" y="883" width="8.3" height="17" fill="#fa0000" fill-opacity="0.65"/>
<rect x="298" y="862" width="8.3" height="38" fill="#fa0000" fill-opacity="0.65"/>
<rect x="309" y="878" width="8.3" height="22" fill="#00fa00" fill-opacity="0.65"/>
<rect x="320" y="839" width="8.3" height="61" fill="#fa0000" fill-opacity="0.65"/>
<rect x="331" y="869" width="8.3" height="31" fill="#fa0000" fill-opacity="0.65"/>
<rect x="342" y="754" width="8.3" height="146" fill="#fa0000" fill-opacity="0.65"/>
<rect x="353" y="860" width="8.3" height="40" fill="#fa0000" fill-opacity="0.65"/>
<rect x="363" y="858" width="8.3" height="42" fill="#00fa00" fill-opacity="0.65"/>
<rect x="374" y="880" width="8.3" height="20" fill="#fa0000" fill-opacity="0.65"/>
<rect x="385" y="839" width="8.3" height="61" fill="#00fa00" fill-opacity="0.65"/>
<rect x="396" y="861" width="8.3" height="39" fill="#00fa00" fill-opacity="0.65"/>
<rect x="407" y="874" width="8.3" height="26" fill="#fa0000" fill-opacity="0.65"/>
<rect x="418" y="870" width="8.3" height="30" fill="#00fa00" fill-opacity="0.65"/>
<rect x="429" y="888" width="8.3" height="12" fill="#fa0000" fill-opacity="0.65"/>
<rect x="440" y="873" width="8.3" height="27" fill="#00fa00" fill-opacity="0.65"/>
<rect x="451" y="858" width="8.3" height="42" fill="#fa0000" fill-opacity="0.65"/>
<rect x="462" y="849" width="8.3" height="51" fill="#00fa00" fill-opacity="0.65"/>
<rect x="473" y="882" width="8.3" height="18" fill="#fa0000" fill-opacity="0.65"/>
<rect x="484" y="871" width="8.3" height="29" fill="#fa0000" fill-opacity="0.65"/>
<rect x="495" y="878" width="8.3" height="22" fill="#fa0000" fill-opacity="0.65"/>
<rect x="506" y="886" width="8.3" height="14" fill="#fa0000" fill-opacity="0.65"/>
<rect x="517" y="863" width="8.3" height="37" fill="#fa0000" fill-opacity="0.65"/>
<rect x="528" y="879" width="8.3" height="21" fill="#fa0000" fill-opacity="0.65"/>
<rect x="538" y="842" width="8.3" height="58" fill="#fa0000" fill-opacity="0.65"/>
<rect x="549" y="857" width="8.3" height="43" fill="#00fa00" fill-opacity="0.65"/>
<rect x="560" y="887" width="8.3" height="13" fill="#fa0000" fill-opacity="0.65"/>
<rect x="571" y="878" width="8.3" height="22" fill="#00fa00" fill-opacity="0.65"/>
<rect x="582" y="883" width="8.3" height="17" fill="#fa0000" fill-opacity="0.65"/>
<rect x="593" y="877" width="8.3" height="23" fill="#00fa00" fill-opacity="0.65"/>
<rect x="604" y="867" width="8.3" height="33" fill="#00fa00" fill-opacity="0.65"/>
<rect x="615" y="878" width="8.3" height="22" fill="#00fa00" fill-opacity="0.65"/>
<rect x="626" y="887" width="8.3" height="13" fill="#00fa00" fill-opacity="0.65"/>
<rect x="637" y="878" width="8.3" height="22" fill="#fa0000" fill-opacity="0.65"/>
<rect x="648" y="884" width="8.3" height="16" fill="#fa0000" fill-opacity="0.65"/>
<rect x="659" y="865" width="8.3" height="35" fill="#fa0000" fill-opacity="0.65"/>
<rect x="670" y="852" width="8.3" height="48" fill="#00fa00" fill-opacity="0.65"/>
<rect x="681" y="848" width="8.3" height="52" fill="#fa0000" fill-opacity="0.65"/>
<rect x="692" y="826" width="8.3" height="74" fill="#fa0000" fill-opacity="0.65"/>
<rect x="702" y="857" width="8.3" height="43" fill="#00fa00" fill-opacity="0.65"/>
<rect x="713" y="844" width="8.3" height="56" fill="#00fa00" fill-opacity="0.65"/>
<rect x="724" y="841" width="8.3" height="59" fill="#fa0000" fill-opacity="0.65"/>
<rect x="735" y="880" width="8.3" height="20" fill="#fa0000" fill-opacity="0.65"/>
<rect x="746" y="867" width="8.3" height="33" fill="#fa0000" fill-opacity="0.65"/>
<rect x="757" y="891" width="8.3" height="9" fill="#00fa00" fill-opacity="0.65"/>
<rect x="768" y="881" width="8.3" height="19" fill="#fa0000" fill-opacity="0.65"/>
<rect x="779" y="870" width="8.3" height="30" fill="#fa0000" fill-opacity="0.65"/>
<rect x="790" y="868" width="8.3" height="32" fill="#00fa00" fill-opacity="0.65"/>
<rect x="801" y="876" width="8.3" height="24" fill="#00fa00" fill-opacity="0.65"/>
<rect x="812" y="864" width="8.3" height="36" fill="#00fa00" fill-opacity="0.65"/>
<rect x="823" y="869" width="8.3" height="31" fill="#00fa00" fill-opacity="0.65"/>
<rect x="834" y="875" width="8.3" height="25" fill="#00fa00" fill-opacity="0.65"/>
<rect x="845" y="880" width="8.3" height="20" fill="#fa0000" fill-opacity="0.65"/>
<rect x="856" y="883" width="8.3" height="17" fill="#fa0000" fill-opacity="0.65"/>
<rect x="867" y="886" width="8.3" height="14" fill="#00fa00" fill-opacity="0.65"/>
<rect x="877" y="880" width="8.3" height="20" fill="#00fa00" fill-opacity="0.65"/>
<rect x="888" y="857" width="8.3" height="43" fill="#00fa00" fill-opacity="0.65"/>
<rect x="899" y="798" width="8.3" height="102" fill="#00fa00" fill-opacity="0.65"/>
<rect x="910" y="862" width="8.3" height="38" fill="#00fa00" fill-opacity="0.65"/>
<rect x="921" y="846" width="8.3" height="54" fill="#fa0000" fill-opacity="0.65"/>
<rect x="932" y="837" width="8.3" height="63" fill="#fa0000" fill-opacity="0.65"/>
<rect x="943" y="859" width="8.3" height="41" fill="#fa0000" fill-opacity="0.65"/>
<rect x="954" y="889" width="8.3" height="11" fill="#00fa00" fill-opacity="0.65"/>
<rect x="965" y="883" width="8.3" height="17" fill="#fa0000" fill-opacity="0.65"/>
<rect x="976" y="877" width="8.3" height="23" fill="#00fa00" fill-opacity="0.65"/>
<rect x="987" y="851" width="8.3" height="49" fill="#fa0000" fill-opacity="0.65"/>
<rect x="998" y="846" width="8.3" height="54" fill="#fa0000" fill-opacity="0.65"/>
<rect x="1009" y="815" width="8.3" height="85" fill="#00fa00" fill-opacity="0.65"/>
<rect x="1020" y="855" width="8.3" height="45" fill="#00fa00" fill-opacity="0.65"/>
<rect x="1031" y="876" width="8.3" height="24" fill="#fa0000" fill-opacity="0.65"/>
<rect x="1042" y="886" width="8.3" height="14" fill="#fa0000" fill-opacity="0.65"/>
<rect x="1052" y="883" width="8.3" height="17" fill="#00fa00" fill-opacity="0.65"/>
<rect x="1063" y="878" width="8.3" height="22" fill="#fa0000" fill-opacity="0.65"/>
<rect x="1074" y="880" width="8.3" height="20" fill="#00fa00" fill-opacity="0.65"/>
<rect x="1085" y="818" width="8.3" height="82" fill="#00fa00" fill-opacity="0.65"/>
<rect x="1096" y="851" width="8.3" height="49" fill="#fa0000" fill-opacity="0.65"/>
<rect x="1107" y="831" width="8.3" height="69" fill="#00fa00" fill-opacity="0.65"/>
<rect x="1118" y="881" width="8.3" height="19" fill="#fa0000" fill-opacity="0.65"/>
<rect x="1129" y="871" width="8.3" height="29" fill="#fa0000" fill-opacity="0.65"/>
<rect x="1140" y="880" width="8.3" height="20" fill="#fa0000" fill-opacity="0.65"/>
<rect x="100" y="1060" width="1051" height="35" fill="#f8f8f8"/>
<rect x="100" y="1130" width="1051" height="35" fill="#f8f8f8"/>
<line x1="105.5" y1="1024.5" x2="105.5" y2="1200" stroke="#e3e3e3" stroke-dasharray="3.5 4.5" stroke-width="1"/>
<line x1="116.5" y1="1024.2" x2="116.5" y2="1200" stroke="#f4f4f4" stroke-dasharray="5.5 6.5" stroke-width="1"/>
<line x1="127.5" y1="1024.2" x2="127.5" y2="1200" stroke="#f4f4f4" stroke-dasharray="5.5 6.5" stroke-width="1"/>
<line x1="138.5" y1="1024.2" x2="138.5" y2="1200" stroke="#f4f4f4" stroke-dasharray="5.5 6.5" stroke-width="1"/>
<line x1="149.5" y1="1024.2" x2="149.5" y2="1200" stroke="#f4f4f4" stroke-dasharray="5.5 6.5" stroke-width="1"/>
<line x1="160.5" y1="1024.5" x2="160.5" y2="1200" stroke="#e3e3e3" stroke-dasharray="3.5 4.5" stroke-width="1"/>
<line x1="171.5" y1="1024.2" x2="171.5" y2="1200" stroke="#f4f4f4" stroke-dasharray="5.5 6.5" stroke-width="1"/>
<line x1="182.5" y1="1024.2" x2="182.5" y2="1200" stroke="#f4f4f4" stroke-dasharray="5.5 6.5" stroke-width="1"/>
<line x1="192.5" y1="1024.2" x2="192.5" y2="1200" stroke="#f4f4f4" stroke-dasharray="5.5 6.5" stroke-width="1"/>
<line x1="203.5" y1="1024.2" x2="203.5" y2="1200" stroke="#f4f4f4" stroke-dasharray="5.5 6.5" stroke-width="1"/>
<line x1="214.5" y1="1024.5" x2="214.5" y2="1200" stroke="#e3e3e3" stroke-dasharray="3.5 4.5" stroke-width="1"/>
<line x1="225.5" y1="1024.2" x2="225.5" y2="1200" stroke="#f4f4f4" stroke-dasharray="5.5 6.5" stroke-width="1"/>
<line x1="236.5" y1="1024.2" x2="236.5" y2="1200" stroke="#f4f4f4" stroke-dasharray="5.5 6.5" stroke-width="1"/>
<line x1="247.5" y1="1024.2" x2="247.5" y2="1200" stroke="#f4f4f4" stroke-dasharray="5.5 6.5" stroke-width="1"/>
<line x1="258.5" y1="1024.2" x2="258.5" y2="1200" stroke="#f4f4f4" stroke-dasharray="5.5 6.5" stroke-width="1"/>
<line x1="269.5" y1="1024.5" x2="269.5" y2="1200" stroke="#e3e3e3" stroke-dasharray="3.5 4.5" stroke-width="1"/>
<line x1="280.5" y1="1024.2" x2="280.5" y2="1200" stroke="#f4f4f4" stroke-dasharray="5.5 6.5" stroke-width="1"/>
<line x1="291.5" y1="1024.2" x2="291.5" y2="1200" stroke="#f4f4f4" stroke-dasharray="5.5 6.5" stroke-width="1"/>
<line x1="302.5" y1="1024.2" x2="302.5" y2="1200" stroke="#f4f4f4" stroke-dasharray="5.5 6.5" stroke-width="1"/>
<line x1="313.5" y1="1024.2" x2="313.5" y2="1200" stroke="#f4f4f4" stroke-dasharray="5.5 6.5" stroke-width="1"/>
<line x1="324.5" y1="1024.5" x2="324.5" y2="1200" stroke="#e3e3e3" stroke-dasharray="3.5 4.5" stroke-width="1"/>
<line x1="335.5" y1="1024.2" x2="335.5" y2="1200" stroke="#f4f4f4" stroke-dasharray="5.5 6.5" stroke-width="1"/>
<line x1="346.5" y1="1024.2" x2="346.5" y2="1200" stroke="#f4f4f4" stroke-dasharray="5.5 6.5" stroke-width="1"/>
<line x1="357.5" y1="1024.2" x2="357.5" y2="1200" stroke="#f4f4f4" stroke-dasharray="5.5 6.5" stroke-width="1"/>
<line x1="367.5" y1="1024.2" x2="367.5" y2="1200" stroke="#f4f4f4" stroke-dasharray="5.5 6.5" stroke-width="1"/>
<line x1="378.5" y1="1024.5" x2="378.5" y2="1200" stroke="#e3e3e3" stroke-dasharray="3.5 4.5" stroke-width="1"/>
<line x1="389.5" y1="1024.2" x2="389.5" y2="1200" stroke="#f4f4f4" stroke-dasharray="5.5 6.5" stroke-width="1"/>
<line x1="400.5" y1="1024.2" x2="400.5" y2="1200" stroke="#f4f4f4" stroke-dasharray="5.5 6.5" stroke-width="1"/>
<line x1="411.5" y1="1024.2" x2="411.5" y2="1200" stroke="#f4f4f4" stroke-dasharray="5.5 6.5" stroke-width="1"/>
<line x1="422.5" y1="1024.2" x2="422.5" y2="1200" stroke="#f4f4f4" stroke-dasharray="5.5 6.5" stroke-width="1"/>
<line x1="433.5" y1="1024.5" x2="433.5" y2="1200" stroke="#e3e3e3" stroke-dasharray="3.5 4.5" stroke-width="1"/>
<line x1="444.5" y1="1024.2" x2="444.5" y2="1200" stroke="#f4f4f4" stroke-dasharray="5.5 6.5" stroke-width="1"/>
<line x1="455.5" y1="1024.2" x2="455.5" y2="1200" stroke="#f4f4f4" stroke-dasharray="5.5 6.5" stroke-width="1"/>
<line x1="466.5" y1="1024.2" x2="466.5" y2="1200" stroke="#f4f4f4" stroke-dasharray="5.5 6.5" stroke-width="1"/>
<line x1="477.5" y1="1024.2" x2="477.5" y2="1200" stroke="#f4f4f4" stroke-dasharray="5.5 6.5" stroke-width="1"/>
<line x1="488.5" y1="1024.5" x2="488.5" y2="1200" stroke="#e3e3e3" stroke-dasharray="3.5 4.5" stroke-width="1"/>
<line x1="499.5" y1="1024.2" x2="499.5" y2="1200" stroke="#f4f4f4" stroke-dasharray="5.5 6.5" stroke-width="1"/>
<line x1="510.5" y1="1024.2" x2="510.5" y2="1200" stroke="#f4f4f4" stroke-dasharray="5.5 6.5" stroke-width="1"/>
<line x1="521.5" y1="1024.2" x2="521.5" y2="1200" stroke="#f4f4f4" stroke-dasharray="5.5 6.5" stroke-width="1"/>
<line x1="532.5" y1="1024.2" x2="532.5" y2="1200" stroke="#f4f4f4" stroke-dasharray="5.5 6.5" stroke-width="1"/>
<line x1="542.5" y1="1024.5" x2="542.5" y2="1200" stroke="#e3e3e3" stroke-dasharray="3.5 4.5" stroke-width="1"/>
<line x1="553.5" y1="1024.2" x2="553.5" y2="1200" stroke="#f4f4f4" stroke-dasharray="5.5 6.5" stroke-width="1"/>
<line x1="564.5" y1="1024.2" x2="564.5" y2="1200" stroke="#f4f4f4" stroke-dasharray="5.5 6.5" stroke-width="1"/>
<line x1="575.5" y1="1024.2" x2="575.5" y2="1200" stroke="#f4f4f4" stroke-dasharray="5.5 6.5" stroke-width="1"/>
<line x1="586.5" y1="1024.2" x2="586.5" y2="1200" stroke="#f4f4f4" stroke-dasharray="5.5 6.5" stroke-width="1"/>
<line x1="597.5" y1="1024.5" x2="597.5" y2="1200" stroke="#e3e3e3" stroke-dasharray="3.5 4.5" stroke-width="1"/>
<line x1="608.5" y1="1024.2" x2="608.5" y2="1200" stroke="#f4f4f4" stroke-dasharray="5.5 6.5" stroke-width="1"/>
<line x1="619.5" y1="1024.2" x2="619.5" y2="1200" stroke="#f4f4f4" stroke-dasharray="5.5 6.5" stroke-width="1"/>
<line x1="630.5" y1="1024.2" x2="630.5" y2="1200" stroke="#f4f4f4" stroke-dasharray="5.5 6.5" stroke-width="1"/>
<line x1="641.5" y1="1024.2" x2="641.5" y2="1200" stroke="#f4f4f4" stroke-dasharray="5.5 6.5" stroke-width="1"/>
<line x1="652.5" y1="1024.5" x2="652.5" y2="1200" stroke="#e3e3e3" stroke-dasharray="3.5 4.5" stroke-width="1"/>
<line x1="663.5" y1="1024.2" x2="663.5" y2="1200" stroke="#f4f4f4" stroke-dasharray="5.5 6.5" stroke-width="1"/>
<line x1="674.5" y1="1024.2" x2="674.5" y2="1200" stroke="#f4f4f4" stroke-dasharray="5.5 6.5" stroke-width="1"/>
<line x1="685.5" y1="1024.2" x2="685.5" y2="1200" stroke="#f4f4f4" stroke-dasharray="5.5 6.5" stroke-width="1"/>
<line x1="696.5" y1="1024.2" x2="696.5" y2="1200" stroke="#f4f4f4" stroke-dasharray="5.5 6.5" stroke-width="1"/>
<line x1="706.5" y1="1024.5" x2="706.5" y2="1200" stroke="#e3e3e3" stroke-dasharray="3.5 4.5" stroke-width="1"/>
<line x1="717.5" y1="1024.2" x2="717.5" y2="1200" stroke="#f4f4f4" stroke-dasharray="5.5 6.5" stroke-width="1"/>
<line x1="728.5" y1="1024.2" x2="728.5" y2="1200" stroke="#f4f4f4" stroke-dasharray="5.5 6.5" stroke-width="1"/>
<line x1="739.5" y1="1024.2" x2="739.5" y2="1200" stroke="#f4f4f4" stroke-dasharray="5.5 6.5" stroke-width="1"/>
<line x1="750.5" y1="1024.2" x2="750.5" y2="1200" stroke="#f4f4f4" stroke-dasharray="5.5 6.5" stroke-width="1"/>
<line x1="761.5" y1="1024.5" x2="761.5" y2="1200" stroke="#e3e3e3" stroke-dasharray="3.5 4.5" stroke-width="1"/>
<line x1="772.5" y1="1024.2" x2="772.5" y2="1200" stroke="#f4f4f4" stroke-dasharray="5.5 6.5" stroke-width="1"/>
<line x1="783.5" y1="1024.2" x2="783.5" y2="1200" stroke="#f4f4f4" stroke-dasharray="5.5 6.5" stroke-width="1"/>
<line x1="794.5" y1="1024.2" x2="794.5" y2="1200" stroke="#f4f4f4" stroke-dasharray="5.5 6.5" stroke-width="1"/>
<line x1="805.5" y1="1024.2" x2="805.5" y2="1200" stroke="#f4f4f4" stroke-dasharray="5.5 6.5" stroke-width="1"/>
<line x1="816.5" y1="1024.5" x2="816.5" y2="1200" stroke="#e3e3e3" stroke-dasharray="3.5 4.5" stroke-width="1"/>
<line x1="827.5" y1="1024.2" x2="827.5" y2="1200" stroke="#f4f4f4" stroke-dasharray="5.5 6.5" stroke-width="1"/>
<line x1="838.5" y1="1024.2" x2="838.5" y2="1200" stroke="#f4f4f4" stroke-dasharray="5.5 6.5" stroke-width="1"/>
<line x1="849.5" y1="1024.2" x2="849.5" y2="1200" stroke="#f4f4f4" stroke-dasharray="5.5 6.5" stroke-width="1"/>
<line x1="860.5" y1="1024.2" x2="860.5" y2="1200" stroke="#f4f4f4" stroke-dasharray="5.5 6.5" stroke-width="1"/>
<line x1="871.5" y1="1024.5" x2="871.5" y2="1200" stroke="#e3e3e3" stroke-dasharray="3.5 4.5" stroke-width="1"/>
<line x1="881.5" y1="1024.2" x2="881.5" y2="1200" stroke="#f4f4f4" stroke-dasharray="5.5 6.5" stroke-width="1"/>
<line x1="892.5" y1="1024.2" x2="892.5" y2="1200" stroke="#f4f4f4" stroke-dasharray="5.5 6.5" stroke-width="1"/>
<line x1="903.5" y1="1024.2" x2="903.5" y2="1200" stroke="#f4f4f4" stroke-dasharray="5.5 6.5" stroke-width="1"/>
<line x1="914.5" y1="1024.2" x2="914.5" y2="1200" stroke="#f4f4f4" stroke-dasharray="5.5 6.5" stroke-width="1"/>
<line x1="925.5" y1="1024.5" x2="925.5" y2="1200" stroke="#e3e3e3" stroke-dasharray="3.5 4.5" stroke-width="1"/>
<line x1="936.5" y1="1024.2" x2="936.5" y2="1200" stroke="#f4f4f4" stroke-dasharray="5.5 6.5" stroke-width="1"/>
<line x1="947.5" y1="1024.2" x2="947.5" y2="1200" stroke="#f4f4f4" stroke-dasharray="5.5 6.5" stroke-width="1"/>
<line x1="958.5" y1="1024.2" x2="958.5" y2="1200" stroke="#f4f4f4" stroke-dasharray="5.5 6.5" stroke-width="1"/>
<line x1="969.5" y1="1024.2" x2="969.5" y2="1200" stroke="#f4f4f4" stroke-dasharray="5.5 6.5" stroke-width="1"/>
<line x1="980.5" y1="1024.5" x2="980.5" y2="1200" stroke="#e3e3e3" stroke-dasharray="3.5 4.5" stroke-width="1"/>
<line x1="991.5" y1="1024.2" x2="991.5" y2="1200" stroke="#f4f4f4" stroke-dasharray="5.5 6.5" stroke-width="1"/>
<line x1="1002.5" y1="1024.2" x2="1002.5" y2="1200" stroke="#f4f4f4" stroke-dasharray="5.5 6.5" stroke-width="1"/>
<line x1="1013.5" y1="1024.2" x2="1013.5" y2="1200" stroke="#f4f4f4" stroke-dasharray="5.5 6.5" stroke-width="1"/>
<line x1="1024.5" y1="1024.2" x2="1024.5" y2="1200" stroke="#f4f4f4" stroke-dasharray="5.5 6.5" stroke-width="1"/>
<line x1="1035.5" y1="1024.5" x2="1035.5" y2="1200" stroke="#e3e3e3" stroke-dasharray="3.5 4.5" stroke-width="1"/>
<line x1="1046.5" y1="1024.2" x2="1046.5" y2="1200" stroke="#f4f4f4" stroke-dasharray="5.5 6.5" stroke-width="1"/>
<line x1="1056.5" y1="1024.2" x2="1056.5" y2="1200" stroke="#f4f4f4" stroke-dasharray="5.5 6.5" stroke-width="1"/>
<line x1="1067.5" y1="1024.2" x2="1067.5" y2="1200" stroke="#f4f4f4" stroke-dasharray="5.5 6.5" stroke-width="1"/>
<line x1="1078.5" y1="1024.2" x2="1078.5" y2="1200" stroke="#f4f4f4" stroke-dasharray="5.5 6.5" stroke-width="1"/>
<line x1="1089.5" y1="1024.5" x2="1089.5" y2="1200" stroke="#e3e3e3" stroke-dasharray="3.5 4.5" stroke-width="1"/>
<line x1="1100.5" y1="1024.2" x2="1100.5" y2="1200" stroke="#f4f4f4" stroke-dasharray="5.5 6.5" stroke-width="1"/>
<line x1="1111.5" y1="1024.2" x2="1111.5" y2="1200" stroke="#f4f4f4" stroke-dasharray="5.5 6.5" stroke-width="1"/>
<line x1="1122.5" y1="1024.2" x2="1122.5" y2="1200" stroke="#f4f4f4" stroke-dasharray="5.5 6.5" stroke-width="1"/>
<line x1="1133.5" y1="1024.2" x2="1133.5" y2="1200" stroke="#f4f4f4" stroke-dasharray="5.5 6.5" stroke-width="1"/>
<line x1="1144.5" y1="1024.5" x2="1144.5" y2="1200" stroke="#e3e3e3" stroke-dasharray="3.5 4.5" stroke-width="1"/>
<line x1="107" y1="1025.5" x2="1151" y2="1025.5" stroke="#e7e7e7" stroke-dasharray="4 4" stroke-width="1"/>
<line x1="107" y1="1060.5" x2="1151" y2="1060.5" stroke="#e7e7e7" stroke-dasharray="4 4" stroke-width="1"/>
<line x1="107" y1="1095.5" x2="1151" y2="1095.5" stroke="#e7e7e7" stroke-dasharray="4 4" stroke-width="1"/>
<line x1="107" y1="1130.5" x2="1151" y2="1130.5" stroke="#e7e7e7" stroke-dasharray="4 4" stroke-width="1"/>
<line x1="107" y1="1165.5" x2="1151" y2="1165.5" stroke="#e7e7e7" stroke-dasharray="4 4" stroke-width="1"/>
<line x1="100.5" y1="1017" x2="100.5" y2="1201" stroke="#000" stroke-width="1"/>
<line x1="98" y1="1200.5" x2="1158" y2="1200.5" stroke="#000" stroke-width="1"/>
<polygon points="100.5,1012.7 96.8,1020 104.2,1020" fill="#000"/>
<polygon points="1161.8,1200.5 1155,1197 1155,1204" fill="#000"/>
<line x1="98" y1="1025.5" x2="103" y2="1025.5" stroke="#000" stroke-width="1"/>
<line x1="98" y1="1042.5" x2="100.5" y2="1042.5" stroke="#ff0000" stroke-width="1"/>
<line x1="98" y1="1060.5" x2="103" y2="1060.5" stroke="#000" stroke-width="1"/>
<line x1="98" y1="1077.5" x2="100.5" y2="1077.5" stroke="#ff0000" stroke-width="1"/>
<line x1="98" y1="1095.5" x2="103" y2="1095.5" stroke="#000" stroke-width="1"/>
<line x1="98" y1="1112.5" x2="100.5" y2="1112.5" stroke="#ff0000" stroke-width="1"/>
<line x1="98" y1="1130.5" x2="103" y2="1130.5" stroke="#000" stroke-width="1"/>
<line x1="98" y1="1147.5" x2="100.5" y2="1147.5" stroke="#ff0000" stroke-width="1"/>
<line x1="98" y1="1165.5" x2="103" y2="1165.5" stroke="#000" stroke-width="1"/>
<line x1="98" y1="1182.5" x2="100.5" y2="1182.5" stroke="#ff0000" stroke-width="1"/>
<line x1="98" y1="1200.5" x2="103" y2="1200.5" stroke="#000" stroke-width="1"/>
<line x1="105.5" y1="1198" x2="105.5" y2="1203" stroke="#000" stroke-width="1"/>
<line x1="116.5" y1="1201" x2="116.5" y2="1203" stroke="#d0d0d0" stroke-width="1"/>
<line x1="127.5" y1="1201" x2="127.5" y2="1203" stroke="#d0d0d0" stroke-width="1"/>
<line x1="138.5" y1="1201" x2="138.5" y2="1203" stroke="#d0d0d0" stroke-width="1"/>
<line x1="149.5" y1="1201" x2="149.5" y2="1203" stroke="#d0d0d0" stroke-width="1"/>
<line x1="160.5" y1="1198" x2="160.5" y2="1203" stroke="#000" stroke-width="1"/>
<line x1="171.5" y1="1201" x2="171.5" y2="1203" stroke="#d0d0d0" stroke-width="1"/>
<line x1="182.5" y1="1201" x2="182.5" y2="1203" stroke="#d0d0d0" stroke-width="1"/>
<line x1="192.5" y1="1201" x2="192.5" y2="1203" stroke="#d0d0d0" stroke-width="1"/>
<line x1="203.5" y1="1201" x2="203.5" y2="1203" stroke="#d0d0d0" stroke-width="1"/>
<line x1="214.5" y1="1198" x2="214.5" y2="1203" stroke="#000" stroke-width="1"/>
<line x1="225.5" y1="1201" x2="225.5" y2="1203" stroke="#d0d0d0" stroke-width="1"/>
<line x1="236.5" y1="1201" x2="236.5" y2="1203" stroke="#d0d0d0" stroke-width="1"/>
<line x1="247.5" y1="1201" x2="247.5" y2="1203" stroke="#d0d0d0" stroke-width="1"/>
<line x1="258.5" y1="1201" x2="258.5" y2="1203" stroke="#d0d0d0" stroke-width="1"/>
<line x1="269.5" y1="1198" x2="269.5" y2="1203" stroke="#000" stroke-width="1"/>
<line x1="280.5" y1="1201" x2="280.5" y2="1203" stroke="#d0d0d0" stroke-width="1"/>
<line x1="291.5" y1="1201" x2="291.5" y2="1203" stroke="#d0d0d0" stroke-width="1"/>
<line x1="302.5" y1="1201" x2="302.5" y2="1203" stroke="#d0d0d0" stroke-width="1"/>
<line x1="313.5" y1="1201" x2="313.5" y2="1203" stroke="#d0d0d0" stroke-width="1"/>
<line x1="324.5" y1="1198" x2="324.5" y2="1203" stroke="#000" stroke-width="1"/>
<line x1="335.5" y1="1201" x2="335.5" y2="1203" stroke="#d0d0d0" stroke-width="1"/>
<line x1="346.5" y1="1201" x2="346.5" y2="1203" stroke="#d0d0d0" stroke-width="1"/>
<line x1="357.5" y1="1201" x2="357.5" y2="1203" stroke="#d0d0d0" stroke-width="1"/>
<line x1="367.5" y1="1201" x2="367.5" y2="1203" stroke="#d0d0d0" stroke-width="1"/>
<line x1="378.5" y1="1198" x2="378.5" y2="1203" stroke="#000" stroke-width="1"/>
<line x1="389.5" y1="1201" x2="389.5" y2="1203" stroke="#d0d0d0" stroke-width="1"/>
<line x1="400.5" y1="1201" x2="400.5" y2="1203" stroke="#d0d0d0" stroke-width="1"/>
<line x1="411.5" y1="1201" x2="411.5" y2="1203" stroke="#d0d0d0" stroke-width="1"/>
<line x1="422.5" y1="1201" x2="422.5" y2="1203" stroke="#d0d0d0" stroke-width="1"/>
<line x1="433.5" y1="1198" x2="433.5" y2="1203" stroke="#000" stroke-width="1"/>
<line x1="444.5" y1="1201" x2="444.5" y2="1203" stroke="#d0d0d0" stroke-width="1"/>
<line x1="455.5" y1="1201" x2="455.5" y2="1203" stroke="#d0d0d0" stroke-width="1"/>
<line x1="466.5" y1="1201" x2="466.5" y2="1203" stroke="#d0d0d0" stroke-width="1"/>
<line x1="477.5" y1="1201" x2="477.5" y2="1203" stroke="#d0d0d0" stroke-width="1"/>
<line x1="488.5" y1="1198" x2="488.5" y2="1203" stroke="#000" stroke-width="1"/>
<line x1="499.5" y1="1201" x2="499.5" y2="1203" stroke="#d0d0d0" stroke-width="1"/>
<line x1="510.5" y1="1201" x2="510.5" y2="1203" stroke="#d0d0d0" stroke-width="1"/>
<line x1="521.5" y1="1201" x2="521.5" y2="1203" stroke="#d0d0d0" stroke-width="1"/>
<line x1="532.5" y1="1201" x2="532.5" y2="1203" stroke="#d0d0d0" stroke-width="1"/>
<line x1="542.5" y1="1198" x2="542.5" y2="1203" stroke="#000" stroke-width="1"/>
<line x1="553.5" y1="1201" x2="553.5" y2="1203" stroke="#d0d0d0" stroke-width="1"/>
<line x1="564.5" y1="1201" x2="564.5" y2="1203" stroke="#d0d0d0" stroke-width="1"/>
<line x1="575.5" y1="1201" x2="575.5" y2="1203" stroke="#d0d0d0" stroke-width="1"/>
<line x1="586.5" y1="1201" x2="586.5" y2="1203" stroke="#d0d0d0" stroke-width="1"/>
<line x1="597.5" y1="1198" x2="597.5" y2="1203" stroke="#000" stroke-width="1"/>
<line x1="608.5" y1="1201" x2="608.5" y2="1203" stroke="#d0d0d0" stroke-width="1"/>
<line x1="619.5" y1="1201" x2="619.5" y2="1203" stroke="#d0d0d0" stroke-width="1"/>
<line x1="630.5" y1="1201" x2="630.5" y2="1203" stroke="#d0d0d0" stroke-width="1"/>
<line x1="641.5" y1="1201" x2="641.5" y2="1203" stroke="#d0d0d0" stroke-width="1"/>
<line x1="652.5" y1="1198" x2="652.5" y2="1203" stroke="#000" stroke-width="1"/>
<line x1="663.5" y1="1201" x2="663.5" y2="1203" stroke="#d0d0d0" stroke-width="1"/>
<line x1="674.5" y1="1201" x2="674.5" y2="1203" stroke="#d0d0d0" stroke-width="1"/>
<line x1="685.5" y1="1201" x2="685.5" y2="1203" stroke="#d0d0d0" stroke-width="1"/>
<line x1="696.5" y1="1201" x2="696.5" y2="1203" stroke="#d0d0d0" stroke-width="1"/>
<line x1="706.5" y1="1198" x2="706.5" y2="1203" stroke="#000" stroke-width="1"/>
<line x1="717.5" y1="1201" x2="717.5" y2="1203" stroke="#d0d0d0" stroke-width="1"/>
<line x1="728.5" y1="1201" x2="728.5" y2="1203" stroke="#d0d0d0" stroke-width="1"/>
<line x1="739.5" y1="1201" x2="739.5" y2="1203" stroke="#d0d0d0" stroke-width="1"/>
<line x1="750.5" y1="1201" x2="750.5" y2="1203" stroke="#d0d0d0" stroke-width="1"/>
<line x1="761.5" y1="1198" x2="761.5" y2="1203" stroke="#000" stroke-width="1"/>
<line x1="772.5" y1="1201" x2="772.5" y2="1203" stroke="#d0d0d0" stroke-width="1"/>
<line x1="783.5" y1="1201" x2="783.5" y2="1203" stroke="#d0d0d0" stroke-width="1"/>
<line x1="794.5" y1="1201" x2="794.5" y2="1203" stroke="#d0d0d0" stroke-width="1"/>
<line x1="805.5" y1="1201" x2="805.5" y2="1203" stroke="#d0d0d0" stroke-width="1"/>
<line x1="816.5" y1="1198" x2="816.5" y2="1203" stroke="#000" stroke-width="1"/>
<line x1="827.5" y1="1201" x2="827.5" y2="1203" stroke="#d0d0d0" stroke-width="1"/>
<line x1="838.5" y1="1201" x2="838.5" y2="1203" stroke="#d0d0d0" stroke-width="1"/>
<line x1="849.5" y1="1201" x2="849.5" y2="1203" stroke="#d0d0d0" stroke-width="1"/>
<line x1="860.5" y1="1201" x2="860.5" y2="1203" stroke="#d0d0d0" stroke-width="1"/>
<line x1="871.5" y1="1198" x2="871.5" y2="1203" stroke="#000" stroke-width="1"/>
<line x1="881.5" y1="1201" x2="881.5" y2="1203" stroke="#d0d0d0" stroke-width="1"/>
<line x1="892.5" y1="1201" x2="892.5" y2="1203" stroke="#d0d0d0" stroke-width="1"/>
<line x1="903.5" y1="1201" x2="903.5" y2="1203" stroke="#d0d0d0" stroke-width="1"/>
<line x1="914.5" y1="1201" x2="914.5" y2="1203" stroke="#d0d0d0" stroke-width="1"/>
<line x1="925.5" y1="1198" x2="925.5" y2="1203" stroke="#000" stroke-width="1"/>
<line x1="936.5" y1="1201" x2="936.5" y2="1203" stroke="#d0d0d0" stroke-width="1"/>
<line x1="947.5" y1="1201" x2="947.5" y2="1203" stroke="#d0d0d0" stroke-width="1"/>
<line x1="958.5" y1="1201" x2="958.5" y2="1203" stroke="#d0d0d0" stroke-width="1"/>
<line x1="969.5" y1="1201" x2="969.5" y2="1203" stroke="#d0d0d0" stroke-width="1"/>
<line x1="980.5" y1="1198" x2="980.5" y2="1203" stroke="#000" stroke-width="1"/>
<line x1="991.5" y1="1201" x2="991.5" y2="1203" stroke="#d0d0d0" stroke-width="1"/>
<line x1="1002.5" y1="1201" x2="1002.5" y2="1203" stroke="#d0d0d0" stroke-width="1"/>
<line x1="1013.5" y1="1201" x2="1013.5" y2="1203" stroke="#d0d0d0" stroke-width="1"/>
<line x1="1024.5" y1="1201" x2="1024.5" y2="1203" stroke="#d0d0d0" stroke-width="1"/>
<line x1="1035.5" y1="1198" x2="1035.5" y2="1203" stroke="#000" stroke-width="1"/>
<line x1="1046.5" y1="1201" x2="1046.5" y2="1203" stroke="#d0d0d0" stroke-width="1"/>
<line x1="1056.5" y1="1201" x2="1056.5" y2="1203" stroke="#d0d0d0" stroke-width="1"/>
<line x1="1067.5" y1="1201" x2="1067.5" y2="1203" stroke="#d0d0d0" stroke-width="1"/>
<line x1="1078.5" y1="1201" x2="1078.5" y2="1203" stroke="#d0d0d0" stroke-width="1"/>
<line x1="1089.5" y1="1198" x2="1089.5" y2="1203" stroke="#000" stroke-width="1"/>
<line x1="1100.5" y1="1201" x2="1100.5" y2="1203" stroke="#d0d0d0" stroke-width="1"/>
<line x1="1111.5" y1="1201" x2="1111.5" y2="1203" stroke="#d0d0d0" stroke-width="1"/>
<line x1="1122.5" y1="1201" x2="1122.5" y2="1203" stroke="#d0d0d0" stroke-width="1"/>
<line x1="1133.5" y1="1201" x2="1133.5" y2="1203" stroke="#d0d0d0" stroke-width="1"/>
<line x1="1144.5" y1="1198" x2="1144.5" y2="1203" stroke="#000" stroke-width="1"/>
<line x1="105" y1="1112.5" x2="1146" y2="1112.5" stroke="#6e6e6e" stroke-width="1"/>
<path d="M105.5,1135.5 C106.49,1134.29 114.52,1124.34 116.5,1122 C118.48,1119.66 125.52,1111.19 127.5,1109.5 C129.48,1107.81 136.52,1103.65 138.5,1103.25 C140.48,1102.85 147.52,1103.2 149.5,1105 C151.48,1106.8 158.52,1123.59 160.5,1123.25 C162.48,1122.91 169.52,1104.65 171.5,1101.25 C173.48,1097.85 180.61,1086.96 182.5,1085.5 C184.39,1084.04 190.61,1084.03 192.5,1085 C194.39,1085.97 201.52,1095.01 203.5,1096.25 C205.48,1097.49 212.52,1096.39 214.5,1098.75 C216.48,1101.11 223.52,1119.31 225.5,1122.5 C227.48,1125.69 234.52,1134.7 236.5,1134.25 C238.48,1133.8 245.52,1119.01 247.5,1117.5 C249.48,1115.99 256.52,1117.7 258.5,1117.5 C260.48,1117.3 267.52,1115.3 269.5,1115.25 C271.48,1115.2 278.52,1116.57 280.5,1117 C282.48,1117.43 289.52,1119.23 291.5,1120 C293.48,1120.77 300.52,1125.5 302.5,1125.5 C304.48,1125.5 311.52,1119.53 313.5,1120 C315.48,1120.47 322.52,1129.62 324.5,1130.75 C326.48,1131.88 333.52,1132.07 335.5,1132.5 C337.48,1132.93 344.52,1134.78 346.5,1135.5 C348.48,1136.22 355.61,1141.33 357.5,1140.5 C359.39,1139.67 365.61,1127.69 367.5,1126.25 C369.39,1124.81 376.52,1125.56 378.5,1124.5 C380.48,1123.44 387.52,1115.87 389.5,1114.5 C391.48,1113.13 398.52,1109.54 400.5,1109.25 C402.48,1108.96 409.52,1111.25 411.5,1111.25 C413.48,1111.25 420.52,1109.2 422.5,1109.25 C424.48,1109.3 431.52,1112.9 433.5,1111.75 C435.48,1110.6 442.52,1097.71 444.5,1096.5 C446.48,1095.29 453.52,1098.12 455.5,1098.25 C457.48,1098.38 464.52,1096.72 466.5,1098 C468.48,1099.28 475.52,1110.41 477.5,1112.5 C479.48,1114.59 486.52,1120.08 488.5,1121.25 C490.48,1122.42 497.52,1125.03 499.5,1125.5 C501.48,1125.97 508.52,1125.87 510.5,1126.5 C512.48,1127.13 519.52,1131.51 521.5,1132.5 C523.48,1133.49 530.61,1136.42 532.5,1137.5 C534.39,1138.58 540.61,1144.23 542.5,1144.5 C544.39,1144.77 551.52,1140.77 553.5,1140.5 C555.48,1140.23 562.52,1141.7 564.5,1141.5 C566.48,1141.3 573.52,1138.25 575.5,1138.25 C577.48,1138.25 584.52,1141.86 586.5,1141.5 C588.48,1141.14 595.52,1135.96 597.5,1134.25 C599.48,1132.54 606.52,1124.01 608.5,1122.5 C610.48,1120.99 617.52,1117.99 619.5,1117.5 C621.48,1117.01 628.52,1117.2 630.5,1117 C632.48,1116.8 639.52,1115.2 641.5,1115.25 C643.48,1115.3 650.52,1115.72 652.5,1117.5 C654.48,1119.28 661.52,1133.31 663.5,1135 C665.48,1136.69 672.52,1135.46 674.5,1136.25 C676.48,1137.04 683.52,1142.4 685.5,1143.75 C687.48,1145.1 694.61,1151.41 696.5,1151.25 C698.39,1151.09 704.61,1144.97 706.5,1142 C708.39,1139.03 715.52,1120.01 717.5,1118.25 C719.48,1116.49 726.52,1121.73 728.5,1122.5 C730.48,1123.27 737.52,1125.67 739.5,1126.75 C741.48,1127.83 748.52,1133.71 750.5,1134.5 C752.48,1135.29 759.52,1135.23 761.5,1135.5 C763.48,1135.77 770.52,1137.05 772.5,1137.5 C774.48,1137.95 781.52,1140.95 783.5,1140.5 C785.48,1140.05 792.52,1134.75 794.5,1132.5 C796.48,1130.25 803.52,1117.64 805.5,1115.5 C807.48,1113.36 814.52,1109.99 816.5,1108.75 C818.48,1107.51 825.52,1102.61 827.5,1101.75 C829.48,1100.89 836.52,1099.41 838.5,1099.25 C840.48,1099.09 847.52,1099.26 849.5,1100 C851.48,1100.74 858.52,1107.55 860.5,1107.5 C862.48,1107.45 869.61,1100.74 871.5,1099.5 C873.39,1098.26 879.61,1095.17 881.5,1093.75 C883.39,1092.33 890.52,1085.44 892.5,1083.75 C894.48,1082.06 901.52,1076.12 903.5,1075 C905.48,1073.88 912.52,1071.47 914.5,1071.25 C916.48,1071.03 923.52,1070.09 925.5,1072.5 C927.48,1074.91 934.52,1095.3 936.5,1098 C938.48,1100.7 945.52,1102.39 947.5,1102.5 C949.48,1102.61 956.52,1099.07 958.5,1099.25 C960.48,1099.43 967.52,1104.21 969.5,1104.5 C971.48,1104.79 978.52,1101.85 980.5,1102.5 C982.48,1103.15 989.52,1110.29 991.5,1111.75 C993.48,1113.21 1000.52,1117.51 1002.5,1118.75 C1004.48,1119.99 1011.52,1126.33 1013.5,1125.5 C1015.48,1124.67 1022.52,1110.62 1024.5,1109.5 C1026.48,1108.38 1033.52,1112.19 1035.5,1113 C1037.48,1113.81 1044.61,1118.18 1046.5,1118.5 C1048.39,1118.82 1054.61,1116.63 1056.5,1116.5 C1058.39,1116.37 1065.52,1117.29 1067.5,1117 C1069.48,1116.71 1076.52,1114.94 1078.5,1113.25 C1080.48,1111.56 1087.52,1099.51 1089.5,1098.25 C1091.48,1096.99 1098.52,1099.72 1100.5,1099.25 C1102.48,1098.78 1109.52,1093.22 1111.5,1093 C1113.48,1092.78 1120.52,1096.12 1122.5,1096.75 C1124.48,1097.38 1131.52,1098.96 1133.5,1100 C1135.48,1101.04 1143.51,1107.51 1144.5,1108.25" fill="none" stroke="#ff3030" stroke-width="1" stroke-linejoin="round"/>
<rect x="100" y="1360" width="1051" height="35" fill="#f8f8f8"/>
<rect x="100" y="1430" width="1051" height="35" fill="#f8f8f8"/>
<line x1="105.5" y1="1324.5" x2="105.5" y2="1500" stroke="#e3e3e3" stroke-dasharray="3.5 4.5" stroke-width="1"/>
<line x1="116.5" y1="1324.2" x2="116.5" y2="1500" stroke="#f4f4f4" stroke-dasharray="5.5 6.5" stroke-width="1"/>
<line x1="127.5" y1="1324.2" x2="127.5" y2="1500" stroke="#f4f4f4" stroke-dasharray="5.5 6.5" stroke-width="1"/>
<line x1="138.5" y1="1324.2" x2="138.5" y2="1500" stroke="#f4f4f4" stroke-dasharray="5.5 6.5" stroke-width="1"/>
<line x1="149.5" y1="1324.2" x2="149.5" y2="1500" stroke="#f4f4f4" stroke-dasharray="5.5 6.5" stroke-width="1"/>
<line x1="160.5" y1="1324.5" x2="160.5" y2="1500" stroke="#e3e3e3" stroke-dasharray="3.5 4.5" stroke-width="1"/>
<line x1="171.5" y1="1324.2" x2="171.5" y2="1500" stroke="#f4f4f4" stroke-dasharray="5.5 6.5" stroke-width="1"/>
<line x1="182.5" y1="1324.2" x2="182.5" y2="1500" stroke="#f4f4f4" stroke-dasharray="5.5 6.5" stroke-width="1"/>
<line x1="192.5" y1="1324.2" x2="192.5" y2="1500" stroke="#f4f4f4" stroke-dasharray="5.5 6.5" stroke-width="1"/>
<line x1="203.5" y1="1324.2" x2="203.5" y2="1500" stroke="#f4f4f4" stroke-dasharray="5.5 6.5" stroke-width="1"/>
<line x1="214.5" y1="1324.5" x2="214.5" y2="1500" stroke="#e3e3e3" stroke-dasharray="3.5 4.5" stroke-width="1"/>
<line x1="225.5" y1="1324.2" x2="225.5" y2="1500" stroke="#f4f4f4" stroke-dasharray="5.5 6.5" stroke-width="1"/>
<line x1="236.5" y1="1324.2" x2="236.5" y2="1500" stroke="#f4f4f4" stroke-dasharray="5.5 6.5" stroke-width="1"/>
<line x1="247.5" y1="1324.2" x2="247.5" y2="1500" stroke="#f4f4f4" stroke-dasharray="5.5 6.5" stroke-width="1"/>
<line x1="258.5" y1="1324.2" x2="258.5" y2="1500" stroke="#f4f4f4" stroke-dasharray="5.5 6.5" stroke-width="1"/>
<line x1="269.5" y1="1324.5" x2="269.5" y2="1500" stroke="#e3e3e3" stroke-dasharray="3.5 4.5" stroke-width="1"/>
<line x1="280.5" y1="1324.2" x2="280.5" y2="1500" stroke="#f4f4f4" stroke-dasharray="5.5 6.5" stroke-width="1"/>
<line x1="291.5" y1="1324.2" x2="291.5" y2="1500" stroke="#f4f4f4" stroke-dasharray="5.5 6.5" stroke-width="1"/>
<line x1="302.5" y1="1324.2" x2="302.5" y2="1500" stroke="#f4f4f4" stroke-dasharray="5.5 6.5" stroke-width="1"/>
<line x1="313.5" y1="1324.2" x2="313.5" y2="1500" stroke="#f4f4f4" stroke-dasharray="5.5 6.5" stroke-width="1"/>
<line x1="324.5" y1="1324.5" x2="324.5" y2="1500" stroke="#e3e3e3" stroke-dasharray="3.5 4.5" stroke-width="1"/>
<line x1="335.5" y1="1324.2" x2="335.5" y2="1500" stroke="#f4f4f4" stroke-dasharray="5.5 6.5" stroke-width="1"/>
<line x1="346.5" y1="1324.2" x2="346.5" y2="1500" stroke="#f4f4f4" stroke-dasharray="5.5 6.5" stroke-width="1"/>
<line x1="357.5" y1="1324.2" x2="357.5" y2="1500" stroke="#f4f4f4" stroke-dasharray="5.5 6.5" stroke-width="1"/>
<line x1="367.5" y1="1324.2" x2="367.5" y2="1500" stroke="#f4f4f4" stroke-dasharray="5.5 6.5" stroke-width="1"/>
<line x1="378.5" y1="1324.5" x2="378.5" y2="1500" stroke="#e3e3e3" stroke-dasharray="3.5 4.5" stroke-width="1"/>
<line x1="389.5" y1="1324.2" x2="389.5" y2="1500" stroke="#f4f4f4" stroke-dasharray="5.5 6.5" stroke-width="1"/>
<line x1="400.5" y1="1324.2" x2="400.5" y2="1500" stroke="#f4f4f4" stroke-dasharray="5.5 6.5" stroke-width="1"/>
<line x1="411.5" y1="1324.2" x2="411.5" y2="1500" stroke="#f4f4f4" stroke-dasharray="5.5 6.5" stroke-width="1"/>
<line x1="422.5" y1="1324.2" x2="422.5" y2="1500" stroke="#f4f4f4" stroke-dasharray="5.5 6.5" stroke-width="1"/>
<line x1="433.5" y1="1324.5" x2="433.5" y2="1500" stroke="#e3e3e3" stroke-dasharray="3.5 4.5" stroke-width="1"/>
<line x1="444.5" y1="1324.2" x2="444.5" y2="1500" stroke="#f4f4f4" stroke-dasharray="5.5 6.5" stroke-width="1"/>
<line x1="455.5" y1="1324.2" x2="455.5" y2="1500" stroke="#f4f4f4" stroke-dasharray="5.5 6.5" stroke-width="1"/>
<line x1="466.5" y1="1324.2" x2="466.5" y2="1500" stroke="#f4f4f4" stroke-dasharray="5.5 6.5" stroke-width="1"/>
<line x1="477.5" y1="1324.2" x2="477.5" y2="1500" stroke="#f4f4f4" stroke-dasharray="5.5 6.5" stroke-width="1"/>
<line x1="488.5" y1="1324.5" x2="488.5" y2="1500" stroke="#e3e3e3" stroke-dasharray="3.5 4.5" stroke-width="1"/>
<line x1="499.5" y1="1324.2" x2="499.5" y2="1500" stroke="#f4f4f4" stroke-dasharray="5.5 6.5" stroke-width="1"/>
<line x1="510.5" y1="1324.2" x2="510.5" y2="1500" stroke="#f4f4f4" stroke-dasharray="5.5 6.5" stroke-width="1"/>
<line x1="521.5" y1="1324.2" x2="521.5" y2="1500" stroke="#f4f4f4" stroke-dasharray="5.5 6.5" stroke-width="1"/>
<line x1="532.5" y1="1324.2" x2="532.5" y2="1500" stroke="#f4f4f4" stroke-dasharray="5.5 6.5" stroke-width="1"/>
<line x1="542.5" y1="1324.5" x2="542.5" y2="1500" stroke="#e3e3e3" stroke-dasharray="3.5 4.5" stroke-width="1"/>
<line x1="553.5" y1="1324.2" x2="553.5" y2="1500" stroke="#f4f4f4" stroke-dasharray="5.5 6.5" stroke-width="1"/>
<line x1="564.5" y1="1324.2" x2="564.5" y2="1500" stroke="#f4f4f4" stroke-dasharray="5.5 6.5" stroke-width="1"/>
<line x1="575.5" y1="1324.2" x2="575.5" y2="1500" stroke="#f4f4f4" stroke-dasharray="5.5 6.5" stroke-width="1"/>
<line x1="586.5" y1="1324.2" x2="586.5" y2="1500" stroke="#f4f4f4" stroke-dasharray="5.5 6.5" stroke-width="1"/>
<line x1="597.5" y1="1324.5" x2="597.5" y2="1500" stroke="#e3e3e3" stroke-dasharray="3.5 4.5" stroke-width="1"/>
<line x1="608.5" y1="1324.2" x2="608.5" y2="1500" stroke="#f4f4f4" stroke-dasharray="5.5 6.5" stroke-width="1"/>
<line x1="619.5" y1="1324.2" x2="619.5" y2="1500" stroke="#f4f4f4" stroke-dasharray="5.5 6.5" stroke-width="1"/>
<line x1="630.5" y1="1324.2" x2="630.5" y2="1500" stroke="#f4f4f4" stroke-dasharray="5.5 6.5" stroke-width="1"/>
<line x1="641.5" y1="1324.2" x2="641.5" y2="1500" stroke="#f4f4f4" stroke-dasharray="5.5 6.5" stroke-width="1"/>
<line x1="652.5" y1="1324.5" x2="652.5" y2="1500" stroke="#e3e3e3" stroke-dasharray="3.5 4.5" stroke-width="1"/>
<line x1="663.5" y1="1324.2" x2="663.5" y2="1500" stroke="#f4f4f4" stroke-dasharray="5.5 6.5" stroke-width="1"/>
<line x1="674.5" y1="1324.2" x2="674.5" y2="1500" stroke="#f4f4f4" stroke-dasharray="5.5 6.5" stroke-width="1"/>
<line x1="685.5" y1="1324.2" x2="685.5" y2="1500" stroke="#f4f4f4" stroke-dasharray="5.5 6.5" stroke-width="1"/>
<line x1="696.5" y1="1324.2" x2="696.5" y2="1500" stroke="#f4f4f4" stroke-dasharray="5.5 6.5" stroke-width="1"/>
<line x1="706.5" y1="1324.5" x2="706.5" y2="1500" stroke="#e3e3e3" stroke-dasharray="3.5 4.5" stroke-width="1"/>
<line x1="717.5" y1="1324.2" x2="717.5" y2="1500" stroke="#f4f4f4" stroke-dasharray="5.5 6.5" stroke-width="1"/>
<line x1="728.5" y1="1324.2" x2="728.5" y2="1500" stroke="#f4f4f4" stroke-dasharray="5.5 6.5" stroke-width="1"/>
<line x1="739.5" y1="1324.2" x2="739.5" y2="1500" stroke="#f4f4f4" stroke-dasharray="5.5 6.5" stroke-width="1"/>
<line x1="750.5" y1="1324.2" x2="750.5" y2="1500" stroke="#f4f4f4" stroke-dasharray="5.5 6.5" stroke-width="1"/>
<line x1="761.5" y1="1324.5" x2="761.5" y2="1500" stroke="#e3e3e3" stroke-dasharray="3.5 4.5" stroke-width="1"/>
<line x1="772.5" y1="1324.2" x2="772.5" y2="1500" stroke="#f4f4f4" stroke-dasharray="5.5 6.5" stroke-width="1"/>
<line x1="783.5" y1="1324.2" x2="783.5" y2="1500" stroke="#f4f4f4" stroke-dasharray="5.5 6.5" stroke-width="1"/>
<line x1="794.5" y1="1324.2" x2="794.5" y2="1500" stroke="#f4f4f4" stroke-dasharray="5.5 6.5" stroke-width="1"/>
<line x1="805.5" y1="1324.2" x2="805.5" y2="1500" stroke="#f4f4f4" stroke-dasharray="5.5 6.5" stroke-width="1"/>
<line x1="816.5" y1="1324.5" x2="816.5" y2="1500" stroke="#e3e3e3" stroke-dasharray="3.5 4.5" stroke-width="1"/>
<line x1="827.5" y1="1324.2" x2="827.5" y2="1500" stroke="#f4f4f4" stroke-dasharray="5.5 6.5" stroke-width="1"/>
<line x1="838.5" y1="1324.2" x2="838.5" y2="1500" stroke="#f4f4f4" stroke-dasharray="5.5 6.5" stroke-width="1"/>
<line x1="849.5" y1="1324.2" x2="849.5" y2="1500" stroke="#f4f4f4" stroke-dasharray="5.5 6.5" stroke-width="1"/>
<line x1="860.5" y1="1324.2" x2="860.5" y2="1500" stroke="#f4f4f4" stroke-dasharray="5.5 6.5" stroke-width="1"/>
<line x1="871.5" y1="1324.5" x2="871.5" y2="1500" stroke="#e3e3e3" stroke-dasharray="3.5 4.5" stroke-width="1"/>
<line x1="881.5" y1="1324.2" x2="881.5" y2="1500" stroke="#f4f4f4" stroke-dasharray="5.5 6.5" stroke-width="1"/>
<line x1="892.5" y1="1324.2" x2="892.5" y2="1500" stroke="#f4f4f4" stroke-dasharray="5.5 6.5" stroke-width="1"/>
<line x1="903.5" y1="1324.2" x2="903.5" y2="1500" stroke="#f4f4f4" stroke-dasharray="5.5 6.5" stroke-width="1"/>
<line x1="914.5" y1="1324.2" x2="914.5" y2="1500" stroke="#f4f4f4" stroke-dasharray="5.5 6.5" stroke-width="1"/>
<line x1="925.5" y1="1324.5" x2="925.5" y2="1500" stroke="#e3e3e3" stroke-dasharray="3.5 4.5" stroke-width="1"/>
<line x1="936.5" y1="1324.2" x2="936.5" y2="1500" stroke="#f4f4f4" stroke-dasharray="5.5 6.5" stroke-width="1"/>
<line x1="947.5" y1="1324.2" x2="947.5" y2="1500" stroke="#f4f4f4" stroke-dasharray="5.5 6.5" stroke-width="1"/>
<line x1="958.5" y1="1324.2" x2="958.5" y2="1500" stroke="#f4f4f4" stroke-dasharray="5.5 6.5" stroke-width="1"/>
<line x1="969.5" y1="1324.2" x2="969.5" y2="1500" stroke="#f4f4f4" stroke-dasharray="5.5 6.5" stroke-width="1"/>
<line x1="980.5" y1="1324.5" x2="980.5" y2="1500" stroke="#e3e3e3" stroke-dasharray="3.5 4.5" stroke-width="1"/>
<line x1="991.5" y1="1324.2" x2="991.5" y2="1500" stroke="#f4f4f4" stroke-dasharray="5.5 6.5" stroke-width="1"/>
<line x1="1002.5" y1="1324.2" x2="1002.5" y2="1500" stroke="#f4f4f4" stroke-dasharray="5.5 6.5" stroke-width="1"/>
<line x1="1013.5" y1="1324.2" x2="1013.5" y2="1500" stroke="#f4f4f4" stroke-dasharray="5.5 6.5" stroke-width="1"/>
<line x1="1024.5" y1="1324.2" x2="1024.5" y2="1500" stroke="#f4f4f4" stroke-dasharray="5.5 6.5" stroke-width="1"/>
<line x1="1035.5" y1="1324.5" x2="1035.5" y2="1500" stroke="#e3e3e3" stroke-dasharray="3.5 4.5" stroke-width="1"/>
<line x1="1046.5" y1="1324.2" x2="1046.5" y2="1500" stroke="#f4f4f4" stroke-dasharray="5.5 6.5" stroke-width="1"/>
<line x1="1056.5" y1="1324.2" x2="1056.5" y2="1500" stroke="#f4f4f4" stroke-dasharray="5.5 6.5" stroke-width="1"/>
<line x1="1067.5" y1="1324.2" x2="1067.5" y2="1500" stroke="#f4f4f4" stroke-dasharray="5.5 6.5" stroke-width="1"/>
<line x1="1078.5" y1="1324.2" x2="1078.5" y2="1500" stroke="#f4f4f4" stroke-dasharray="5.5 6.5" stroke-width="1"/>
<line x1="1089.5" y1="1324.5" x2="1089.5" y2="1500" stroke="#e3e3e3" stroke-dasharray="3.5 4.5" stroke-width="1"/>
<line x1="1100.5" y1="1324.2" x2="1100.5" y2="1500" stroke="#f4f4f4" stroke-dasharray="5.5 6.5" stroke-width="1"/>
<line x1="1111.5" y1="1324.2" x2="1111.5" y2="1500" stroke="#f4f4f4" stroke-dasharray="5.5 6.5" stroke-width="1"/>
<line x1="1122.5" y1="1324.2" x2="1122.5" y2="1500" stroke="#f4f4f4" stroke-dasharray="5.5 6.5" stroke-width="1"/>
<line x1="1133.5" y1="1324.2" x2="1133.5" y2="1500" stroke="#f4f4f4" stroke-dasharray="5.5 6.5" stroke-width="1"/>
<line x1="1144.5" y1="1324.5" x2="1144.5" y2="1500" stroke="#e3e3e3" stroke-dasharray="3.5 4.5" stroke-width="1"/>
<line x1="107" y1="1325.5" x2="1151" y2="1325.5" stroke="#e7e7e7" stroke-dasharray="4 4" stroke-width="1"/>
<line x1="107" y1="1360.5" x2="1151" y2="1360.5" stroke="#e7e7e7" stroke-dasharray="4 4" stroke-width="1"/>
<line x1="107" y1="1395.5" x2="1151" y2="1395.5" stroke="#e7e7e7" stroke-dasharray="4 4" stroke-width="1"/>
<line x1="107" y1="1430.5" x2="1151" y2="1430.5" stroke="#e7e7e7" stroke-dasharray="4 4" stroke-width="1"/>
<line x1="107" y1="1465.5" x2="1151" y2="1465.5" stroke="#e7e7e7" stroke-dasharray="4 4" stroke-width="1"/>
<line x1="100.5" y1="1317" x2="100.5" y2="1501" stroke="#000" stroke-width="1"/>
<line x1="98" y1="1500.5" x2="1158" y2="1500.5" stroke="#000" stroke-width="1"/>
<polygon points="100.5,1312.7 96.8,1320 104.2,1320" fill="#000"/>
<polygon points="1161.8,1500.5 1155,1497 1155,1504" fill="#000"/>
<line x1="98" y1="1325.5" x2="103" y2="1325.5" stroke="#000" stroke-width="1"/>
<line x1="98" y1="1342.5" x2="100.5" y2="1342.5" stroke="#ff0000" stroke-width="1"/>
<line x1="98" y1="1360.5" x2="103" y2="1360.5" stroke="#000" stroke-width="1"/>
<line x1="98" y1="1377.5" x2="100.5" y2="1377.5" stroke="#ff0000" stroke-width="1"/>
<line x1="98" y1="1395.5" x2="103" y2="1395.5" stroke="#000" stroke-width="1"/>
<line x1="98" y1="1412.5" x2="100.5" y2="1412.5" stroke="#ff0000" stroke-width="1"/>
<line x1="98" y1="1430.5" x2="103" y2="1430.5" stroke="#000" stroke-width="1"/>
<line x1="98" y1="1447.5" x2="100.5" y2="1447.5" stroke="#ff0000" stroke-width="1"/>
<line x1="98" y1="1465.5" x2="103" y2="1465.5" stroke="#000" stroke-width="1"/>
<line x1="98" y1="1482.5" x2="100.5" y2="1482.5" stroke="#ff0000" stroke-width="1"/>
<line x1="98" y1="1500.5" x2="103" y2="1500.5" stroke="#000" stroke-width="1"/>
<line x1="105.5" y1="1498" x2="105.5" y2="1503" stroke="#000" stroke-width="1"/>
<line x1="116.5" y1="1501" x2="116.5" y2="1503" stroke="#d0d0d0" stroke-width="1"/>
<line x1="127.5" y1="1501" x2="127.5" y2="1503" stroke="#d0d0d0" stroke-width="1"/>
<line x1="138.5" y1="1501" x2="138.5" y2="1503" stroke="#d0d0d0" stroke-width="1"/>
<line x1="149.5" y1="1501" x2="149.5" y2="1503" stroke="#d0d0d0" stroke-width="1"/>
<line x1="160.5" y1="1498" x2="160.5" y2="1503" stroke="#000" stroke-width="1"/>
<line x1="171.5" y1="1501" x2="171.5" y2="1503" stroke="#d0d0d0" stroke-width="1"/>
<line x1="182.5" y1="1501" x2="182.5" y2="1503" stroke="#d0d0d0" stroke-width="1"/>
<line x1="192.5" y1="1501" x2="192.5" y2="1503" stroke="#d0d0d0" stroke-width="1"/>
<line x1="203.5" y1="1501" x2="203.5" y2="1503" stroke="#d0d0d0" stroke-width="1"/>
<line x1="214.5" y1="1498" x2="214.5" y2="1503" stroke="#000" stroke-width="1"/>
<line x1="225.5" y1="1501" x2="225.5" y2="1503" stroke="#d0d0d0" stroke-width="1"/>
<line x1="236.5" y1="1501" x2="236.5" y2="1503" stroke="#d0d0d0" stroke-width="1"/>
<line x1="247.5" y1="1501" x2="247.5" y2="1503" stroke="#d0d0d0" stroke-width="1"/>
<line x1="258.5" y1="1501" x2="258.5" y2="1503" stroke="#d0d0d0" stroke-width="1"/>
<line x1="269.5" y1="1498" x2="269.5" y2="1503" stroke="#000" stroke-width="1"/>
<line x1="280.5" y1="1501" x2="280.5" y2="1503" stroke="#d0d0d0" stroke-width="1"/>
<line x1="291.5" y1="1501" x2="291.5" y2="1503" stroke="#d0d0d0" stroke-width="1"/>
<line x1="302.5" y1="1501" x2="302.5" y2="1503" stroke="#d0d0d0" stroke-width="1"/>
<line x1="313.5" y1="1501" x2="313.5" y2="1503" stroke="#d0d0d0" stroke-width="1"/>
<line x1="324.5" y1="1498" x2="324.5" y2="1503" stroke="#000" stroke-width="1"/>
<line x1="335.5" y1="1501" x2="335.5" y2="1503" stroke="#d0d0d0" stroke-width="1"/>
<line x1="346.5" y1="1501" x2="346.5" y2="1503" stroke="#d0d0d0" stroke-width="1"/>
<line x1="357.5" y1="1501" x2="357.5" y2="1503" stroke="#d0d0d0" stroke-width="1"/>
<line x1="367.5" y1="1501" x2="367.5" y2="1503" stroke="#d0d0d0" stroke-width="1"/>
<line x1="378.5" y1="1498" x2="378.5" y2="1503" stroke="#000" stroke-width="1"/>
<line x1="389.5" y1="1501" x2="389.5" y2="1503" stroke="#d0d0d0" stroke-width="1"/>
<line x1="400.5" y1="1501" x2="400.5" y2="1503" stroke="#d0d0d0" stroke-width="1"/>
<line x1="411.5" y1="1501" x2="411.5" y2="1503" stroke="#d0d0d0" stroke-width="1"/>
<line x1="422.5" y1="1501" x2="422.5" y2="1503" stroke="#d0d0d0" stroke-width="1"/>
<line x1="433.5" y1="1498" x2="433.5" y2="1503" stroke="#000" stroke-width="1"/>
<line x1="444.5" y1="1501" x2="444.5" y2="1503" stroke="#d0d0d0" stroke-width="1"/>
<line x1="455.5" y1="1501" x2="455.5" y2="1503" stroke="#d0d0d0" stroke-width="1"/>
<line x1="466.5" y1="1501" x2="466.5" y2="1503" stroke="#d0d0d0" stroke-width="1"/>
<line x1="477.5" y1="1501" x2="477.5" y2="1503" stroke="#d0d0d0" stroke-width="1"/>
<line x1="488.5" y1="1498" x2="488.5" y2="1503" stroke="#000" stroke-width="1"/>
<line x1="499.5" y1="1501" x2="499.5" y2="1503" stroke="#d0d0d0" stroke-width="1"/>
<line x1="510.5" y1="1501" x2="510.5" y2="1503" stroke="#d0d0d0" stroke-width="1"/>
<line x1="521.5" y1="1501" x2="521.5" y2="1503" stroke="#d0d0d0" stroke-width="1"/>
<line x1="532.5" y1="1501" x2="532.5" y2="1503" stroke="#d0d0d0" stroke-width="1"/>
<line x1="542.5" y1="1498" x2="542.5" y2="1503" stroke="#000" stroke-width="1"/>
<line x1="553.5" y1="1501" x2="553.5" y2="1503" stroke="#d0d0d0" stroke-width="1"/>
<line x1="564.5" y1="1501" x2="564.5" y2="1503" stroke="#d0d0d0" stroke-width="1"/>
<line x1="575.5" y1="1501" x2="575.5" y2="1503" stroke="#d0d0d0" stroke-width="1"/>
<line x1="586.5" y1="1501" x2="586.5" y2="1503" stroke="#d0d0d0" stroke-width="1"/>
<line x1="597.5" y1="1498" x2="597.5" y2="1503" stroke="#000" stroke-width="1"/>
<line x1="608.5" y1="1501" x2="608.5" y2="1503" stroke="#d0d0d0" stroke-width="1"/>
<line x1="619.5" y1="1501" x2="619.5" y2="1503" stroke="#d0d0d0" stroke-width="1"/>
<line x1="630.5" y1="1501" x2="630.5" y2="1503" stroke="#d0d0d0" stroke-width="1"/>
<line x1="641.5" y1="1501" x2="641.5" y2="1503" stroke="#d0d0d0" stroke-width="1"/>
<line x1="652.5" y1="1498" x2="652.5" y2="1503" stroke="#000" stroke-width="1"/>
<line x1="663.5" y1="1501" x2="663.5" y2="1503" stroke="#d0d0d0" stroke-width="1"/>
<line x1="674.5" y1="1501" x2="674.5" y2="1503" stroke="#d0d0d0" stroke-width="1"/>
<line x1="685.5" y1="1501" x2="685.5" y2="1503" stroke="#d0d0d0" stroke-width="1"/>
<line x1="696.5" y1="1501" x2="696.5" y2="1503" stroke="#d0d0d0" stroke-width="1"/>
<line x1="706.5" y1="1498" x2="706.5" y2="1503" stroke="#000" stroke-width="1"/>
<line x1="717.5" y1="1501" x2="717.5" y2="1503" stroke="#d0d0d0" stroke-width="1"/>
<line x1="728.5" y1="1501" x2="728.5" y2="1503" stroke="#d0d0d0" stroke-width="1"/>
<line x1="739.5" y1="1501" x2="739.5" y2="1503" stroke="#d0d0d0" stroke-width="1"/>
<line x1="750.5" y1="1501" x2="750.5" y2="1503" stroke="#d0d0d0" stroke-width="1"/>
<line x1="761.5" y1="1498" x2="761.5" y2="1503" stroke="#000" stroke-width="1"/>
<line x1="772.5" y1="1501" x2="772.5" y2="1503" stroke="#d0d0d0" stroke-width="1"/>
<line x1="783.5" y1="1501" x2="783.5" y2="1503" stroke="#d0d0d0" stroke-width="1"/>
<line x1="794.5" y1="1501" x2="794.5" y2="1503" stroke="#d0d0d0" stroke-width="1"/>
<line x1="805.5" y1="1501" x2="805.5" y2="1503" stroke="#d0d0d0" stroke-width="1"/>
<line x1="816.5" y1="1498" x2="816.5" y2="1503" stroke="#000" stroke-width="1"/>
<line x1="827.5" y1="1501" x2="827.5" y2="1503" stroke="#d0d0d0" stroke-width="1"/>
<line x1="838.5" y1="1501" x2="838.5" y2="1503" stroke="#d0d0d0" stroke-width="1"/>
<line x1="849.5" y1="1501" x2="849.5" y2="1503" stroke="#d0d0d0" stroke-width="1"/>
<line x1="860.5" y1="1501" x2="860.5" y2="1503" stroke="#d0d0d0" stroke-width="1"/>
<line x1="871.5" y1="1498" x2="871.5" y2="1503" stroke="#000" stroke-width="1"/>
<line x1="881.5" y1="1501" x2="881.5" y2="1503" stroke="#d0d0d0" stroke-width="1"/>
<line x1="892.5" y1="1501" x2="892.5" y2="1503" stroke="#d0d0d0" stroke-width="1"/>
<line x1="903.5" y1="1501" x2="903.5" y2="1503" stroke="#d0d0d0" stroke-width="1"/>
<line x1="914.5" y1="1501" x2="914.5" y2="1503" stroke="#d0d0d0" stroke-width="1"/>
<line x1="925.5" y1="1498" x2="925.5" y2="1503" stroke="#000" stroke-width="1"/>
<line x1="936.5" y1="1501" x2="936.5" y2="1503" stroke="#d0d0d0" stroke-width="1"/>
<line x1="947.5" y1="1501" x2="947.5" y2="1503" stroke="#d0d0d0" stroke-width="1"/>
<line x1="958.5" y1="1501" x2="958.5" y2="1503" stroke="#d0d0d0" stroke-width="1"/>
<line x1="969.5" y1="1501" x2="969.5" y2="1503" stroke="#d0d0d0" stroke-width="1"/>
<line x1="980.5" y1="1498" x2="980.5" y2="1503" stroke="#000" stroke-width="1"/>
<line x1="991.5" y1="1501" x2="991.5" y2="1503" stroke="#d0d0d0" stroke-width="1"/>
<line x1="1002.5" y1="1501" x2="1002.5" y2="1503" stroke="#d0d0d0" stroke-width="1"/>
<line x1="1013.5" y1="1501" x2="1013.5" y2="1503" stroke="#d0d0d0" stroke-width="1"/>
<line x1="1024.5" y1="1501" x2="1024.5" y2="1503" stroke="#d0d0d0" stroke-width="1"/>
<line x1="1035.5" y1="1498" x2="1035.5" y2="1503" stroke="#000" stroke-width="1"/>
<line x1="1046.5" y1="1501" x2="1046.5" y2="1503" stroke="#d0d0d0" stroke-width="1"/>
<line x1="1056.5" y1="1501" x2="1056.5" y2="1503" stroke="#d0d0d0" stroke-width="1"/>
<line x1="1067.5" y1="1501" x2="1067.5" y2="1503" stroke="#d0d0d0" stroke-width="1"/>
<line x1="1078.5" y1="1501" x2="1078.5" y2="1503" stroke="#d0d0d0" stroke-width="1"/>
<line x1="1089.5" y1="1498" x2="1089.5" y2="1503" stroke="#000" stroke-width="1"/>
<line x1="1100.5" y1="1501" x2="1100.5" y2="1503" stroke="#d0d0d0" stroke-width="1"/>
<line x1="1111.5" y1="1501" x2="1111.5" y2="1503" stroke="#d0d0d0" stroke-width="1"/>
<line x1="1122.5" y1="1501" x2="1122.5" y2="1503" stroke="#d0d0d0" stroke-width="1"/>
<line x1="1133.5" y1="1501" x2="1133.5" y2="1503" stroke="#d0d0d0" stroke-width="1"/>
<line x1="1144.5" y1="1498" x2="1144.5" y2="1503" stroke="#000" stroke-width="1"/>
<clipPath id="up"><rect x="0" y="1300" width="1200" height="130.5"/></clipPath>
<clipPath id="dn"><rect x="0" y="1430.5" width="1200" height="100"/></clipPath>
<g opacity="0.9" clip-path="url(#up)"><path d="M105.5,1430.5 C107.15,1430.05 113.2,1429.38 116.5,1427.5 C119.8,1425.62 124.2,1420.7 127.5,1418 C130.8,1415.3 135.2,1411.26 138.5,1409.5 C141.8,1407.74 146.2,1405.61 149.5,1406.25 C152.8,1406.89 157.2,1414.31 160.5,1413.75 C163.8,1413.19 168.2,1407.19 171.5,1402.5 C174.8,1397.81 179.35,1386.74 182.5,1382.5 C185.65,1378.26 189.35,1375 192.5,1374.25 C195.65,1373.5 200.2,1376.08 203.5,1377.5 C206.8,1378.92 211.2,1379.25 214.5,1383.75 C217.8,1388.25 222.2,1398.76 225.5,1407.5 C228.8,1416.24 233.2,1436.38 236.5,1442 C239.8,1447.62 244.2,1444.33 247.5,1445 C250.8,1445.67 255.2,1446.5 258.5,1446.5 C261.8,1446.5 266.2,1445.22 269.5,1445 C272.8,1444.78 277.2,1444.7 280.5,1445 C283.8,1445.3 288.2,1445.88 291.5,1447 C294.8,1448.12 299.2,1451.75 302.5,1452.5 C305.8,1453.25 310.2,1450.88 313.5,1452 C316.8,1453.12 321.2,1457.97 324.5,1460 C327.8,1462.03 332.2,1463.81 335.5,1465.5 C338.8,1467.19 343.2,1469.45 346.5,1471.25 C349.8,1473.05 354.35,1477.88 357.5,1477.5 C360.65,1477.12 364.35,1471.75 367.5,1468.75 C370.65,1465.75 375.2,1461.62 378.5,1457.5 C381.8,1453.38 386.2,1445.56 389.5,1441.25 C392.8,1436.94 397.2,1432.31 400.5,1428.75 C403.8,1425.19 408.2,1420.2 411.5,1417.5 C414.8,1414.8 419.2,1412.06 422.5,1410.75 C425.8,1409.44 430.2,1411.11 433.5,1408.75 C436.8,1406.39 441.2,1398.19 444.5,1395 C447.8,1391.81 452.2,1388.81 455.5,1387.5 C458.8,1386.19 463.2,1384.75 466.5,1386.25 C469.8,1387.75 474.2,1393.38 477.5,1397.5 C480.8,1401.62 485.2,1409.06 488.5,1413.75 C491.8,1418.44 496.2,1424.62 499.5,1428.75 C502.8,1432.88 507.2,1437.5 510.5,1441.25 C513.8,1445 518.2,1450 521.5,1453.75 C524.8,1457.5 529.35,1462.99 532.5,1466.25 C535.65,1469.51 539.35,1473.62 542.5,1475.5 C545.65,1477.38 550.2,1478.38 553.5,1478.75 C556.8,1479.12 561.2,1478.75 564.5,1478 C567.8,1477.25 572.2,1474.76 575.5,1473.75 C578.8,1472.74 583.2,1472.75 586.5,1471.25 C589.8,1469.75 594.2,1467.31 597.5,1463.75 C600.8,1460.19 605.2,1452.19 608.5,1447.5 C611.8,1442.81 616.2,1436.25 619.5,1432.5 C622.8,1428.75 627.2,1425.2 630.5,1422.5 C633.8,1419.8 638.2,1416 641.5,1414.5 C644.8,1413 649.2,1411.11 652.5,1412.5 C655.8,1413.89 660.2,1420.83 663.5,1423.75 C666.8,1426.67 671.2,1429 674.5,1432 C677.8,1435 682.2,1439.62 685.5,1443.75 C688.8,1447.88 693.35,1456.95 696.5,1459.5 C699.65,1462.05 703.35,1463.11 706.5,1460.75 C709.65,1458.39 714.2,1447.61 717.5,1443.75 C720.8,1439.89 725.2,1436.58 728.5,1435 C731.8,1433.42 736.2,1432.69 739.5,1433.25 C742.8,1433.81 747.2,1437.36 750.5,1438.75 C753.8,1440.14 758.2,1441.56 761.5,1442.5 C764.8,1443.44 769.2,1444.25 772.5,1445 C775.8,1445.75 780.2,1448.06 783.5,1447.5 C786.8,1446.94 791.2,1444.06 794.5,1441.25 C797.8,1438.44 802.2,1433.62 805.5,1428.75 C808.8,1423.88 813.2,1414.56 816.5,1408.75 C819.8,1402.94 824.2,1394.5 827.5,1390 C830.8,1385.5 835.2,1381.08 838.5,1378.75 C841.8,1376.42 846.2,1374.5 849.5,1374.5 C852.8,1374.5 857.2,1378.49 860.5,1378.75 C863.8,1379.01 868.35,1377.26 871.5,1376.25 C874.65,1375.24 878.35,1374.25 881.5,1372 C884.65,1369.75 889.2,1365.49 892.5,1361.25 C895.8,1357.01 900.2,1348.25 903.5,1343.75 C906.8,1339.25 911.2,1333.5 914.5,1331.25 C917.8,1329 922.2,1325.94 925.5,1328.75 C928.8,1331.56 933.2,1343.06 936.5,1350 C939.8,1356.94 944.2,1368.81 947.5,1375 C950.8,1381.19 955.2,1386.19 958.5,1391.25 C961.8,1396.31 966.2,1404.44 969.5,1408.75 C972.8,1413.06 977.2,1416.25 980.5,1420 C983.8,1423.75 988.2,1428.69 991.5,1433.75 C994.8,1438.81 999.2,1448.24 1002.5,1453.75 C1005.8,1459.26 1010.2,1468.7 1013.5,1470.5 C1016.8,1472.3 1021.2,1466.58 1024.5,1465.75 C1027.8,1464.92 1032.2,1464.62 1035.5,1465 C1038.8,1465.38 1043.35,1467.88 1046.5,1468.25 C1049.65,1468.62 1053.35,1467.88 1056.5,1467.5 C1059.65,1467.12 1064.2,1467.06 1067.5,1465.75 C1070.8,1464.44 1075.2,1462.61 1078.5,1458.75 C1081.8,1454.89 1086.2,1444.5 1089.5,1440 C1092.8,1435.5 1097.2,1432.5 1100.5,1428.75 C1103.8,1425 1108.2,1417.62 1111.5,1415 C1114.8,1412.38 1119.2,1411.62 1122.5,1411.25 C1125.8,1410.88 1130.2,1411 1133.5,1412.5 C1136.8,1414 1142.85,1419.94 1144.5,1421.25 L1144.5,1430.5 L105.5,1430.5 Z" fill="#8cfc8c"/><rect x="105" y="1429.5" width="1039.5" height="1" fill="#8cfc8c"/></g>
<path d="M105.5,1430.5 C107.15,1430.05 113.2,1429.38 116.5,1427.5 C119.8,1425.62 124.2,1420.7 127.5,1418 C130.8,1415.3 135.2,1411.26 138.5,1409.5 C141.8,1407.74 146.2,1405.61 149.5,1406.25 C152.8,1406.89 157.2,1414.31 160.5,1413.75 C163.8,1413.19 168.2,1407.19 171.5,1402.5 C174.8,1397.81 179.35,1386.74 182.5,1382.5 C185.65,1378.26 189.35,1375 192.5,1374.25 C195.65,1373.5 200.2,1376.08 203.5,1377.5 C206.8,1378.92 211.2,1379.25 214.5,1383.75 C217.8,1388.25 222.2,1398.76 225.5,1407.5 C228.8,1416.24 233.2,1436.38 236.5,1442 C239.8,1447.62 244.2,1444.33 247.5,1445 C250.8,1445.67 255.2,1446.5 258.5,1446.5 C261.8,1446.5 266.2,1445.22 269.5,1445 C272.8,1444.78 277.2,1444.7 280.5,1445 C283.8,1445.3 288.2,1445.88 291.5,1447 C294.8,1448.12 299.2,1451.75 302.5,1452.5 C305.8,1453.25 310.2,1450.88 313.5,1452 C316.8,1453.12 321.2,1457.97 324.5,1460 C327.8,1462.03 332.2,1463.81 335.5,1465.5 C338.8,1467.19 343.2,1469.45 346.5,1471.25 C349.8,1473.05 354.35,1477.88 357.5,1477.5 C360.65,1477.12 364.35,1471.75 367.5,1468.75 C370.65,1465.75 375.2,1461.62 378.5,1457.5 C381.8,1453.38 386.2,1445.56 389.5,1441.25 C392.8,1436.94 397.2,1432.31 400.5,1428.75 C403.8,1425.19 408.2,1420.2 411.5,1417.5 C414.8,1414.8 419.2,1412.06 422.5,1410.75 C425.8,1409.44 430.2,1411.11 433.5,1408.75 C436.8,1406.39 441.2,1398.19 444.5,1395 C447.8,1391.81 452.2,1388.81 455.5,1387.5 C458.8,1386.19 463.2,1384.75 466.5,1386.25 C469.8,1387.75 474.2,1393.38 477.5,1397.5 C480.8,1401.62 485.2,1409.06 488.5,1413.75 C491.8,1418.44 496.2,1424.62 499.5,1428.75 C502.8,1432.88 507.2,1437.5 510.5,1441.25 C513.8,1445 518.2,1450 521.5,1453.75 C524.8,1457.5 529.35,1462.99 532.5,1466.25 C535.65,1469.51 539.35,1473.62 542.5,1475.5 C545.65,1477.38 550.2,1478.38 553.5,1478.75 C556.8,1479.12 561.2,1478.75 564.5,1478 C567.8,1477.25 572.2,1474.76 575.5,1473.75 C578.8,1472.74 583.2,1472.75 586.5,1471.25 C589.8,1469.75 594.2,1467.31 597.5,1463.75 C600.8,1460.19 605.2,1452.19 608.5,1447.5 C611.8,1442.81 616.2,1436.25 619.5,1432.5 C622.8,1428.75 627.2,1425.2 630.5,1422.5 C633.8,1419.8 638.2,1416 641.5,1414.5 C644.8,1413 649.2,1411.11 652.5,1412.5 C655.8,1413.89 660.2,1420.83 663.5,1423.75 C666.8,1426.67 671.2,1429 674.5,1432 C677.8,1435 682.2,1439.62 685.5,1443.75 C688.8,1447.88 693.35,1456.95 696.5,1459.5 C699.65,1462.05 703.35,1463.11 706.5,1460.75 C709.65,1458.39 714.2,1447.61 717.5,1443.75 C720.8,1439.89 725.2,1436.58 728.5,1435 C731.8,1433.42 736.2,1432.69 739.5,1433.25 C742.8,1433.81 747.2,1437.36 750.5,1438.75 C753.8,1440.14 758.2,1441.56 761.5,1442.5 C764.8,1443.44 769.2,1444.25 772.5,1445 C775.8,1445.75 780.2,1448.06 783.5,1447.5 C786.8,1446.94 791.2,1444.06 794.5,1441.25 C797.8,1438.44 802.2,1433.62 805.5,1428.75 C808.8,1423.88 813.2,1414.56 816.5,1408.75 C819.8,1402.94 824.2,1394.5 827.5,1390 C830.8,1385.5 835.2,1381.08 838.5,1378.75 C841.8,1376.42 846.2,1374.5 849.5,1374.5 C852.8,1374.5 857.2,1378.49 860.5,1378.75 C863.8,1379.01 868.35,1377.26 871.5,1376.25 C874.65,1375.24 878.35,1374.25 881.5,1372 C884.65,1369.75 889.2,1365.49 892.5,1361.25 C895.8,1357.01 900.2,1348.25 903.5,1343.75 C906.8,1339.25 911.2,1333.5 914.5,1331.25 C917.8,1329 922.2,1325.94 925.5,1328.75 C928.8,1331.56 933.2,1343.06 936.5,1350 C939.8,1356.94 944.2,1368.81 947.5,1375 C950.8,1381.19 955.2,1386.19 958.5,1391.25 C961.8,1396.31 966.2,1404.44 969.5,1408.75 C972.8,1413.06 977.2,1416.25 980.5,1420 C983.8,1423.75 988.2,1428.69 991.5,1433.75 C994.8,1438.81 999.2,1448.24 1002.5,1453.75 C1005.8,1459.26 1010.2,1468.7 1013.5,1470.5 C1016.8,1472.3 1021.2,1466.58 1024.5,1465.75 C1027.8,1464.92 1032.2,1464.62 1035.5,1465 C1038.8,1465.38 1043.35,1467.88 1046.5,1468.25 C1049.65,1468.62 1053.35,1467.88 1056.5,1467.5 C1059.65,1467.12 1064.2,1467.06 1067.5,1465.75 C1070.8,1464.44 1075.2,1462.61 1078.5,1458.75 C1081.8,1454.89 1086.2,1444.5 1089.5,1440 C1092.8,1435.5 1097.2,1432.5 1100.5,1428.75 C1103.8,1425 1108.2,1417.62 1111.5,1415 C1114.8,1412.38 1119.2,1411.62 1122.5,1411.25 C1125.8,1410.88 1130.2,1411 1133.5,1412.5 C1136.8,1414 1142.85,1419.94 1144.5,1421.25 L1144.5,1430.5 L105.5,1430.5 Z" fill="#fc8c8c" fill-opacity="0.9" clip-path="url(#dn)"/>
<g opacity="0.99">
<text x="64" y="68.8" font-size="10.8" textLength="30.71" lengthAdjust="spacingAndGlyphs">52.00</text>
<text x="64" y="91.8" font-size="10.8" textLength="30.71" lengthAdjust="spacingAndGlyphs">51.00</text>
<text x="64" y="114.8" font-size="10.8" textLength="30.71" lengthAdjust="spacingAndGlyphs">50.00</text>
<text x="64" y="137.8" font-size="10.8" textLength="30.71" lengthAdjust="spacingAndGlyphs">49.00</text>
<text x="64" y="161.8" font-size="10.8" textLength="30.71" lengthAdjust="spacingAndGlyphs">48.00</text>
<text x="64" y="184.8" font-size="10.8" textLength="30.71" lengthAdjust="spacingAndGlyphs">47.00</text>
<text x="64" y="207.8" font-size="10.8" textLength="30.71" lengthAdjust="spacingAndGlyphs">46.00</text>
<text x="64" y="230.8" font-size="10.8" textLength="30.71" lengthAdjust="spacingAndGlyphs">45.00</text>
<text x="64" y="254.8" font-size="10.8" textLength="30.71" lengthAdjust="spacingAndGlyphs">44.00</text>
<text x="64" y="277.8" font-size="10.8" textLength="30.71" lengthAdjust="spacingAndGlyphs">43.00</text>
<text x="64" y="300.8" font-size="10.8" textLength="30.71" lengthAdjust="spacingAndGlyphs">42.00</text>
<text x="64" y="323.8" font-size="10.8" textLength="30.71" lengthAdjust="spacingAndGlyphs">41.00</text>
<text x="64" y="347.8" font-size="10.8" textLength="30.71" lengthAdjust="spacingAndGlyphs">40.00</text>
<text x="64" y="370.8" font-size="10.8" textLength="30.71" lengthAdjust="spacingAndGlyphs">39.00</text>
<text x="64" y="393.8" font-size="10.8" textLength="30.71" lengthAdjust="spacingAndGlyphs">38.00</text>
<text x="64" y="416.8" font-size="10.8" textLength="30.71" lengthAdjust="spacingAndGlyphs">37.00</text>
<text x="64" y="440.8" font-size="10.8" textLength="30.71" lengthAdjust="spacingAndGlyphs">36.00</text>
<text x="64" y="463.8" font-size="10.8" textLength="30.71" lengthAdjust="spacingAndGlyphs">35.00</text>
<text x="64" y="486.8" font-size="10.8" textLength="30.71" lengthAdjust="spacingAndGlyphs">34.00</text>
<text x="64" y="509.8" font-size="10.8" textLength="30.71" lengthAdjust="spacingAndGlyphs">33.00</text>
<text x="64" y="533.8" font-size="10.8" textLength="30.71" lengthAdjust="spacingAndGlyphs">32.00</text>
<text x="64" y="556.8" font-size="10.8" textLength="30.71" lengthAdjust="spacingAndGlyphs">31.00</text>
<text x="64" y="579.8" font-size="10.8" textLength="30.71" lengthAdjust="spacingAndGlyphs">30.00</text>
<text x="64" y="603.8" font-size="10.8" textLength="30.71" lengthAdjust="spacingAndGlyphs">29.00</text>
<text x="83.39" y="613" font-size="10.8" textLength="41.42" lengthAdjust="spacingAndGlyphs">25 Sept</text>
<text x="144.95" y="613" font-size="10.8" textLength="28.29" lengthAdjust="spacingAndGlyphs">2 Oct</text>
<text x="198.95" y="613" font-size="10.8" textLength="28.29" lengthAdjust="spacingAndGlyphs">9 Oct</text>
<text x="250.57" y="613" font-size="10.8" textLength="35.07" lengthAdjust="spacingAndGlyphs">16 Oct</text>
<text x="305.56" y="613" font-size="10.8" textLength="35.07" lengthAdjust="spacingAndGlyphs">23 Oct</text>
<text x="359.56" y="613" font-size="10.8" textLength="35.07" lengthAdjust="spacingAndGlyphs">30 Oct</text>
<text x="416.65" y="613" font-size="10.8" textLength="30.25" lengthAdjust="spacingAndGlyphs">6 Nov</text>
<text x="468.26" y="613" font-size="10.8" textLength="37.03" lengthAdjust="spacingAndGlyphs">13 Nov</text>
<text x="522.26" y="613" font-size="10.8" textLength="37.03" lengthAdjust="spacingAndGlyphs">20 Nov</text>
<text x="577.26" y="613" font-size="10.8" textLength="37.03" lengthAdjust="spacingAndGlyphs">27 Nov</text>
<text x="635.97" y="614" font-size="10.8" textLength="29.64" lengthAdjust="spacingAndGlyphs">4 Déc</text>
<text x="686.58" y="614" font-size="10.8" textLength="36.39" lengthAdjust="spacingAndGlyphs">11 Déc</text>
<text x="741.58" y="614" font-size="10.8" textLength="36.41" lengthAdjust="spacingAndGlyphs">18 Déc</text>
<text x="796.58" y="614" font-size="10.8" textLength="36.41" lengthAdjust="spacingAndGlyphs">27 Déc</text>
<text x="852.88" y="613" font-size="10.8" textLength="33.81" lengthAdjust="spacingAndGlyphs">4 Janv</text>
<text x="903.49" y="613" font-size="10.8" textLength="40.57" lengthAdjust="spacingAndGlyphs">11 Janv</text>
<text x="958.49" y="613" font-size="10.8" textLength="40.58" lengthAdjust="spacingAndGlyphs">18 Janv</text>
<text x="1013.48" y="613" font-size="10.8" textLength="40.58" lengthAdjust="spacingAndGlyphs">25 Janv</text>
<text x="1068.18" y="614" font-size="10.8" textLength="39.2" lengthAdjust="spacingAndGlyphs">1er Fév</text>
<text x="1128.63" y="614" font-size="10.8" textLength="28.3" lengthAdjust="spacingAndGlyphs">8 Fév</text>
<text x="493" y="628.3" font-size="10.8" textLength="260.67" lengthAdjust="spacingAndGlyphs">Date (du 25 Septembre 2018 au 8 Février 2019)</text>
<text x="-34" y="0" font-size="10.8" textLength="68.66" lengthAdjust="spacingAndGlyphs" transform="translate(58,332.5) rotate(-90)">Cours (Euro)</text>
<text x="110.4" y="34" font-size="24.4" textLength="66.03" lengthAdjust="spacingAndGlyphs">Xilam</text>
<text x="185.5" y="34" font-size="24.4" textLength="131.93" lengthAdjust="spacingAndGlyphs">Animation:</text>
<text x="325.39" y="34" font-size="24.4" textLength="120.84" lengthAdjust="spacingAndGlyphs">graphique</text>
<text x="454.4" y="34" font-size="24.4" textLength="32.47" lengthAdjust="spacingAndGlyphs">du</text>
<text x="493.93" y="34" font-size="24.4" textLength="63.88" lengthAdjust="spacingAndGlyphs">cours</text>
<text x="566.94" y="34" font-size="24.4" textLength="11.84" lengthAdjust="spacingAndGlyphs">-</text>
<text x="586" y="34" font-size="24.4" textLength="208.84" lengthAdjust="spacingAndGlyphs">AnalyBourse.com</text>
<text x="559" y="55.3" font-size="10.8" textLength="52.51" lengthAdjust="spacingAndGlyphs">Support 1</text>
<text x="630" y="55.3" font-size="10.8" textLength="52.01" lengthAdjust="spacingAndGlyphs">Support 2</text>
<text x="699.5" y="55.3" font-size="10.8" textLength="52.51" lengthAdjust="spacingAndGlyphs">Support 3</text>
<text x="769.5" y="56.7" font-size="10.8" textLength="66" lengthAdjust="spacingAndGlyphs">Résistance 1</text>
<text x="853.3" y="56.7" font-size="10.8" textLength="66.21" lengthAdjust="spacingAndGlyphs">Résistance 2</text>
<text x="937.3" y="56.7" font-size="10.8" textLength="65.9" lengthAdjust="spacingAndGlyphs">Résistance 3</text>
<text x="1021.3" y="55.3" font-size="10.8" textLength="30.7" lengthAdjust="spacingAndGlyphs">MM20</text>
<text x="1069.3" y="55.3" font-size="10.8" textLength="29.9" lengthAdjust="spacingAndGlyphs">MM50</text>
<text x="1117.3" y="55.3" font-size="10.8" textLength="37.4" lengthAdjust="spacingAndGlyphs">MM100</text>
<text x="39.78" y="728.8" font-size="10.8" textLength="54.93" lengthAdjust="spacingAndGlyphs">50,000.00</text>
<text x="39.78" y="763.8" font-size="10.8" textLength="54.93" lengthAdjust="spacingAndGlyphs">40,000.00</text>
<text x="39.78" y="798.8" font-size="10.8" textLength="54.93" lengthAdjust="spacingAndGlyphs">30,000.00</text>
<text x="39.78" y="833.8" font-size="10.8" textLength="54.93" lengthAdjust="spacingAndGlyphs">20,000.00</text>
<text x="39.78" y="868.8" font-size="10.8" textLength="54.93" lengthAdjust="spacingAndGlyphs">10,000.00</text>
<text x="70.78" y="903.8" font-size="10.8" textLength="23.93" lengthAdjust="spacingAndGlyphs">0.00</text>
<text x="83.39" y="913" font-size="10.8" textLength="41.42" lengthAdjust="spacingAndGlyphs">25 Sept</text>
<text x="144.95" y="913" font-size="10.8" textLength="28.29" lengthAdjust="spacingAndGlyphs">2 Oct</text>
<text x="198.95" y="913" font-size="10.8" textLength="28.29" lengthAdjust="spacingAndGlyphs">9 Oct</text>
<text x="250.57" y="913" font-size="10.8" textLength="35.07" lengthAdjust="spacingAndGlyphs">16 Oct</text>
<text x="305.56" y="913" font-size="10.8" textLength="35.07" lengthAdjust="spacingAndGlyphs">23 Oct</text>
<text x="359.56" y="913" font-size="10.8" textLength="35.07" lengthAdjust="spacingAndGlyphs">30 Oct</text>
<text x="416.65" y="913" font-size="10.8" textLength="30.25" lengthAdjust="spacingAndGlyphs">6 Nov</text>
<text x="468.26" y="913" font-size="10.8" textLength="37.03" lengthAdjust="spacingAndGlyphs">13 Nov</text>
<text x="522.26" y="913" font-size="10.8" textLength="37.03" lengthAdjust="spacingAndGlyphs">20 Nov</text>
<text x="577.26" y="913" font-size="10.8" textLength="37.03" lengthAdjust="spacingAndGlyphs">27 Nov</text>
<text x="635.97" y="914" font-size="10.8" textLength="29.64" lengthAdjust="spacingAndGlyphs">4 Déc</text>
<text x="686.58" y="914" font-size="10.8" textLength="36.39" lengthAdjust="spacingAndGlyphs">11 Déc</text>
<text x="741.58" y="914" font-size="10.8" textLength="36.41" lengthAdjust="spacingAndGlyphs">18 Déc</text>
<text x="796.58" y="914" font-size="10.8" textLength="36.41" lengthAdjust="spacingAndGlyphs">27 Déc</text>
<text x="852.88" y="913" font-size="10.8" textLength="33.81" lengthAdjust="spacingAndGlyphs">4 Janv</text>
<text x="903.49" y="913" font-size="10.8" textLength="40.57" lengthAdjust="spacingAndGlyphs">11 Janv</text>
<text x="958.49" y="913" font-size="10.8" textLength="40.58" lengthAdjust="spacingAndGlyphs">18 Janv</text>
<text x="1013.48" y="913" font-size="10.8" textLength="40.58" lengthAdjust="spacingAndGlyphs">25 Janv</text>
<text x="1068.18" y="914" font-size="10.8" textLength="39.2" lengthAdjust="spacingAndGlyphs">1er Fév</text>
<text x="1128.63" y="914" font-size="10.8" textLength="28.3" lengthAdjust="spacingAndGlyphs">8 Fév</text>
<text x="493" y="928.3" font-size="10.8" textLength="260.67" lengthAdjust="spacingAndGlyphs">Date (du 25 Septembre 2018 au 8 Février 2019)</text>
<text x="-19" y="0" font-size="10.8" textLength="38" lengthAdjust="spacingAndGlyphs" transform="translate(36.5,812.5) rotate(-90)">Volume</text>
<text x="110.4" y="694" font-size="24.4" textLength="66.03" lengthAdjust="spacingAndGlyphs">Xilam</text>
<text x="185.5" y="694" font-size="24.4" textLength="131.93" lengthAdjust="spacingAndGlyphs">Animation:</text>
<text x="325.39" y="694" font-size="24.4" textLength="120.84" lengthAdjust="spacingAndGlyphs">graphique</text>
<text x="454.4" y="694" font-size="24.4" textLength="32.47" lengthAdjust="spacingAndGlyphs">du</text>
<text x="495" y="694" font-size="24.4" textLength="86.52" lengthAdjust="spacingAndGlyphs">volume</text>
<text x="590.24" y="694" font-size="24.4" textLength="11.84" lengthAdjust="spacingAndGlyphs">-</text>
<text x="609.3" y="694" font-size="24.4" textLength="208.84" lengthAdjust="spacingAndGlyphs">AnalyBourse.com</text>
<text x="57.22" y="1028.8" font-size="10.8" textLength="37.49" lengthAdjust="spacingAndGlyphs">100.00</text>
<text x="64" y="1063.8" font-size="10.8" textLength="30.71" lengthAdjust="spacingAndGlyphs">80.00</text>
<text x="64" y="1098.8" font-size="10.8" textLength="30.71" lengthAdjust="spacingAndGlyphs">60.00</text>
<text x="64" y="1133.8" font-size="10.8" textLength="30.71" lengthAdjust="spacingAndGlyphs">40.00</text>
<text x="64" y="1168.8" font-size="10.8" textLength="30.71" lengthAdjust="spacingAndGlyphs">20.00</text>
<text x="70.78" y="1203.8" font-size="10.8" textLength="23.93" lengthAdjust="spacingAndGlyphs">0.00</text>
<text x="83.39" y="1213" font-size="10.8" textLength="41.42" lengthAdjust="spacingAndGlyphs">25 Sept</text>
<text x="144.95" y="1213" font-size="10.8" textLength="28.29" lengthAdjust="spacingAndGlyphs">2 Oct</text>
<text x="198.95" y="1213" font-size="10.8" textLength="28.29" lengthAdjust="spacingAndGlyphs">9 Oct</text>
<text x="250.57" y="1213" font-size="10.8" textLength="35.07" lengthAdjust="spacingAndGlyphs">16 Oct</text>
<text x="305.56" y="1213" font-size="10.8" textLength="35.07" lengthAdjust="spacingAndGlyphs">23 Oct</text>
<text x="359.56" y="1213" font-size="10.8" textLength="35.07" lengthAdjust="spacingAndGlyphs">30 Oct</text>
<text x="416.65" y="1213" font-size="10.8" textLength="30.25" lengthAdjust="spacingAndGlyphs">6 Nov</text>
<text x="468.26" y="1213" font-size="10.8" textLength="37.03" lengthAdjust="spacingAndGlyphs">13 Nov</text>
<text x="522.26" y="1213" font-size="10.8" textLength="37.03" lengthAdjust="spacingAndGlyphs">20 Nov</text>
<text x="577.26" y="1213" font-size="10.8" textLength="37.03" lengthAdjust="spacingAndGlyphs">27 Nov</text>
<text x="635.97" y="1214" font-size="10.8" textLength="29.64" lengthAdjust="spacingAndGlyphs">4 Déc</text>
<text x="686.58" y="1214" font-size="10.8" textLength="36.39" lengthAdjust="spacingAndGlyphs">11 Déc</text>
<text x="741.58" y="1214" font-size="10.8" textLength="36.41" lengthAdjust="spacingAndGlyphs">18 Déc</text>
<text x="796.58" y="1214" font-size="10.8" textLength="36.41" lengthAdjust="spacingAndGlyphs">27 Déc</text>
<text x="852.88" y="1213" font-size="10.8" textLength="33.81" lengthAdjust="spacingAndGlyphs">4 Janv</text>
<text x="903.49" y="1213" font-size="10.8" textLength="40.57" lengthAdjust="spacingAndGlyphs">11 Janv</text>
<text x="958.49" y="1213" font-size="10.8" textLength="40.58" lengthAdjust="spacingAndGlyphs">18 Janv</text>
<text x="1013.48" y="1213" font-size="10.8" textLength="40.58" lengthAdjust="spacingAndGlyphs">25 Janv</text>
<text x="1068.18" y="1214" font-size="10.8" textLength="39.2" lengthAdjust="spacingAndGlyphs">1er Fév</text>
<text x="1128.63" y="1214" font-size="10.8" textLength="28.3" lengthAdjust="spacingAndGlyphs">8 Fév</text>
<text x="493" y="1228.3" font-size="10.8" textLength="260.67" lengthAdjust="spacingAndGlyphs">Date (du 25 Septembre 2018 au 8 Février 2019)</text>
<text x="-8.5" y="0" font-size="10.8" textLength="18" lengthAdjust="spacingAndGlyphs" transform="translate(55,1112.5) rotate(-90)">RSI</text>
<text x="110.4" y="994" font-size="24.4" textLength="66.03" lengthAdjust="spacingAndGlyphs">Xilam</text>
<text x="185.5" y="994" font-size="24.4" textLength="131.93" lengthAdjust="spacingAndGlyphs">Animation:</text>
<text x="325.39" y="994" font-size="24.4" textLength="120.84" lengthAdjust="spacingAndGlyphs">graphique</text>
<text x="454.4" y="994" font-size="24.4" textLength="32.47" lengthAdjust="spacingAndGlyphs">du</text>
<text x="494.29" y="994" font-size="24.4" textLength="42.99" lengthAdjust="spacingAndGlyphs">RSI</text>
<text x="546.03" y="994" font-size="24.4" textLength="11.14" lengthAdjust="spacingAndGlyphs">-</text>
<text x="563.09" y="994" font-size="24.4" textLength="97.21" lengthAdjust="spacingAndGlyphs">RSI(14)</text>
<text x="669.03" y="994" font-size="24.4" textLength="11.14" lengthAdjust="spacingAndGlyphs">-</text>
<text x="687.5" y="994" font-size="24.4" textLength="208.94" lengthAdjust="spacingAndGlyphs">AnalyBourse.com</text>
<text x="70.78" y="1328.8" font-size="10.8" textLength="23.93" lengthAdjust="spacingAndGlyphs">1.50</text>
<text x="70.78" y="1363.8" font-size="10.8" textLength="23.93" lengthAdjust="spacingAndGlyphs">1.00</text>
<text x="70.78" y="1398.8" font-size="10.8" textLength="23.93" lengthAdjust="spacingAndGlyphs">0.50</text>
<text x="70.78" y="1433.8" font-size="10.8" textLength="23.93" lengthAdjust="spacingAndGlyphs">0.00</text>
<text x="65.93" y="1468.8" font-size="10.8" textLength="28.78" lengthAdjust="spacingAndGlyphs">-0.50</text>
<text x="65.93" y="1503.8" font-size="10.8" textLength="28.78" lengthAdjust="spacingAndGlyphs">-1.00</text>
<text x="83.39" y="1513" font-size="10.8" textLength="41.42" lengthAdjust="spacingAndGlyphs">25 Sept</text>
<text x="144.95" y="1513" font-size="10.8" textLength="28.29" lengthAdjust="spacingAndGlyphs">2 Oct</text>
<text x="198.95" y="1513" font-size="10.8" textLength="28.29" lengthAdjust="spacingAndGlyphs">9 Oct</text>
<text x="250.57" y="1513" font-size="10.8" textLength="35.07" lengthAdjust="spacingAndGlyphs">16 Oct</text>
<text x="305.56" y="1513" font-size="10.8" textLength="35.07" lengthAdjust="spacingAndGlyphs">23 Oct</text>
<text x="359.56" y="1513" font-size="10.8" textLength="35.07" lengthAdjust="spacingAndGlyphs">30 Oct</text>
<text x="416.65" y="1513" font-size="10.8" textLength="30.25" lengthAdjust="spacingAndGlyphs">6 Nov</text>
<text x="468.26" y="1513" font-size="10.8" textLength="37.03" lengthAdjust="spacingAndGlyphs">13 Nov</text>
<text x="522.26" y="1513" font-size="10.8" textLength="37.03" lengthAdjust="spacingAndGlyphs">20 Nov</text>
<text x="577.26" y="1513" font-size="10.8" textLength="37.03" lengthAdjust="spacingAndGlyphs">27 Nov</text>
<text x="635.97" y="1514" font-size="10.8" textLength="29.64" lengthAdjust="spacingAndGlyphs">4 Déc</text>
<text x="686.58" y="1514" font-size="10.8" textLength="36.39" lengthAdjust="spacingAndGlyphs">11 Déc</text>
<text x="741.58" y="1514" font-size="10.8" textLength="36.41" lengthAdjust="spacingAndGlyphs">18 Déc</text>
<text x="796.58" y="1514" font-size="10.8" textLength="36.41" lengthAdjust="spacingAndGlyphs">27 Déc</text>
<text x="852.88" y="1513" font-size="10.8" textLength="33.81" lengthAdjust="spacingAndGlyphs">4 Janv</text>
<text x="903.49" y="1513" font-size="10.8" textLength="40.57" lengthAdjust="spacingAndGlyphs">11 Janv</text>
<text x="958.49" y="1513" font-size="10.8" textLength="40.58" lengthAdjust="spacingAndGlyphs">18 Janv</text>
<text x="1013.48" y="1513" font-size="10.8" textLength="40.58" lengthAdjust="spacingAndGlyphs">25 Janv</text>
<text x="1068.18" y="1514" font-size="10.8" textLength="39.2" lengthAdjust="spacingAndGlyphs">1er Fév</text>
<text x="1128.63" y="1514" font-size="10.8" textLength="28.3" lengthAdjust="spacingAndGlyphs">8 Fév</text>
<text x="493" y="1528.3" font-size="10.8" textLength="260.67" lengthAdjust="spacingAndGlyphs">Date (du 25 Septembre 2018 au 8 Février 2019)</text>
<text x="-15.5" y="0" font-size="10.8" textLength="30.8" lengthAdjust="spacingAndGlyphs" transform="translate(63,1412.5) rotate(-90)">MACD</text>
<text x="110.4" y="1294" font-size="24.4" textLength="66.03" lengthAdjust="spacingAndGlyphs">Xilam</text>
<text x="185.5" y="1294" font-size="24.4" textLength="131.93" lengthAdjust="spacingAndGlyphs">Animation:</text>
<text x="325.39" y="1294" font-size="24.4" textLength="120.84" lengthAdjust="spacingAndGlyphs">graphique</text>
<text x="454.4" y="1294" font-size="24.4" textLength="32.47" lengthAdjust="spacingAndGlyphs">du</text>
<text x="495.08" y="1294" font-size="24.4" textLength="69.12" lengthAdjust="spacingAndGlyphs">MACD</text>
<text x="574.19" y="1294" font-size="24.4" textLength="11.49" lengthAdjust="spacingAndGlyphs">-</text>
<text x="592.26" y="1294" font-size="24.4" textLength="189.49" lengthAdjust="spacingAndGlyphs">MACD(12,26,9)</text>
<text x="788.14" y="1294" font-size="24.4" textLength="11.02" lengthAdjust="spacingAndGlyphs">-</text>
<text x="808" y="1294" font-size="24.4" textLength="209.44" lengthAdjust="spacingAndGlyphs">AnalyBourse.com</text>
</g>
</svg></body></html>
